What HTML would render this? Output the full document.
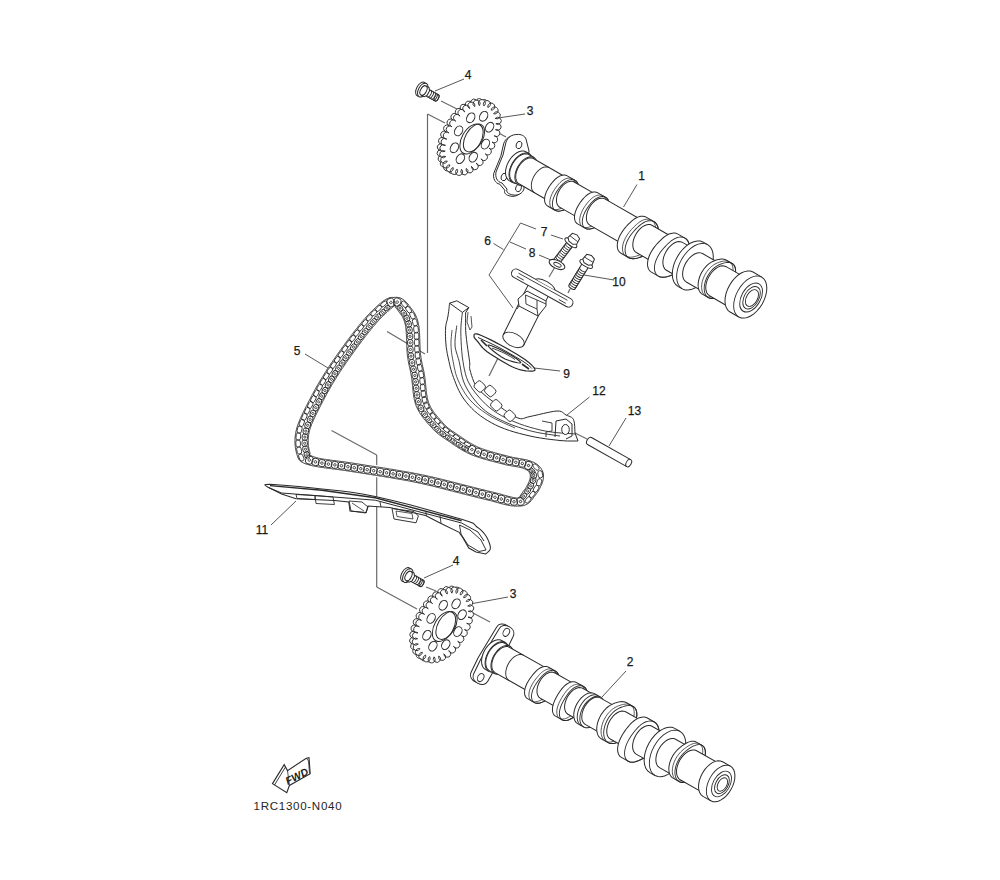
<!DOCTYPE html>
<html><head><meta charset="utf-8"><style>
html,body{margin:0;padding:0;background:#fff;}
svg{display:block;font-family:"Liberation Sans",sans-serif;}
</style></head><body>
<svg width="1000" height="880" viewBox="0 0 1000 880">
<rect width="1000" height="880" fill="#fff"/>
<text x="468" y="79" text-anchor="middle" font-size="12" fill="#1a1a1a" stroke="#1a1a1a" stroke-width="0.25">4</text>
<text x="530" y="115" text-anchor="middle" font-size="12" fill="#1a1a1a" stroke="#1a1a1a" stroke-width="0.25">3</text>
<text x="641.5" y="180" text-anchor="middle" font-size="12" fill="#1a1a1a" stroke="#1a1a1a" stroke-width="0.25">1</text>
<text x="544" y="235.5" text-anchor="middle" font-size="12" fill="#1a1a1a" stroke="#1a1a1a" stroke-width="0.25">7</text>
<text x="487.5" y="244.5" text-anchor="middle" font-size="12" fill="#1a1a1a" stroke="#1a1a1a" stroke-width="0.25">6</text>
<text x="532" y="256.5" text-anchor="middle" font-size="12" fill="#1a1a1a" stroke="#1a1a1a" stroke-width="0.25">8</text>
<text x="619" y="286" text-anchor="middle" font-size="12" fill="#1a1a1a" stroke="#1a1a1a" stroke-width="0.25">10</text>
<text x="566.5" y="377.5" text-anchor="middle" font-size="12" fill="#1a1a1a" stroke="#1a1a1a" stroke-width="0.25">9</text>
<text x="297" y="355" text-anchor="middle" font-size="12" fill="#1a1a1a" stroke="#1a1a1a" stroke-width="0.25">5</text>
<text x="599" y="395" text-anchor="middle" font-size="12" fill="#1a1a1a" stroke="#1a1a1a" stroke-width="0.25">12</text>
<text x="634.5" y="415" text-anchor="middle" font-size="12" fill="#1a1a1a" stroke="#1a1a1a" stroke-width="0.25">13</text>
<text x="262" y="534" text-anchor="middle" font-size="12" fill="#1a1a1a" stroke="#1a1a1a" stroke-width="0.25">11</text>
<text x="456" y="565" text-anchor="middle" font-size="12" fill="#1a1a1a" stroke="#1a1a1a" stroke-width="0.25">4</text>
<text x="513" y="598" text-anchor="middle" font-size="12" fill="#1a1a1a" stroke="#1a1a1a" stroke-width="0.25">3</text>
<text x="630" y="666" text-anchor="middle" font-size="12" fill="#1a1a1a" stroke="#1a1a1a" stroke-width="0.25">2</text>
<line x1="464" y1="79" x2="435" y2="91" stroke="#444" stroke-width="0.9" opacity="1"/>
<line x1="525" y1="114" x2="498" y2="118" stroke="#444" stroke-width="0.9" opacity="1"/>
<line x1="637" y1="184.5" x2="623.5" y2="207" stroke="#444" stroke-width="0.9" opacity="1"/>
<line x1="551" y1="235" x2="563" y2="239" stroke="#444" stroke-width="0.9" opacity="1"/>
<line x1="520.5" y1="223" x2="536" y2="229" stroke="#444" stroke-width="0.9" opacity="1"/>
<line x1="520.5" y1="223" x2="489" y2="275" stroke="#444" stroke-width="0.9" opacity="1"/>
<line x1="489" y1="275" x2="513" y2="308" stroke="#444" stroke-width="0.9" opacity="1"/>
<line x1="493.5" y1="243.5" x2="503.5" y2="249.5" stroke="#444" stroke-width="0.9" opacity="1"/>
<line x1="510" y1="242" x2="526" y2="249" stroke="#444" stroke-width="0.9" opacity="1"/>
<line x1="539" y1="255" x2="551" y2="260" stroke="#444" stroke-width="0.9" opacity="1"/>
<line x1="614" y1="280" x2="584" y2="275" stroke="#444" stroke-width="0.9" opacity="1"/>
<line x1="560" y1="371" x2="534" y2="368" stroke="#444" stroke-width="0.9" opacity="1"/>
<line x1="305" y1="354" x2="328" y2="368" stroke="#444" stroke-width="0.9" opacity="1"/>
<line x1="589.5" y1="397" x2="567" y2="415" stroke="#444" stroke-width="0.9" opacity="1"/>
<line x1="626" y1="418" x2="609" y2="446" stroke="#444" stroke-width="0.9" opacity="1"/>
<line x1="271" y1="525" x2="296" y2="501" stroke="#444" stroke-width="0.9" opacity="1"/>
<line x1="453" y1="565" x2="424" y2="578" stroke="#444" stroke-width="0.9" opacity="1"/>
<line x1="508" y1="597" x2="470" y2="604" stroke="#444" stroke-width="0.9" opacity="1"/>
<line x1="626" y1="671" x2="602" y2="697" stroke="#444" stroke-width="0.9" opacity="1"/>
<line x1="427.5" y1="114" x2="427.5" y2="353" stroke="#6a6a6a" stroke-width="1.2" opacity="1"/>
<line x1="427.5" y1="114" x2="445" y2="123" stroke="#6a6a6a" stroke-width="1.2" opacity="1"/>
<line x1="425" y1="354" x2="387" y2="331.5" stroke="#6a6a6a" stroke-width="1.2" opacity="1"/>
<line x1="441" y1="101" x2="457" y2="109" stroke="#6a6a6a" stroke-width="1.2" opacity="1"/>
<line x1="471" y1="118" x2="506" y2="137" stroke="#6a6a6a" stroke-width="1.2" opacity="1"/>
<line x1="331.5" y1="430.5" x2="376.7" y2="455" stroke="#6a6a6a" stroke-width="1.2" opacity="1"/>
<line x1="376.7" y1="455" x2="376.7" y2="587" stroke="#6a6a6a" stroke-width="1.2" opacity="1"/>
<line x1="376.7" y1="587" x2="417" y2="609" stroke="#6a6a6a" stroke-width="1.2" opacity="1"/>
<line x1="426" y1="587" x2="436" y2="591" stroke="#6a6a6a" stroke-width="1.2" opacity="1"/>
<line x1="456" y1="604" x2="490" y2="622" stroke="#6a6a6a" stroke-width="1.2" opacity="1"/>
<line x1="555" y1="267" x2="549" y2="277" stroke="#6a6a6a" stroke-width="1.2" opacity="1"/>
<line x1="570" y1="289" x2="568" y2="293" stroke="#6a6a6a" stroke-width="1.2" opacity="1"/>
<line x1="500" y1="354" x2="489" y2="376" stroke="#6a6a6a" stroke-width="1.2" opacity="1"/>
<line x1="569" y1="430" x2="587" y2="439" stroke="#6a6a6a" stroke-width="1.2" opacity="1"/>
<path d="M486.40,147.18 A3.5,3.5 0 1 1 482.66,152.84 A3.5,3.5 0 1 1 478.35,157.87 A3.5,3.5 0 1 1 473.64,162.08 A3.5,3.5 0 1 1 468.71,165.31 A3.5,3.5 0 1 1 463.75,167.43 A3.5,3.5 0 1 1 458.95,168.36 A3.5,3.5 0 1 1 454.49,168.07 A3.5,3.5 0 1 1 450.54,166.56 A3.5,3.5 0 1 1 447.27,163.90 A3.5,3.5 0 1 1 444.79,160.18 A3.5,3.5 0 1 1 443.19,155.56 A3.5,3.5 0 1 1 442.55,150.20 A3.5,3.5 0 1 1 442.88,144.32 A3.5,3.5 0 1 1 444.17,138.14 A3.5,3.5 0 1 1 446.37,131.89 A3.5,3.5 0 1 1 449.40,125.82 A3.5,3.5 0 1 1 453.14,120.16 A3.5,3.5 0 1 1 457.45,115.13 A3.5,3.5 0 1 1 462.16,110.92 A3.5,3.5 0 1 1 467.09,107.69 A3.5,3.5 0 1 1 472.05,105.57 A3.5,3.5 0 1 1 476.85,104.64 A3.5,3.5 0 1 1 481.31,104.93 A3.5,3.5 0 1 1 485.25,106.44 A3.5,3.5 0 1 1 488.53,109.10 A3.5,3.5 0 1 1 491.01,112.82 A3.5,3.5 0 1 1 492.61,117.44 A3.5,3.5 0 1 1 493.25,122.80 A3.5,3.5 0 1 1 492.92,128.68 A3.5,3.5 0 1 1 491.63,134.86 A3.5,3.5 0 1 1 489.43,141.11 A3.5,3.5 0 1 1 486.40,147.18 Z" fill="#fff" stroke="#2a2a2a" stroke-width="0.95"/>
<path d="M489.00,148.18 A3.5,3.5 0 1 1 485.26,153.84 A3.5,3.5 0 1 1 480.95,158.87 A3.5,3.5 0 1 1 476.24,163.08 A3.5,3.5 0 1 1 471.31,166.31 A3.5,3.5 0 1 1 466.35,168.43 A3.5,3.5 0 1 1 461.55,169.36 A3.5,3.5 0 1 1 457.09,169.07 A3.5,3.5 0 1 1 453.14,167.56 A3.5,3.5 0 1 1 449.87,164.90 A3.5,3.5 0 1 1 447.39,161.18 A3.5,3.5 0 1 1 445.79,156.56 A3.5,3.5 0 1 1 445.15,151.20 A3.5,3.5 0 1 1 445.48,145.32 A3.5,3.5 0 1 1 446.77,139.14 A3.5,3.5 0 1 1 448.97,132.89 A3.5,3.5 0 1 1 452.00,126.82 A3.5,3.5 0 1 1 455.74,121.16 A3.5,3.5 0 1 1 460.05,116.13 A3.5,3.5 0 1 1 464.76,111.92 A3.5,3.5 0 1 1 469.69,108.69 A3.5,3.5 0 1 1 474.65,106.57 A3.5,3.5 0 1 1 479.45,105.64 A3.5,3.5 0 1 1 483.91,105.93 A3.5,3.5 0 1 1 487.86,107.44 A3.5,3.5 0 1 1 491.13,110.10 A3.5,3.5 0 1 1 493.61,113.82 A3.5,3.5 0 1 1 495.21,118.44 A3.5,3.5 0 1 1 495.85,123.80 A3.5,3.5 0 1 1 495.52,129.68 A3.5,3.5 0 1 1 494.23,135.86 A3.5,3.5 0 1 1 492.03,142.11 A3.5,3.5 0 1 1 489.00,148.18 Z" fill="#fff" stroke="#2a2a2a" stroke-width="0.95"/>
<ellipse cx="485.4" cy="144.1" rx="3.8" ry="5.2" transform="rotate(30 485.4 144.1)" fill="none" stroke="#2a2a2a" stroke-width="1"/>
<ellipse cx="473.3" cy="157.2" rx="3.8" ry="5.2" transform="rotate(30 473.3 157.2)" fill="none" stroke="#2a2a2a" stroke-width="1"/>
<ellipse cx="460.4" cy="158.7" rx="3.8" ry="5.2" transform="rotate(30 460.4 158.7)" fill="none" stroke="#2a2a2a" stroke-width="1"/>
<ellipse cx="454.4" cy="147.8" rx="3.8" ry="5.2" transform="rotate(30 454.4 147.8)" fill="none" stroke="#2a2a2a" stroke-width="1"/>
<ellipse cx="458.6" cy="130.9" rx="3.8" ry="5.2" transform="rotate(30 458.6 130.9)" fill="none" stroke="#2a2a2a" stroke-width="1"/>
<ellipse cx="470.7" cy="117.8" rx="3.8" ry="5.2" transform="rotate(30 470.7 117.8)" fill="none" stroke="#2a2a2a" stroke-width="1"/>
<ellipse cx="483.6" cy="116.3" rx="3.8" ry="5.2" transform="rotate(30 483.6 116.3)" fill="none" stroke="#2a2a2a" stroke-width="1"/>
<ellipse cx="489.6" cy="127.2" rx="3.8" ry="5.2" transform="rotate(30 489.6 127.2)" fill="none" stroke="#2a2a2a" stroke-width="1"/>
<ellipse cx="471.5" cy="139.0" rx="9.6" ry="16.4" transform="rotate(30 471.5 139.0)" fill="none" stroke="#2a2a2a" stroke-width="1"/>
<ellipse cx="474.0" cy="138.0" rx="8.6" ry="15.2" transform="rotate(30 474.0 138.0)" fill="none" stroke="#2a2a2a" stroke-width="1"/>
<path d="M458.90,634.68 A3.5,3.5 0 1 1 455.16,640.34 A3.5,3.5 0 1 1 450.85,645.37 A3.5,3.5 0 1 1 446.14,649.58 A3.5,3.5 0 1 1 441.21,652.81 A3.5,3.5 0 1 1 436.25,654.93 A3.5,3.5 0 1 1 431.45,655.86 A3.5,3.5 0 1 1 426.99,655.57 A3.5,3.5 0 1 1 423.04,654.06 A3.5,3.5 0 1 1 419.77,651.40 A3.5,3.5 0 1 1 417.29,647.68 A3.5,3.5 0 1 1 415.69,643.06 A3.5,3.5 0 1 1 415.05,637.70 A3.5,3.5 0 1 1 415.38,631.82 A3.5,3.5 0 1 1 416.67,625.64 A3.5,3.5 0 1 1 418.87,619.39 A3.5,3.5 0 1 1 421.90,613.32 A3.5,3.5 0 1 1 425.64,607.66 A3.5,3.5 0 1 1 429.95,602.63 A3.5,3.5 0 1 1 434.66,598.42 A3.5,3.5 0 1 1 439.59,595.19 A3.5,3.5 0 1 1 444.55,593.07 A3.5,3.5 0 1 1 449.35,592.14 A3.5,3.5 0 1 1 453.81,592.43 A3.5,3.5 0 1 1 457.75,593.94 A3.5,3.5 0 1 1 461.03,596.60 A3.5,3.5 0 1 1 463.51,600.32 A3.5,3.5 0 1 1 465.11,604.94 A3.5,3.5 0 1 1 465.75,610.30 A3.5,3.5 0 1 1 465.42,616.18 A3.5,3.5 0 1 1 464.13,622.36 A3.5,3.5 0 1 1 461.93,628.61 A3.5,3.5 0 1 1 458.90,634.68 Z" fill="#fff" stroke="#2a2a2a" stroke-width="0.95"/>
<path d="M461.50,635.68 A3.5,3.5 0 1 1 457.76,641.34 A3.5,3.5 0 1 1 453.45,646.37 A3.5,3.5 0 1 1 448.74,650.58 A3.5,3.5 0 1 1 443.81,653.81 A3.5,3.5 0 1 1 438.85,655.93 A3.5,3.5 0 1 1 434.05,656.86 A3.5,3.5 0 1 1 429.59,656.57 A3.5,3.5 0 1 1 425.64,655.06 A3.5,3.5 0 1 1 422.37,652.40 A3.5,3.5 0 1 1 419.89,648.68 A3.5,3.5 0 1 1 418.29,644.06 A3.5,3.5 0 1 1 417.65,638.70 A3.5,3.5 0 1 1 417.98,632.82 A3.5,3.5 0 1 1 419.27,626.64 A3.5,3.5 0 1 1 421.47,620.39 A3.5,3.5 0 1 1 424.50,614.32 A3.5,3.5 0 1 1 428.24,608.66 A3.5,3.5 0 1 1 432.55,603.63 A3.5,3.5 0 1 1 437.26,599.42 A3.5,3.5 0 1 1 442.19,596.19 A3.5,3.5 0 1 1 447.15,594.07 A3.5,3.5 0 1 1 451.95,593.14 A3.5,3.5 0 1 1 456.41,593.43 A3.5,3.5 0 1 1 460.36,594.94 A3.5,3.5 0 1 1 463.63,597.60 A3.5,3.5 0 1 1 466.11,601.32 A3.5,3.5 0 1 1 467.71,605.94 A3.5,3.5 0 1 1 468.35,611.30 A3.5,3.5 0 1 1 468.02,617.18 A3.5,3.5 0 1 1 466.73,623.36 A3.5,3.5 0 1 1 464.53,629.61 A3.5,3.5 0 1 1 461.50,635.68 Z" fill="#fff" stroke="#2a2a2a" stroke-width="0.95"/>
<ellipse cx="457.9" cy="631.6" rx="3.8" ry="5.2" transform="rotate(30 457.9 631.6)" fill="none" stroke="#2a2a2a" stroke-width="1"/>
<ellipse cx="445.8" cy="644.7" rx="3.8" ry="5.2" transform="rotate(30 445.8 644.7)" fill="none" stroke="#2a2a2a" stroke-width="1"/>
<ellipse cx="432.9" cy="646.2" rx="3.8" ry="5.2" transform="rotate(30 432.9 646.2)" fill="none" stroke="#2a2a2a" stroke-width="1"/>
<ellipse cx="426.9" cy="635.3" rx="3.8" ry="5.2" transform="rotate(30 426.9 635.3)" fill="none" stroke="#2a2a2a" stroke-width="1"/>
<ellipse cx="431.1" cy="618.4" rx="3.8" ry="5.2" transform="rotate(30 431.1 618.4)" fill="none" stroke="#2a2a2a" stroke-width="1"/>
<ellipse cx="443.2" cy="605.3" rx="3.8" ry="5.2" transform="rotate(30 443.2 605.3)" fill="none" stroke="#2a2a2a" stroke-width="1"/>
<ellipse cx="456.1" cy="603.8" rx="3.8" ry="5.2" transform="rotate(30 456.1 603.8)" fill="none" stroke="#2a2a2a" stroke-width="1"/>
<ellipse cx="462.1" cy="614.7" rx="3.8" ry="5.2" transform="rotate(30 462.1 614.7)" fill="none" stroke="#2a2a2a" stroke-width="1"/>
<ellipse cx="444.0" cy="626.5" rx="9.6" ry="16.4" transform="rotate(30 444.0 626.5)" fill="none" stroke="#2a2a2a" stroke-width="1"/>
<ellipse cx="446.5" cy="625.5" rx="8.6" ry="15.2" transform="rotate(30 446.5 625.5)" fill="none" stroke="#2a2a2a" stroke-width="1"/>
<g transform="translate(423.5,90.5) rotate(29)">
<path d="M5,-3.6 L15,-3.6 A1.9,3.6 0 0 1 15,3.6 L5,3.6 Z" fill="#fff" stroke="#2a2a2a" stroke-width="1"/>
<ellipse cx="15" cy="0" rx="1.9" ry="3.6" fill="none" stroke="#2a2a2a" stroke-width="0.9"/>
<path d="M6.5,-3.6 A1.8,3.6 0 0 1 6.5,3.6" fill="none" stroke="#2a2a2a" stroke-width="0.9"/>
<path d="M8.7,-3.6 A1.8,3.6 0 0 1 8.7,3.6" fill="none" stroke="#2a2a2a" stroke-width="0.9"/>
<path d="M10.9,-3.6 A1.8,3.6 0 0 1 10.9,3.6" fill="none" stroke="#2a2a2a" stroke-width="0.9"/>
<path d="M13.1,-3.6 A1.8,3.6 0 0 1 13.1,3.6" fill="none" stroke="#2a2a2a" stroke-width="0.9"/>
<ellipse cx="-3" cy="0" rx="4.3" ry="7.6" fill="#fff" stroke="#2a2a2a" stroke-width="1"/>
<ellipse cx="-0.8" cy="0" rx="4.3" ry="7.6" fill="#fff" stroke="#2a2a2a" stroke-width="1"/>
<path d="M0,-5.2 L3.5,-5.2 L5.5,-2.5 L5.5,2.5 L3.5,5.2 L0,5.2" fill="#fff" stroke="#2a2a2a" stroke-width="1"/>
<ellipse cx="0" cy="0" rx="2.9" ry="5.2" fill="#fff" stroke="#2a2a2a" stroke-width="1"/>
</g>
<g transform="translate(408.5,576) rotate(29)">
<path d="M5,-3.6 L15,-3.6 A1.9,3.6 0 0 1 15,3.6 L5,3.6 Z" fill="#fff" stroke="#2a2a2a" stroke-width="1"/>
<ellipse cx="15" cy="0" rx="1.9" ry="3.6" fill="none" stroke="#2a2a2a" stroke-width="0.9"/>
<path d="M6.5,-3.6 A1.8,3.6 0 0 1 6.5,3.6" fill="none" stroke="#2a2a2a" stroke-width="0.9"/>
<path d="M8.7,-3.6 A1.8,3.6 0 0 1 8.7,3.6" fill="none" stroke="#2a2a2a" stroke-width="0.9"/>
<path d="M10.9,-3.6 A1.8,3.6 0 0 1 10.9,3.6" fill="none" stroke="#2a2a2a" stroke-width="0.9"/>
<path d="M13.1,-3.6 A1.8,3.6 0 0 1 13.1,3.6" fill="none" stroke="#2a2a2a" stroke-width="0.9"/>
<ellipse cx="-3" cy="0" rx="4.3" ry="7.6" fill="#fff" stroke="#2a2a2a" stroke-width="1"/>
<ellipse cx="-0.8" cy="0" rx="4.3" ry="7.6" fill="#fff" stroke="#2a2a2a" stroke-width="1"/>
<path d="M0,-5.2 L3.5,-5.2 L5.5,-2.5 L5.5,2.5 L3.5,5.2 L0,5.2" fill="#fff" stroke="#2a2a2a" stroke-width="1"/>
<ellipse cx="0" cy="0" rx="2.9" ry="5.2" fill="#fff" stroke="#2a2a2a" stroke-width="1"/>
</g>
<g transform="translate(573,240) rotate(127.3)">
<path d="M26.4,-3.6 L4,-3.6 L4,3.6 L26.4,3.6 A1.8,3.6 0 0 0 26.4,-3.6" fill="#fff" stroke="#2a2a2a" stroke-width="1"/>
<path d="M5.0,-3.6 A1.6,3.6 0 0 1 5.0,3.6" fill="none" stroke="#2a2a2a" stroke-width="0.9"/>
<path d="M7.3,-3.6 A1.6,3.6 0 0 1 7.3,3.6" fill="none" stroke="#2a2a2a" stroke-width="0.9"/>
<path d="M9.6,-3.6 A1.6,3.6 0 0 1 9.6,3.6" fill="none" stroke="#2a2a2a" stroke-width="0.9"/>
<path d="M11.9,-3.6 A1.6,3.6 0 0 1 11.9,3.6" fill="none" stroke="#2a2a2a" stroke-width="0.9"/>
<path d="M14.2,-3.6 A1.6,3.6 0 0 1 14.2,3.6" fill="none" stroke="#2a2a2a" stroke-width="0.9"/>
<path d="M16.5,-3.6 A1.6,3.6 0 0 1 16.5,3.6" fill="none" stroke="#2a2a2a" stroke-width="0.9"/>
<path d="M18.8,-3.6 A1.6,3.6 0 0 1 18.8,3.6" fill="none" stroke="#2a2a2a" stroke-width="0.9"/>
<path d="M21.1,-3.6 A1.6,3.6 0 0 1 21.1,3.6" fill="none" stroke="#2a2a2a" stroke-width="0.9"/>
<path d="M23.4,-3.6 A1.6,3.6 0 0 1 23.4,3.6" fill="none" stroke="#2a2a2a" stroke-width="0.9"/>
<ellipse cx="3.5" cy="0" rx="2.6" ry="7.2" fill="#fff" stroke="#2a2a2a" stroke-width="1"/>
<path d="M-5,-4.5 L1,-5.5 L3.5,-2.5 L3.5,2.5 L1,5.5 L-5,4.5 L-6.5,0 Z" fill="#fff" stroke="#2a2a2a" stroke-width="1"/>
<path d="M-1.5,-5 L-1.5,5" stroke="#2a2a2a" stroke-width="0.8"/>
</g>
<g transform="translate(588,261) rotate(121.6)">
<path d="M30.5,-3.6 L4,-3.6 L4,3.6 L30.5,3.6 A1.8,3.6 0 0 0 30.5,-3.6" fill="#fff" stroke="#2a2a2a" stroke-width="1"/>
<path d="M10.0,-3.6 A1.6,3.6 0 0 1 10.0,3.6" fill="none" stroke="#2a2a2a" stroke-width="0.9"/>
<path d="M12.3,-3.6 A1.6,3.6 0 0 1 12.3,3.6" fill="none" stroke="#2a2a2a" stroke-width="0.9"/>
<path d="M14.6,-3.6 A1.6,3.6 0 0 1 14.6,3.6" fill="none" stroke="#2a2a2a" stroke-width="0.9"/>
<path d="M16.9,-3.6 A1.6,3.6 0 0 1 16.9,3.6" fill="none" stroke="#2a2a2a" stroke-width="0.9"/>
<path d="M19.2,-3.6 A1.6,3.6 0 0 1 19.2,3.6" fill="none" stroke="#2a2a2a" stroke-width="0.9"/>
<path d="M21.5,-3.6 A1.6,3.6 0 0 1 21.5,3.6" fill="none" stroke="#2a2a2a" stroke-width="0.9"/>
<path d="M23.8,-3.6 A1.6,3.6 0 0 1 23.8,3.6" fill="none" stroke="#2a2a2a" stroke-width="0.9"/>
<path d="M26.1,-3.6 A1.6,3.6 0 0 1 26.1,3.6" fill="none" stroke="#2a2a2a" stroke-width="0.9"/>
<path d="M28.4,-3.6 A1.6,3.6 0 0 1 28.4,3.6" fill="none" stroke="#2a2a2a" stroke-width="0.9"/>
<ellipse cx="3.5" cy="0" rx="2.6" ry="7.2" fill="#fff" stroke="#2a2a2a" stroke-width="1"/>
<path d="M-5,-4.5 L1,-5.5 L3.5,-2.5 L3.5,2.5 L1,5.5 L-5,4.5 L-6.5,0 Z" fill="#fff" stroke="#2a2a2a" stroke-width="1"/>
<path d="M-1.5,-5 L-1.5,5" stroke="#2a2a2a" stroke-width="0.8"/>
</g>
<ellipse cx="557" cy="264.5" rx="8.5" ry="4" transform="rotate(25 557 264.5)" fill="#fff" stroke="#2a2a2a" stroke-width="1.1"/>
<ellipse cx="557.5" cy="264.5" rx="4" ry="1.8" transform="rotate(25 557 264.5)" fill="none" stroke="#2a2a2a" stroke-width="0.9"/>
<g transform="translate(-2.2,1.2)"><path d="M517,134.5 C521,134 525,136 526,139 L529,151 L524,186 C525,192 519,196 513,195 C508,194 506,192 507,189 L502,183 C497,182 495,177 496,172 L503,155 L506,142 C508,137 512,134.5 517,134.5 Z" fill="#fff" stroke="#2a2a2a" stroke-width="1"/></g>
<path d="M517,134.5 C521,134 525,136 526,139 L529,151 L524,186 C525,192 519,196 513,195 C508,194 506,192 507,189 L502,183 C497,182 495,177 496,172 L503,155 L506,142 C508,137 512,134.5 517,134.5 Z" fill="#fff" stroke="#2a2a2a" stroke-width="1"/>
<ellipse cx="519" cy="145" rx="2.8" ry="3.8" transform="rotate(20 519 145)" fill="none" stroke="#2a2a2a" stroke-width="0.9"/>
<ellipse cx="504" cy="177" rx="2.8" ry="3.8" transform="rotate(20 504 177)" fill="none" stroke="#2a2a2a" stroke-width="0.9"/>
<ellipse cx="518.5" cy="188" rx="2.8" ry="3.8" transform="rotate(20 518.5 188)" fill="none" stroke="#2a2a2a" stroke-width="0.9"/>
<g transform="translate(514,164.2) rotate(29.86)">

<path d="M4.00,16.63 L2.05,16.31 L0.18,15.37 L-1.54,13.83 L-3.06,11.76 L-4.30,9.24 L-5.22,6.37 L-5.79,3.24 L-5.98,0.00 L-5.79,-3.24 L-5.22,-6.37 L-4.30,-9.24 L-3.06,-11.76 L-1.54,-13.83 L0.18,-15.37 L2.05,-16.31 L4.00,-16.63 L8.00,-16.63 L9.95,-16.31 L11.82,-15.37 L13.54,-13.83 L15.06,-11.76 L16.30,-9.24 L17.22,-6.37 L17.79,-3.24 L17.98,0.00 L17.79,3.24 L17.22,6.37 L16.30,9.24 L15.06,11.76 L13.54,13.83 L11.82,15.37 L9.95,16.31 L8.00,16.63 Z" fill="#fff" stroke="#2a2a2a" stroke-width="1.0"/>
<path d="M8.00,16.63 L6.05,16.31 L4.18,15.37 L2.46,13.83 L0.94,11.76 L-0.30,9.24 L-1.22,6.37 L-1.79,3.24 L-1.98,0.00 L-1.79,-3.24 L-1.22,-6.37 L-0.30,-9.24 L0.94,-11.76 L2.46,-13.83 L4.18,-15.37 L6.05,-16.31 L8.00,-16.63" fill="none" stroke="#2a2a2a" stroke-width="0.9"/>
<path d="M8.00,15.73 L6.16,15.42 L4.39,14.53 L2.76,13.08 L1.33,11.12 L0.15,8.74 L-0.72,6.02 L-1.25,3.07 L-1.44,0.00 L-1.25,-3.07 L-0.72,-6.02 L0.15,-8.74 L1.33,-11.12 L2.76,-13.08 L4.39,-14.53 L6.16,-15.42 L8.00,-15.73 L14.00,-15.73 L15.84,-15.42 L17.61,-14.53 L19.24,-13.08 L20.67,-11.12 L21.85,-8.74 L22.72,-6.02 L23.25,-3.07 L23.44,0.00 L23.25,3.07 L22.72,6.02 L21.85,8.74 L20.67,11.12 L19.24,13.08 L17.61,14.53 L15.84,15.42 L14.00,15.73 Z" fill="#fff" stroke="#2a2a2a" stroke-width="1.0"/>
<path d="M14.00,15.73 L12.16,15.42 L10.39,14.53 L8.76,13.08 L7.33,11.12 L6.15,8.74 L5.28,6.02 L4.75,3.07 L4.56,0.00 L4.75,-3.07 L5.28,-6.02 L6.15,-8.74 L7.33,-11.12 L8.76,-13.08 L10.39,-14.53 L12.16,-15.42 L14.00,-15.73" fill="none" stroke="#2a2a2a" stroke-width="0.9"/>
<path d="M14.00,14.54 L12.30,14.26 L10.66,13.43 L9.15,12.09 L7.83,10.28 L6.75,8.08 L5.94,5.56 L5.44,2.84 L5.28,0.00 L5.44,-2.84 L5.94,-5.56 L6.75,-8.08 L7.83,-10.28 L9.15,-12.09 L10.66,-13.43 L12.30,-14.26 L14.00,-14.54 L52.00,-14.54 L53.70,-14.26 L55.34,-13.43 L56.85,-12.09 L58.17,-10.28 L59.25,-8.08 L60.06,-5.56 L60.56,-2.84 L60.72,0.00 L60.56,2.84 L60.06,5.56 L59.25,8.08 L58.17,10.28 L56.85,12.09 L55.34,13.43 L53.70,14.26 L52.00,14.54 Z" fill="#fff" stroke="#2a2a2a" stroke-width="1.0"/>
<path d="M52.00,14.54 L50.30,14.26 L48.66,13.43 L47.15,12.09 L45.83,10.28 L44.75,8.08 L43.94,5.56 L43.44,2.84 L43.28,0.00 L43.44,-2.84 L43.94,-5.56 L44.75,-8.08 L45.83,-10.28 L47.15,-12.09 L48.66,-13.43 L50.30,-14.26 L52.00,-14.54" fill="none" stroke="#2a2a2a" stroke-width="0.9"/>
<path d="M32.00,14.53 L30.30,14.25 L28.66,13.42 L27.16,12.08 L25.84,10.27 L24.75,8.07 L23.95,5.56 L23.45,2.83 L23.28,0.00 L23.45,-2.83 L23.95,-5.56 L24.75,-8.07 L25.84,-10.27 L27.16,-12.08 L28.66,-13.42 L30.30,-14.25 L32.00,-14.53" fill="none" stroke="#2a2a2a" stroke-width="0.9"/>
<path d="M41.67,4.62 L41.68,3.03 L41.75,1.50 L41.86,-0.00 L42.02,-1.46 L42.22,-2.87 L42.47,-4.26 L42.75,-5.61 L43.09,-6.92 L43.49,-8.19 L43.95,-9.40 L44.47,-10.53 L45.05,-11.58 L45.68,-12.55 L46.36,-13.42 L47.09,-14.19 L47.85,-14.85 L48.64,-15.39 L49.46,-15.82 L50.29,-16.13 L51.14,-16.32 L52.00,-16.38 L61.00,-16.38 L61.86,-16.32 L62.71,-16.13 L63.54,-15.82 L64.36,-15.39 L65.15,-14.85 L65.91,-14.19 L66.64,-13.42 L67.32,-12.55 L67.95,-11.58 L68.53,-10.53 L69.05,-9.40 L69.51,-8.19 L69.91,-6.92 L70.24,-5.60 L70.49,-4.24 L70.68,-2.85 L70.79,-1.43 L70.83,0.00 L70.79,1.43 L70.68,2.85 L70.49,4.24 L70.24,5.60 L69.91,6.92 L69.51,8.19 L69.05,9.40 L68.54,10.54 L67.98,11.63 L67.38,12.68 L66.74,13.67 L66.07,14.63 L65.35,15.55 L64.58,16.42 L63.77,17.22 L62.90,17.95 L61.97,18.56 L61.00,19.04 L59.98,19.36 L58.94,19.48 L49.94,19.48 L48.88,19.39 L47.84,19.07 L46.82,18.52 L45.86,17.73 L44.97,16.74 L44.17,15.54 L43.48,14.19 L42.91,12.71 L42.45,11.14 L42.11,9.52 L41.87,7.88 L41.73,6.23 Z" fill="#fff" stroke="#2a2a2a" stroke-width="1.0"/>
<path d="M61.00,19.04 L61.97,18.56 L62.90,17.95 L63.77,17.22 L64.58,16.42 L65.35,15.55 L66.07,14.63 L66.74,13.67 L67.38,12.67 L67.98,11.63 L68.54,10.54 L69.05,9.40 L69.51,8.19 L69.91,6.92 L70.24,5.60 L70.49,4.24 L70.68,2.84 L70.79,1.43 L70.83,0.00 L70.79,-1.43 L70.68,-2.84 L70.49,-4.24 L70.24,-5.60 L69.91,-6.92 L69.51,-8.19 L69.05,-9.40 L68.53,-10.53 L67.95,-11.58 L67.32,-12.55 L66.64,-13.42 L65.91,-14.19 L65.15,-14.85 L64.36,-15.39 L63.54,-15.82 L62.71,-16.13 L61.86,-16.32 L61.00,-16.38 L60.14,-16.32 L59.29,-16.13 L58.46,-15.82 L57.64,-15.39 L56.85,-14.85 L56.09,-14.19 L55.36,-13.42 L54.68,-12.55 L54.05,-11.58 L53.47,-10.53 L52.95,-9.40 L52.49,-8.19 L52.09,-6.92 L51.75,-5.61 L51.46,-4.26 L51.22,-2.87 L51.02,-1.45 L50.86,-0.00 L50.75,1.50 L50.68,3.03 L50.67,4.61 L50.73,6.23 L50.87,7.87 L51.11,9.52 L51.45,11.14 L51.91,12.71 L52.48,14.19 L53.17,15.55 L53.97,16.74 L54.86,17.73 L55.82,18.52 L56.84,19.07 L57.88,19.39 L58.94,19.48 L59.98,19.36 Z" fill="none" stroke="#2a2a2a" stroke-width="0.9"/>
<path d="M58.00,19.04 L58.97,18.56 L59.90,17.95 L60.77,17.22 L61.58,16.42 L62.35,15.55 L63.07,14.63 L63.74,13.67 L64.38,12.67 L64.98,11.63 L65.54,10.54 L66.05,9.40 L66.51,8.19 L66.91,6.92 L67.24,5.60 L67.49,4.24 L67.68,2.84 L67.79,1.43 L67.83,0.00 L67.79,-1.43 L67.68,-2.84 L67.49,-4.24 L67.24,-5.60 L66.91,-6.92 L66.51,-8.19 L66.05,-9.40 L65.53,-10.53 L64.95,-11.58 L64.32,-12.55 L63.64,-13.42 L62.91,-14.19 L62.15,-14.85 L61.36,-15.39 L60.54,-15.82 L59.71,-16.13 L58.86,-16.32 L58.00,-16.38 L57.14,-16.32 L56.29,-16.13 L55.46,-15.82 L54.64,-15.39 L53.85,-14.85 L53.09,-14.19 L52.36,-13.42 L51.68,-12.55 L51.05,-11.58 L50.47,-10.53 L49.95,-9.40 L49.49,-8.19 L49.09,-6.92 L48.75,-5.61 L48.46,-4.26 L48.22,-2.87 L48.02,-1.45 L47.86,-0.00 L47.75,1.50 L47.68,3.03 L47.67,4.61 L47.73,6.23 L47.87,7.87 L48.11,9.52 L48.45,11.14 L48.91,12.71 L49.48,14.19 L50.17,15.55 L50.97,16.74 L51.86,17.73 L52.82,18.52 L53.84,19.07 L54.88,19.39 L55.94,19.48 L56.98,19.36 Z" fill="none" stroke="#2a2a2a" stroke-width="0.8" opacity="0.9"/>
<path d="M63.00,14.93 L61.25,14.64 L59.57,13.79 L58.02,12.41 L56.67,10.56 L55.55,8.30 L54.72,5.71 L54.21,2.91 L54.04,0.00 L54.21,-2.91 L54.72,-5.71 L55.55,-8.30 L56.67,-10.56 L58.02,-12.41 L59.57,-13.79 L61.25,-14.64 L63.00,-14.93" fill="none" stroke="#2a2a2a" stroke-width="0.9"/>
<path d="M61.00,14.55 L59.30,14.27 L57.66,13.45 L56.15,12.10 L54.83,10.29 L53.74,8.09 L52.93,5.57 L52.44,2.84 L52.27,0.00 L52.44,-2.84 L52.93,-5.57 L53.74,-8.09 L54.83,-10.29 L56.15,-12.10 L57.66,-13.45 L59.30,-14.27 L61.00,-14.55 L87.00,-14.55 L88.70,-14.27 L90.34,-13.45 L91.85,-12.10 L93.17,-10.29 L94.26,-8.09 L95.07,-5.57 L95.56,-2.84 L95.73,0.00 L95.56,2.84 L95.07,5.57 L94.26,8.09 L93.17,10.29 L91.85,12.10 L90.34,13.45 L88.70,14.27 L87.00,14.55 Z" fill="#fff" stroke="#2a2a2a" stroke-width="1.0"/>
<path d="M87.00,14.55 L85.30,14.27 L83.66,13.45 L82.15,12.10 L80.83,10.29 L79.74,8.09 L78.93,5.57 L78.44,2.84 L78.27,0.00 L78.44,-2.84 L78.93,-5.57 L79.74,-8.09 L80.83,-10.29 L82.15,-12.10 L83.66,-13.45 L85.30,-14.27 L87.00,-14.55" fill="none" stroke="#2a2a2a" stroke-width="0.9"/>
<path d="M76.35,4.76 L76.36,3.13 L76.43,1.54 L76.55,-0.00 L76.72,-1.50 L76.92,-2.96 L77.17,-4.39 L77.47,-5.78 L77.82,-7.14 L78.23,-8.44 L78.70,-9.69 L79.24,-10.85 L79.84,-11.94 L80.49,-12.94 L81.19,-13.83 L81.93,-14.62 L82.72,-15.30 L83.53,-15.87 L84.38,-16.31 L85.24,-16.63 L86.12,-16.82 L87.00,-16.89 L96.00,-16.89 L96.88,-16.82 L97.76,-16.63 L98.62,-16.31 L99.47,-15.87 L100.28,-15.30 L101.07,-14.62 L101.81,-13.83 L102.51,-12.94 L103.16,-11.94 L103.76,-10.85 L104.30,-9.69 L104.77,-8.44 L105.18,-7.14 L105.52,-5.78 L105.79,-4.37 L105.98,-2.93 L106.09,-1.47 L106.13,0.00 L106.09,1.47 L105.98,2.93 L105.79,4.37 L105.52,5.78 L105.18,7.14 L104.77,8.44 L104.30,9.69 L103.77,10.87 L103.19,11.99 L102.58,13.06 L101.92,14.09 L101.22,15.08 L100.48,16.02 L99.69,16.92 L98.85,17.75 L97.96,18.50 L97.00,19.13 L96.00,19.63 L94.95,19.95 L93.88,20.08 L84.88,20.08 L83.79,19.98 L82.71,19.66 L81.66,19.09 L80.67,18.28 L79.75,17.25 L78.93,16.02 L78.22,14.63 L77.63,13.11 L77.16,11.49 L76.80,9.81 L76.56,8.12 L76.41,6.42 Z" fill="#fff" stroke="#2a2a2a" stroke-width="1.0"/>
<path d="M96.00,19.63 L97.00,19.13 L97.96,18.50 L98.85,17.75 L99.70,16.92 L100.48,16.03 L101.22,15.08 L101.92,14.09 L102.58,13.06 L103.20,11.99 L103.77,10.87 L104.30,9.69 L104.77,8.44 L105.18,7.14 L105.52,5.78 L105.79,4.37 L105.98,2.93 L106.09,1.47 L106.13,0.00 L106.09,-1.47 L105.98,-2.93 L105.79,-4.37 L105.52,-5.78 L105.18,-7.14 L104.77,-8.44 L104.30,-9.69 L103.76,-10.85 L103.16,-11.94 L102.51,-12.94 L101.81,-13.83 L101.07,-14.62 L100.28,-15.30 L99.47,-15.87 L98.62,-16.31 L97.76,-16.63 L96.88,-16.82 L96.00,-16.89 L95.12,-16.82 L94.24,-16.63 L93.38,-16.31 L92.53,-15.87 L91.72,-15.30 L90.93,-14.62 L90.19,-13.83 L89.49,-12.94 L88.84,-11.94 L88.24,-10.85 L87.70,-9.69 L87.23,-8.44 L86.82,-7.14 L86.47,-5.78 L86.17,-4.39 L85.92,-2.96 L85.72,-1.50 L85.55,-0.00 L85.43,1.54 L85.36,3.13 L85.35,4.76 L85.41,6.42 L85.56,8.12 L85.80,9.81 L86.16,11.49 L86.63,13.11 L87.22,14.63 L87.93,16.02 L88.75,17.25 L89.67,18.28 L90.66,19.09 L91.71,19.66 L92.79,19.99 L93.88,20.08 L94.95,19.95 Z" fill="none" stroke="#2a2a2a" stroke-width="0.9"/>
<path d="M93.00,19.63 L94.00,19.13 L94.96,18.50 L95.85,17.75 L96.70,16.92 L97.48,16.03 L98.22,15.08 L98.92,14.09 L99.58,13.06 L100.20,11.99 L100.77,10.87 L101.30,9.69 L101.77,8.44 L102.18,7.14 L102.52,5.78 L102.79,4.37 L102.98,2.93 L103.09,1.47 L103.13,0.00 L103.09,-1.47 L102.98,-2.93 L102.79,-4.37 L102.52,-5.78 L102.18,-7.14 L101.77,-8.44 L101.30,-9.69 L100.76,-10.85 L100.16,-11.94 L99.51,-12.94 L98.81,-13.83 L98.07,-14.62 L97.28,-15.30 L96.47,-15.87 L95.62,-16.31 L94.76,-16.63 L93.88,-16.82 L93.00,-16.89 L92.12,-16.82 L91.24,-16.63 L90.38,-16.31 L89.53,-15.87 L88.72,-15.30 L87.93,-14.62 L87.19,-13.83 L86.49,-12.94 L85.84,-11.94 L85.24,-10.85 L84.70,-9.69 L84.23,-8.44 L83.82,-7.14 L83.47,-5.78 L83.17,-4.39 L82.92,-2.96 L82.72,-1.50 L82.55,-0.00 L82.43,1.54 L82.36,3.13 L82.35,4.76 L82.41,6.42 L82.56,8.12 L82.80,9.81 L83.16,11.49 L83.63,13.11 L84.22,14.63 L84.93,16.02 L85.75,17.25 L86.67,18.28 L87.66,19.09 L88.71,19.66 L89.79,19.99 L90.88,20.08 L91.95,19.95 Z" fill="none" stroke="#2a2a2a" stroke-width="0.8" opacity="0.9"/>
<path d="M98.00,14.86 L96.26,14.57 L94.59,13.73 L93.05,12.35 L91.70,10.51 L90.59,8.25 L89.76,5.69 L89.26,2.90 L89.09,0.00 L89.26,-2.90 L89.76,-5.69 L90.59,-8.25 L91.70,-10.51 L93.05,-12.35 L94.59,-13.73 L96.26,-14.57 L98.00,-14.86" fill="none" stroke="#2a2a2a" stroke-width="0.9"/>
<path d="M96.00,15.13 L94.23,14.84 L92.53,13.98 L90.96,12.58 L89.58,10.70 L88.45,8.40 L87.61,5.79 L87.10,2.95 L86.92,0.00 L87.10,-2.95 L87.61,-5.79 L88.45,-8.40 L89.58,-10.70 L90.96,-12.58 L92.53,-13.98 L94.23,-14.84 L96.00,-15.13 L143.00,-15.13 L144.77,-14.84 L146.47,-13.98 L148.04,-12.58 L149.42,-10.70 L150.55,-8.40 L151.39,-5.79 L151.90,-2.95 L152.08,0.00 L151.90,2.95 L151.39,5.79 L150.55,8.40 L149.42,10.70 L148.04,12.58 L146.47,13.98 L144.77,14.84 L143.00,15.13 Z" fill="#fff" stroke="#2a2a2a" stroke-width="1.0"/>
<path d="M143.00,15.13 L141.23,14.84 L139.53,13.98 L137.96,12.58 L136.58,10.70 L135.45,8.40 L134.61,5.79 L134.10,2.95 L133.92,0.00 L134.10,-2.95 L134.61,-5.79 L135.45,-8.40 L136.58,-10.70 L137.96,-12.58 L139.53,-13.98 L141.23,-14.84 L143.00,-15.13" fill="none" stroke="#2a2a2a" stroke-width="0.9"/>
<path d="M127.37,8.27 L127.37,6.08 L127.50,3.97 L127.72,1.94 L128.02,-0.00 L128.38,-1.84 L128.77,-3.59 L129.19,-5.27 L129.65,-6.89 L130.13,-8.45 L130.66,-9.95 L131.23,-11.40 L131.87,-12.77 L132.57,-14.05 L133.34,-15.22 L134.16,-16.28 L135.04,-17.21 L135.96,-18.01 L136.92,-18.67 L137.91,-19.19 L138.93,-19.57 L139.96,-19.80 L141.00,-19.87 L150.00,-19.87 L151.04,-19.80 L152.07,-19.57 L153.09,-19.19 L154.08,-18.67 L155.04,-18.01 L155.96,-17.21 L156.84,-16.28 L157.66,-15.22 L158.43,-14.05 L159.13,-12.77 L159.77,-11.40 L160.32,-9.94 L160.81,-8.40 L161.20,-6.80 L161.52,-5.14 L161.74,-3.45 L161.88,-1.73 L161.92,0.00 L161.88,1.73 L161.74,3.45 L161.52,5.14 L161.20,6.80 L160.81,8.40 L160.32,9.94 L159.77,11.40 L159.13,12.77 L158.43,14.05 L157.68,15.25 L156.88,16.37 L156.04,17.44 L155.17,18.46 L154.25,19.45 L153.28,20.40 L152.25,21.30 L151.16,22.13 L150.00,22.85 L148.77,23.42 L147.48,23.81 L146.15,23.96 L137.15,23.96 L135.79,23.84 L134.45,23.42 L133.14,22.69 L131.91,21.64 L130.78,20.30 L129.79,18.68 L128.96,16.84 L128.30,14.82 L127.82,12.68 L127.51,10.48 Z" fill="#fff" stroke="#2a2a2a" stroke-width="1.0"/>
<path d="M150.00,22.85 L151.16,22.13 L152.25,21.30 L153.28,20.40 L154.25,19.45 L155.17,18.46 L156.04,17.44 L156.88,16.37 L157.68,15.25 L158.43,14.05 L159.13,12.77 L159.77,11.40 L160.33,9.94 L160.81,8.40 L161.20,6.80 L161.52,5.14 L161.74,3.45 L161.88,1.73 L161.92,0.00 L161.88,-1.73 L161.74,-3.45 L161.52,-5.14 L161.20,-6.80 L160.81,-8.40 L160.33,-9.94 L159.77,-11.40 L159.13,-12.77 L158.43,-14.05 L157.66,-15.22 L156.84,-16.28 L155.96,-17.21 L155.04,-18.01 L154.08,-18.67 L153.09,-19.19 L152.07,-19.57 L151.04,-19.80 L150.00,-19.87 L148.96,-19.80 L147.93,-19.57 L146.91,-19.19 L145.92,-18.67 L144.96,-18.01 L144.04,-17.21 L143.16,-16.28 L142.34,-15.22 L141.57,-14.05 L140.87,-12.77 L140.23,-11.40 L139.66,-9.95 L139.13,-8.45 L138.65,-6.89 L138.19,-5.27 L137.77,-3.59 L137.38,-1.84 L137.02,-0.00 L136.72,1.94 L136.50,3.97 L136.37,6.09 L136.37,8.27 L136.51,10.48 L136.82,12.68 L137.30,14.82 L137.96,16.84 L138.79,18.68 L139.78,20.30 L140.91,21.64 L142.14,22.69 L143.45,23.42 L144.79,23.84 L146.15,23.96 L147.48,23.81 L148.77,23.42 Z" fill="none" stroke="#2a2a2a" stroke-width="0.9"/>
<path d="M147.00,22.85 L148.16,22.13 L149.25,21.30 L150.28,20.40 L151.25,19.45 L152.17,18.46 L153.04,17.44 L153.88,16.37 L154.68,15.25 L155.43,14.05 L156.13,12.77 L156.77,11.40 L157.33,9.94 L157.81,8.40 L158.20,6.80 L158.52,5.14 L158.74,3.45 L158.88,1.73 L158.92,0.00 L158.88,-1.73 L158.74,-3.45 L158.52,-5.14 L158.20,-6.80 L157.81,-8.40 L157.33,-9.94 L156.77,-11.40 L156.13,-12.77 L155.43,-14.05 L154.66,-15.22 L153.84,-16.28 L152.96,-17.21 L152.04,-18.01 L151.08,-18.67 L150.09,-19.19 L149.07,-19.57 L148.04,-19.80 L147.00,-19.87 L145.96,-19.80 L144.93,-19.57 L143.91,-19.19 L142.92,-18.67 L141.96,-18.01 L141.04,-17.21 L140.16,-16.28 L139.34,-15.22 L138.57,-14.05 L137.87,-12.77 L137.23,-11.40 L136.66,-9.95 L136.13,-8.45 L135.65,-6.89 L135.19,-5.27 L134.77,-3.59 L134.38,-1.84 L134.02,-0.00 L133.72,1.94 L133.50,3.97 L133.37,6.09 L133.37,8.27 L133.51,10.48 L133.82,12.68 L134.30,14.82 L134.96,16.84 L135.79,18.68 L136.78,20.30 L137.91,21.64 L139.14,22.69 L140.45,23.42 L141.79,23.84 L143.15,23.96 L144.48,23.81 L145.77,23.42 Z" fill="none" stroke="#2a2a2a" stroke-width="0.8" opacity="0.9"/>
<path d="M150.00,15.69 L148.16,15.39 L146.40,14.49 L144.77,13.04 L143.34,11.09 L142.17,8.72 L141.30,6.00 L140.77,3.06 L140.59,0.00 L140.77,-3.06 L141.30,-6.00 L142.17,-8.72 L143.34,-11.09 L144.77,-13.04 L146.40,-14.49 L148.16,-15.39 L150.00,-15.69 L178.00,-15.69 L179.84,-15.39 L181.60,-14.49 L183.23,-13.04 L184.66,-11.09 L185.83,-8.72 L186.70,-6.00 L187.23,-3.06 L187.41,0.00 L187.23,3.06 L186.70,6.00 L185.83,8.72 L184.66,11.09 L183.23,13.04 L181.60,14.49 L179.84,15.39 L178.00,15.69 Z" fill="#fff" stroke="#2a2a2a" stroke-width="1.0"/>
<path d="M178.00,15.69 L176.16,15.39 L174.40,14.49 L172.77,13.04 L171.34,11.09 L170.17,8.72 L169.30,6.00 L168.77,3.06 L168.59,0.00 L168.77,-3.06 L169.30,-6.00 L170.17,-8.72 L171.34,-11.09 L172.77,-13.04 L174.40,-14.49 L176.16,-15.39 L178.00,-15.69" fill="none" stroke="#2a2a2a" stroke-width="0.9"/>
<path d="M162.65,6.41 L162.77,4.18 L163.00,2.04 L163.31,-0.00 L163.67,-1.94 L164.08,-3.80 L164.52,-5.57 L165.00,-7.28 L165.51,-8.93 L166.06,-10.53 L166.67,-12.06 L167.34,-13.51 L168.08,-14.86 L168.90,-16.10 L169.77,-17.21 L170.70,-18.20 L171.67,-19.05 L172.69,-19.75 L173.74,-20.30 L174.81,-20.70 L175.90,-20.93 L177.00,-21.01 L185.00,-21.01 L186.10,-20.93 L187.19,-20.70 L188.26,-20.30 L189.31,-19.75 L190.33,-19.05 L191.30,-18.20 L192.23,-17.21 L193.10,-16.10 L193.92,-14.86 L194.66,-13.51 L195.33,-12.05 L195.92,-10.51 L196.43,-8.88 L196.85,-7.19 L197.18,-5.44 L197.42,-3.65 L197.56,-1.83 L197.61,0.00 L197.56,1.83 L197.42,3.65 L197.18,5.44 L196.85,7.19 L196.43,8.88 L195.92,10.51 L195.33,12.05 L194.66,13.51 L193.92,14.86 L193.12,16.12 L192.27,17.31 L191.39,18.43 L190.46,19.51 L189.49,20.55 L188.46,21.54 L187.38,22.48 L186.22,23.34 L185.00,24.08 L183.71,24.67 L182.35,25.05 L180.95,25.20 L172.95,25.20 L171.53,25.06 L170.11,24.61 L168.74,23.84 L167.45,22.73 L166.27,21.32 L165.23,19.62 L164.35,17.69 L163.65,15.58 L163.14,13.34 L162.81,11.03 L162.66,8.70 Z" fill="#fff" stroke="#2a2a2a" stroke-width="1.0"/>
<path d="M185.00,24.08 L186.22,23.33 L187.38,22.48 L188.46,21.54 L189.49,20.55 L190.46,19.51 L191.39,18.43 L192.27,17.31 L193.12,16.13 L193.92,14.86 L194.66,13.51 L195.33,12.05 L195.92,10.51 L196.43,8.88 L196.85,7.19 L197.18,5.44 L197.42,3.65 L197.56,1.83 L197.61,0.00 L197.56,-1.83 L197.42,-3.65 L197.18,-5.44 L196.85,-7.19 L196.43,-8.88 L195.92,-10.51 L195.33,-12.05 L194.66,-13.51 L193.92,-14.86 L193.10,-16.10 L192.23,-17.21 L191.30,-18.20 L190.33,-19.05 L189.31,-19.75 L188.26,-20.30 L187.19,-20.69 L186.10,-20.93 L185.00,-21.01 L183.90,-20.93 L182.81,-20.69 L181.74,-20.30 L180.69,-19.75 L179.67,-19.05 L178.70,-18.20 L177.77,-17.21 L176.90,-16.10 L176.08,-14.86 L175.34,-13.51 L174.67,-12.06 L174.06,-10.52 L173.51,-8.93 L173.00,-7.28 L172.52,-5.57 L172.08,-3.80 L171.67,-1.94 L171.31,-0.00 L171.00,2.04 L170.77,4.18 L170.65,6.41 L170.66,8.70 L170.81,11.03 L171.14,13.33 L171.65,15.58 L172.35,17.69 L173.23,19.62 L174.27,21.32 L175.45,22.73 L176.74,23.84 L178.11,24.61 L179.53,25.06 L180.95,25.20 L182.35,25.05 L183.71,24.67 Z" fill="none" stroke="#2a2a2a" stroke-width="0.9"/>
<path d="M185.00,16.07 L183.12,15.76 L181.31,14.85 L179.64,13.36 L178.18,11.37 L176.98,8.93 L176.09,6.15 L175.54,3.14 L175.36,0.00 L175.54,-3.14 L176.09,-6.15 L176.98,-8.93 L178.18,-11.37 L179.64,-13.36 L181.31,-14.85 L183.12,-15.76 L185.00,-16.07 L204.00,-16.07 L205.88,-15.76 L207.69,-14.85 L209.36,-13.36 L210.82,-11.37 L212.02,-8.93 L212.91,-6.15 L213.46,-3.14 L213.64,0.00 L213.46,3.14 L212.91,6.15 L212.02,8.93 L210.82,11.37 L209.36,13.36 L207.69,14.85 L205.88,15.76 L204.00,16.07 Z" fill="#fff" stroke="#2a2a2a" stroke-width="1.0"/>
<path d="M204.00,16.07 L202.12,15.76 L200.31,14.85 L198.64,13.36 L197.18,11.37 L195.98,8.93 L195.09,6.15 L194.54,3.14 L194.36,0.00 L194.54,-3.14 L195.09,-6.15 L195.98,-8.93 L197.18,-11.37 L198.64,-13.36 L200.31,-14.85 L202.12,-15.76 L204.00,-16.07" fill="none" stroke="#2a2a2a" stroke-width="0.9"/>
<path d="M203.00,24.32 L200.02,23.83 L197.15,22.38 L194.51,20.02 L192.19,16.86 L190.29,13.00 L188.88,8.59 L188.01,3.81 L187.72,-1.16 L188.01,-6.13 L188.88,-10.91 L190.29,-15.31 L192.19,-19.17 L194.51,-22.34 L197.15,-24.69 L200.02,-26.14 L203.00,-26.63 L208.00,-26.63 L210.98,-26.14 L213.85,-24.69 L216.49,-22.34 L218.81,-19.17 L220.71,-15.31 L222.12,-10.91 L222.99,-6.13 L223.28,-1.16 L222.99,3.81 L222.12,8.59 L220.71,13.00 L218.81,16.86 L216.49,20.02 L213.85,22.38 L210.98,23.83 L208.00,24.32 Z" fill="#fff" stroke="#2a2a2a" stroke-width="1.0"/>
<path d="M208.00,24.32 L205.02,23.83 L202.15,22.38 L199.51,20.02 L197.19,16.86 L195.29,13.00 L193.88,8.59 L193.01,3.81 L192.72,-1.16 L193.01,-6.13 L193.88,-10.91 L195.29,-15.31 L197.19,-19.17 L199.51,-22.34 L202.15,-24.69 L205.02,-26.14 L208.00,-26.63" fill="none" stroke="#2a2a2a" stroke-width="0.9"/>
<path d="M208.00,16.38 L206.08,16.06 L204.24,15.13 L202.54,13.62 L201.05,11.58 L199.83,9.10 L198.92,6.27 L198.36,3.19 L198.17,0.00 L198.36,-3.19 L198.92,-6.27 L199.83,-9.10 L201.05,-11.58 L202.54,-13.62 L204.24,-15.13 L206.08,-16.06 L208.00,-16.38 L229.00,-16.38 L230.92,-16.06 L232.76,-15.13 L234.46,-13.62 L235.95,-11.58 L237.17,-9.10 L238.08,-6.27 L238.64,-3.19 L238.83,0.00 L238.64,3.19 L238.08,6.27 L237.17,9.10 L235.95,11.58 L234.46,13.62 L232.76,15.13 L230.92,16.06 L229.00,16.38 Z" fill="#fff" stroke="#2a2a2a" stroke-width="1.0"/>
<path d="M229.00,16.38 L227.08,16.06 L225.24,15.13 L223.54,13.62 L222.05,11.58 L220.83,9.10 L219.92,6.27 L219.36,3.19 L219.17,0.00 L219.36,-3.19 L219.92,-6.27 L220.83,-9.10 L222.05,-11.58 L223.54,-13.62 L225.24,-15.13 L227.08,-16.06 L229.00,-16.38" fill="none" stroke="#2a2a2a" stroke-width="0.9"/>
<path d="M216.66,-0.00 L216.70,-1.65 L216.83,-3.28 L217.04,-4.89 L217.34,-6.46 L217.72,-7.99 L218.18,-9.45 L218.71,-10.84 L219.31,-12.15 L219.98,-13.37 L220.70,-14.50 L221.46,-15.57 L222.26,-16.57 L223.09,-17.54 L223.97,-18.46 L224.89,-19.33 L225.87,-20.16 L226.90,-20.91 L228.00,-21.56 L229.16,-22.06 L230.37,-22.39 L231.62,-22.50 L238.62,-22.50 L239.88,-22.37 L241.14,-21.95 L242.36,-21.25 L243.51,-20.27 L244.57,-19.00 L245.50,-17.50 L246.28,-15.78 L246.91,-13.89 L247.37,-11.90 L247.67,-9.85 L247.82,-7.78 L247.84,-5.73 L247.74,-3.74 L247.55,-1.83 L247.28,0.00 L246.96,1.75 L246.60,3.41 L246.21,5.01 L245.79,6.55 L245.33,8.03 L244.84,9.47 L244.29,10.84 L243.69,12.15 L243.02,13.37 L242.29,14.48 L241.50,15.48 L240.67,16.37 L239.79,17.13 L238.88,17.76 L237.94,18.26 L236.97,18.61 L235.99,18.83 L235.00,18.90 L228.00,18.90 L227.01,18.83 L226.03,18.61 L225.06,18.26 L224.12,17.76 L223.21,17.13 L222.33,16.37 L221.50,15.48 L220.71,14.48 L219.98,13.37 L219.31,12.15 L218.71,10.84 L218.18,9.45 L217.72,7.99 L217.34,6.46 L217.04,4.89 L216.83,3.28 L216.70,1.65 Z" fill="#fff" stroke="#2a2a2a" stroke-width="1.0"/>
<path d="M235.00,18.90 L235.99,18.83 L236.97,18.61 L237.94,18.26 L238.88,17.76 L239.79,17.13 L240.67,16.37 L241.50,15.48 L242.29,14.48 L243.02,13.37 L243.69,12.15 L244.29,10.84 L244.84,9.47 L245.33,8.03 L245.79,6.55 L246.21,5.01 L246.60,3.41 L246.96,1.74 L247.28,0.00 L247.55,-1.83 L247.74,-3.74 L247.84,-5.73 L247.82,-7.78 L247.67,-9.85 L247.37,-11.90 L246.91,-13.89 L246.28,-15.78 L245.50,-17.49 L244.57,-19.00 L243.51,-20.27 L242.36,-21.26 L241.14,-21.96 L239.88,-22.37 L238.62,-22.50 L237.37,-22.39 L236.16,-22.06 L235.00,-21.56 L233.90,-20.91 L232.87,-20.16 L231.89,-19.33 L230.97,-18.46 L230.09,-17.53 L229.26,-16.57 L228.46,-15.57 L227.70,-14.50 L226.98,-13.37 L226.31,-12.15 L225.71,-10.84 L225.18,-9.45 L224.72,-7.99 L224.34,-6.46 L224.05,-4.89 L223.83,-3.28 L223.70,-1.65 L223.66,-0.00 L223.70,1.65 L223.83,3.28 L224.05,4.89 L224.34,6.46 L224.72,7.99 L225.18,9.45 L225.71,10.84 L226.31,12.15 L226.98,13.37 L227.71,14.48 L228.50,15.48 L229.33,16.37 L230.21,17.13 L231.12,17.76 L232.06,18.26 L233.03,18.61 L234.01,18.83 Z" fill="none" stroke="#2a2a2a" stroke-width="0.9"/>
<path d="M232.00,18.90 L232.99,18.83 L233.97,18.61 L234.94,18.26 L235.88,17.76 L236.79,17.13 L237.67,16.37 L238.50,15.48 L239.29,14.48 L240.02,13.37 L240.69,12.15 L241.29,10.84 L241.84,9.47 L242.33,8.03 L242.79,6.55 L243.21,5.01 L243.60,3.41 L243.96,1.74 L244.28,0.00 L244.55,-1.83 L244.74,-3.74 L244.84,-5.73 L244.82,-7.78 L244.67,-9.85 L244.37,-11.90 L243.91,-13.89 L243.28,-15.78 L242.50,-17.49 L241.57,-19.00 L240.51,-20.27 L239.36,-21.26 L238.14,-21.96 L236.88,-22.37 L235.62,-22.50 L234.37,-22.39 L233.16,-22.06 L232.00,-21.56 L230.90,-20.91 L229.87,-20.16 L228.89,-19.33 L227.97,-18.46 L227.09,-17.53 L226.26,-16.57 L225.46,-15.57 L224.70,-14.50 L223.98,-13.37 L223.31,-12.15 L222.71,-10.84 L222.18,-9.45 L221.72,-7.99 L221.34,-6.46 L221.05,-4.89 L220.83,-3.28 L220.70,-1.65 L220.66,-0.00 L220.70,1.65 L220.83,3.28 L221.05,4.89 L221.34,6.46 L221.72,7.99 L222.18,9.45 L222.71,10.84 L223.31,12.15 L223.98,13.37 L224.71,14.48 L225.50,15.48 L226.33,16.37 L227.21,17.13 L228.12,17.76 L229.06,18.26 L230.03,18.61 L231.01,18.83 Z" fill="none" stroke="#2a2a2a" stroke-width="0.8" opacity="0.9"/>
<path d="M235.00,16.75 L233.04,16.43 L231.15,15.48 L229.42,13.93 L227.89,11.85 L226.64,9.31 L225.71,6.41 L225.14,3.27 L224.95,0.00 L225.14,-3.27 L225.71,-6.41 L226.64,-9.31 L227.89,-11.85 L229.42,-13.93 L231.15,-15.48 L233.04,-16.43 L235.00,-16.75 L262.00,-16.75 L263.96,-16.43 L265.85,-15.48 L267.58,-13.93 L269.11,-11.85 L270.36,-9.31 L271.29,-6.41 L271.86,-3.27 L272.05,0.00 L271.86,3.27 L271.29,6.41 L270.36,9.31 L269.11,11.85 L267.58,13.93 L265.85,15.48 L263.96,16.43 L262.00,16.75 Z" fill="#fff" stroke="#2a2a2a" stroke-width="1.0"/>
<path d="M262.00,16.75 L260.04,16.43 L258.15,15.48 L256.42,13.93 L254.89,11.85 L253.64,9.31 L252.71,6.41 L252.14,3.27 L251.95,0.00 L252.14,-3.27 L252.71,-6.41 L253.64,-9.31 L254.89,-11.85 L256.42,-13.93 L258.15,-15.48 L260.04,-16.43 L262.00,-16.75" fill="none" stroke="#2a2a2a" stroke-width="0.9"/>
<path d="M261.00,20.61 L258.30,20.17 L255.71,18.86 L253.32,16.73 L251.23,13.86 L249.51,10.37 L248.23,6.39 L247.44,2.07 L247.18,-2.42 L247.44,-6.92 L248.23,-11.24 L249.51,-15.22 L251.23,-18.71 L253.32,-21.58 L255.71,-23.71 L258.30,-25.02 L261.00,-25.46 L271.00,-25.46 L273.70,-25.02 L276.29,-23.71 L278.68,-21.58 L280.77,-18.71 L282.49,-15.22 L283.77,-11.24 L284.56,-6.92 L284.82,-2.42 L284.56,2.07 L283.77,6.39 L282.49,10.37 L280.77,13.86 L278.68,16.73 L276.29,18.86 L273.70,20.17 L271.00,20.61 Z" fill="#fff" stroke="#2a2a2a" stroke-width="1.0"/>
<path d="M271.00,20.61 L268.30,20.17 L265.71,18.86 L263.32,16.73 L261.23,13.86 L259.51,10.37 L258.23,6.39 L257.44,2.07 L257.18,-2.42 L257.44,-6.92 L258.23,-11.24 L259.51,-15.22 L261.23,-18.71 L263.32,-21.58 L265.71,-23.71 L268.30,-25.02 L271.00,-25.46" fill="none" stroke="#2a2a2a" stroke-width="0.9"/>
<ellipse cx="272" cy="-2.44" rx="9.50" ry="15.83" fill="none" stroke="#2a2a2a" stroke-width="0.9"/>
<ellipse cx="272.5" cy="-2.44" rx="7.31" ry="12.18" fill="none" stroke="#2a2a2a" stroke-width="0.9"/>
<ellipse cx="273" cy="-2.44" rx="5.48" ry="9.14" fill="none" stroke="#2a2a2a" stroke-width="0.9"/>
</g>
<g transform="translate(490,653) rotate(29.5)">
<path d="M-7,-26 C-7,-34 8,-35 9,-26 L10,-10 L9,14 L9,26 C9,34 -6,35 -7,26 L-8,10 Z" fill="#fff" stroke="#2a2a2a" stroke-width="1"/><path d="M-4,-26 C-4,-34 11,-35 12,-26 L13,-10 L12,14 L12,26 C12,34 -3,35 -4,26 L-5,10 Z" fill="#fff" stroke="#2a2a2a" stroke-width="1"/><ellipse cx="4" cy="-26" rx="3" ry="4.2" fill="none" stroke="#2a2a2a" stroke-width="0.9"/><ellipse cx="4" cy="26" rx="3" ry="4.2" fill="none" stroke="#2a2a2a" stroke-width="0.9"/>
<path d="M4.00,16.63 L2.05,16.31 L0.18,15.37 L-1.54,13.83 L-3.06,11.76 L-4.30,9.24 L-5.22,6.37 L-5.79,3.24 L-5.98,0.00 L-5.79,-3.24 L-5.22,-6.37 L-4.30,-9.24 L-3.06,-11.76 L-1.54,-13.83 L0.18,-15.37 L2.05,-16.31 L4.00,-16.63 L8.00,-16.63 L9.95,-16.31 L11.82,-15.37 L13.54,-13.83 L15.06,-11.76 L16.30,-9.24 L17.22,-6.37 L17.79,-3.24 L17.98,0.00 L17.79,3.24 L17.22,6.37 L16.30,9.24 L15.06,11.76 L13.54,13.83 L11.82,15.37 L9.95,16.31 L8.00,16.63 Z" fill="#fff" stroke="#2a2a2a" stroke-width="1.0"/>
<path d="M8.00,16.63 L6.05,16.31 L4.18,15.37 L2.46,13.83 L0.94,11.76 L-0.30,9.24 L-1.22,6.37 L-1.79,3.24 L-1.98,0.00 L-1.79,-3.24 L-1.22,-6.37 L-0.30,-9.24 L0.94,-11.76 L2.46,-13.83 L4.18,-15.37 L6.05,-16.31 L8.00,-16.63" fill="none" stroke="#2a2a2a" stroke-width="0.9"/>
<path d="M8.00,15.73 L6.16,15.42 L4.39,14.53 L2.76,13.08 L1.33,11.12 L0.15,8.74 L-0.72,6.02 L-1.25,3.07 L-1.44,0.00 L-1.25,-3.07 L-0.72,-6.02 L0.15,-8.74 L1.33,-11.12 L2.76,-13.08 L4.39,-14.53 L6.16,-15.42 L8.00,-15.73 L14.00,-15.73 L15.84,-15.42 L17.61,-14.53 L19.24,-13.08 L20.67,-11.12 L21.85,-8.74 L22.72,-6.02 L23.25,-3.07 L23.44,0.00 L23.25,3.07 L22.72,6.02 L21.85,8.74 L20.67,11.12 L19.24,13.08 L17.61,14.53 L15.84,15.42 L14.00,15.73 Z" fill="#fff" stroke="#2a2a2a" stroke-width="1.0"/>
<path d="M14.00,15.73 L12.16,15.42 L10.39,14.53 L8.76,13.08 L7.33,11.12 L6.15,8.74 L5.28,6.02 L4.75,3.07 L4.56,0.00 L4.75,-3.07 L5.28,-6.02 L6.15,-8.74 L7.33,-11.12 L8.76,-13.08 L10.39,-14.53 L12.16,-15.42 L14.00,-15.73" fill="none" stroke="#2a2a2a" stroke-width="0.9"/>
<path d="M14.00,14.58 L12.29,14.30 L10.65,13.47 L9.14,12.12 L7.81,10.31 L6.73,8.10 L5.92,5.58 L5.42,2.84 L5.25,0.00 L5.42,-2.84 L5.92,-5.58 L6.73,-8.10 L7.81,-10.31 L9.14,-12.12 L10.65,-13.47 L12.29,-14.30 L14.00,-14.58 L58.00,-14.58 L59.71,-14.30 L61.35,-13.47 L62.86,-12.12 L64.19,-10.31 L65.27,-8.10 L66.08,-5.58 L66.58,-2.84 L66.75,0.00 L66.58,2.84 L66.08,5.58 L65.27,8.10 L64.19,10.31 L62.86,12.12 L61.35,13.47 L59.71,14.30 L58.00,14.58 Z" fill="#fff" stroke="#2a2a2a" stroke-width="1.0"/>
<path d="M58.00,14.58 L56.29,14.30 L54.65,13.47 L53.14,12.12 L51.81,10.31 L50.73,8.10 L49.92,5.58 L49.42,2.84 L49.25,0.00 L49.42,-2.84 L49.92,-5.58 L50.73,-8.10 L51.81,-10.31 L53.14,-12.12 L54.65,-13.47 L56.29,-14.30 L58.00,-14.58" fill="none" stroke="#2a2a2a" stroke-width="0.9"/>
<path d="M30.00,14.50 L28.30,14.22 L26.67,13.40 L25.17,12.06 L23.85,10.25 L22.77,8.06 L21.96,5.55 L21.47,2.83 L21.30,0.00 L21.47,-2.83 L21.96,-5.55 L22.77,-8.06 L23.85,-10.25 L25.17,-12.06 L26.67,-13.40 L28.30,-14.22 L30.00,-14.50" fill="none" stroke="#2a2a2a" stroke-width="0.9"/>
<path d="M47.16,6.58 L47.20,4.83 L47.30,3.14 L47.47,1.54 L47.66,-0.00 L47.88,-1.48 L48.13,-2.90 L48.40,-4.29 L48.70,-5.64 L49.05,-6.96 L49.45,-8.23 L49.91,-9.44 L50.43,-10.58 L51.02,-11.64 L51.65,-12.61 L52.34,-13.48 L53.06,-14.26 L53.83,-14.92 L54.62,-15.47 L55.44,-15.90 L56.28,-16.21 L57.14,-16.40 L58.00,-16.46 L66.00,-16.46 L66.86,-16.40 L67.72,-16.21 L68.56,-15.90 L69.38,-15.47 L70.17,-14.92 L70.94,-14.26 L71.67,-13.48 L72.35,-12.61 L72.98,-11.64 L73.57,-10.58 L74.09,-9.44 L74.55,-8.23 L74.95,-6.96 L75.28,-5.63 L75.54,-4.26 L75.73,-2.86 L75.84,-1.44 L75.88,0.00 L75.84,1.44 L75.73,2.86 L75.54,4.26 L75.28,5.63 L74.95,6.96 L74.55,8.23 L74.09,9.44 L73.58,10.60 L73.03,11.71 L72.44,12.80 L71.83,13.87 L71.17,14.92 L70.47,15.97 L69.71,17.01 L68.89,18.01 L68.00,18.94 L67.04,19.78 L66.00,20.47 L64.90,20.98 L63.75,21.25 L62.58,21.27 L54.58,21.27 L53.41,21.01 L52.28,20.45 L51.21,19.60 L50.23,18.48 L49.38,17.13 L48.66,15.57 L48.08,13.87 L47.65,12.08 L47.36,10.23 L47.20,8.39 Z" fill="#fff" stroke="#2a2a2a" stroke-width="1.0"/>
<path d="M66.00,20.47 L67.04,19.78 L68.00,18.94 L68.90,18.01 L69.71,17.01 L70.47,15.97 L71.17,14.92 L71.83,13.87 L72.44,12.80 L73.03,11.72 L73.58,10.60 L74.09,9.44 L74.55,8.23 L74.95,6.96 L75.28,5.63 L75.54,4.26 L75.73,2.86 L75.84,1.43 L75.88,0.00 L75.84,-1.43 L75.73,-2.86 L75.54,-4.26 L75.28,-5.63 L74.95,-6.96 L74.55,-8.23 L74.09,-9.44 L73.57,-10.58 L72.98,-11.64 L72.35,-12.61 L71.66,-13.48 L70.94,-14.26 L70.17,-14.92 L69.38,-15.47 L68.56,-15.90 L67.72,-16.21 L66.86,-16.40 L66.00,-16.46 L65.14,-16.40 L64.28,-16.21 L63.44,-15.90 L62.62,-15.47 L61.83,-14.92 L61.06,-14.26 L60.34,-13.48 L59.65,-12.61 L59.02,-11.64 L58.43,-10.58 L57.91,-9.44 L57.45,-8.23 L57.05,-6.96 L56.70,-5.64 L56.40,-4.29 L56.13,-2.90 L55.88,-1.48 L55.66,-0.00 L55.46,1.54 L55.30,3.14 L55.20,4.83 L55.15,6.58 L55.20,8.39 L55.36,10.24 L55.65,12.08 L56.08,13.87 L56.66,15.57 L57.38,17.13 L58.23,18.48 L59.21,19.60 L60.28,20.45 L61.41,21.01 L62.58,21.27 L63.75,21.25 L64.90,20.98 Z" fill="none" stroke="#2a2a2a" stroke-width="0.9"/>
<path d="M63.00,20.47 L64.04,19.78 L65.00,18.94 L65.90,18.01 L66.71,17.01 L67.47,15.97 L68.17,14.92 L68.83,13.87 L69.44,12.80 L70.03,11.72 L70.58,10.60 L71.09,9.44 L71.55,8.23 L71.95,6.96 L72.28,5.63 L72.54,4.26 L72.73,2.86 L72.84,1.43 L72.88,0.00 L72.84,-1.43 L72.73,-2.86 L72.54,-4.26 L72.28,-5.63 L71.95,-6.96 L71.55,-8.23 L71.09,-9.44 L70.57,-10.58 L69.98,-11.64 L69.35,-12.61 L68.66,-13.48 L67.94,-14.26 L67.17,-14.92 L66.38,-15.47 L65.56,-15.90 L64.72,-16.21 L63.86,-16.40 L63.00,-16.46 L62.14,-16.40 L61.28,-16.21 L60.44,-15.90 L59.62,-15.47 L58.83,-14.92 L58.06,-14.26 L57.34,-13.48 L56.65,-12.61 L56.02,-11.64 L55.43,-10.58 L54.91,-9.44 L54.45,-8.23 L54.05,-6.96 L53.70,-5.64 L53.40,-4.29 L53.13,-2.90 L52.88,-1.48 L52.66,-0.00 L52.46,1.54 L52.30,3.14 L52.20,4.83 L52.15,6.58 L52.20,8.39 L52.36,10.24 L52.65,12.08 L53.08,13.87 L53.66,15.57 L54.38,17.13 L55.23,18.48 L56.21,19.60 L57.28,20.45 L58.41,21.01 L59.58,21.27 L60.75,21.25 L61.90,20.98 Z" fill="none" stroke="#2a2a2a" stroke-width="0.8" opacity="0.9"/>
<path d="M69.00,15.01 L67.24,14.72 L65.55,13.87 L64.00,12.48 L62.63,10.61 L61.51,8.34 L60.68,5.74 L60.17,2.93 L59.99,0.00 L60.17,-2.93 L60.68,-5.74 L61.51,-8.34 L62.63,-10.61 L64.00,-12.48 L65.55,-13.87 L67.24,-14.72 L69.00,-15.01" fill="none" stroke="#2a2a2a" stroke-width="0.9"/>
<path d="M66.00,14.60 L64.29,14.32 L62.65,13.49 L61.13,12.14 L59.80,10.33 L58.71,8.11 L57.90,5.59 L57.41,2.85 L57.24,0.00 L57.41,-2.85 L57.90,-5.59 L58.71,-8.11 L59.80,-10.33 L61.13,-12.14 L62.65,-13.49 L64.29,-14.32 L66.00,-14.60 L90.00,-14.60 L91.71,-14.32 L93.35,-13.49 L94.87,-12.14 L96.20,-10.33 L97.29,-8.11 L98.10,-5.59 L98.59,-2.85 L98.76,0.00 L98.59,2.85 L98.10,5.59 L97.29,8.11 L96.20,10.33 L94.87,12.14 L93.35,13.49 L91.71,14.32 L90.00,14.60 Z" fill="#fff" stroke="#2a2a2a" stroke-width="1.0"/>
<path d="M90.00,14.60 L88.29,14.32 L86.65,13.49 L85.13,12.14 L83.80,10.33 L82.71,8.11 L81.90,5.59 L81.41,2.85 L81.24,0.00 L81.41,-2.85 L81.90,-5.59 L82.71,-8.11 L83.80,-10.33 L85.13,-12.14 L86.65,-13.49 L88.29,-14.32 L90.00,-14.60" fill="none" stroke="#2a2a2a" stroke-width="0.9"/>
<path d="M79.50,4.69 L79.53,3.08 L79.60,1.52 L79.69,-0.00 L79.82,-1.48 L79.98,-2.94 L80.19,-4.38 L80.46,-5.79 L80.80,-7.15 L81.21,-8.46 L81.68,-9.71 L82.22,-10.88 L82.82,-11.96 L83.47,-12.96 L84.18,-13.86 L84.92,-14.65 L85.71,-15.34 L86.53,-15.90 L87.37,-16.34 L88.24,-16.66 L89.11,-16.86 L90.00,-16.92 L98.00,-16.92 L98.89,-16.86 L99.76,-16.66 L100.63,-16.34 L101.47,-15.90 L102.29,-15.34 L103.08,-14.65 L103.82,-13.86 L104.53,-12.96 L105.18,-11.96 L105.78,-10.88 L106.32,-9.71 L106.79,-8.46 L107.20,-7.15 L107.54,-5.79 L107.81,-4.38 L108.00,-2.94 L108.11,-1.48 L108.15,0.00 L108.11,1.48 L108.00,2.94 L107.81,4.38 L107.54,5.79 L107.20,7.15 L106.81,8.48 L106.37,9.77 L105.89,11.04 L105.38,12.30 L104.83,13.57 L104.24,14.84 L103.58,16.11 L102.86,17.37 L102.06,18.58 L101.17,19.71 L100.19,20.72 L99.13,21.56 L98.00,22.19 L96.82,22.55 L95.61,22.63 L87.61,22.63 L86.40,22.41 L85.22,21.86 L84.12,21.02 L83.11,19.90 L82.21,18.55 L81.44,17.00 L80.82,15.31 L80.33,13.53 L79.97,11.71 L79.72,9.89 L79.58,8.10 L79.51,6.36 Z" fill="#fff" stroke="#2a2a2a" stroke-width="1.0"/>
<path d="M98.00,22.19 L99.13,21.56 L100.19,20.72 L101.17,19.71 L102.06,18.58 L102.86,17.37 L103.58,16.11 L104.24,14.84 L104.83,13.57 L105.38,12.30 L105.89,11.04 L106.37,9.77 L106.81,8.48 L107.20,7.15 L107.54,5.79 L107.81,4.38 L108.00,2.94 L108.11,1.47 L108.15,0.00 L108.11,-1.47 L108.00,-2.94 L107.81,-4.38 L107.54,-5.79 L107.20,-7.15 L106.79,-8.46 L106.32,-9.71 L105.78,-10.88 L105.18,-11.97 L104.53,-12.96 L103.82,-13.86 L103.08,-14.65 L102.29,-15.34 L101.47,-15.90 L100.63,-16.35 L99.76,-16.66 L98.88,-16.86 L98.00,-16.92 L97.12,-16.86 L96.24,-16.66 L95.37,-16.35 L94.53,-15.90 L93.71,-15.34 L92.92,-14.65 L92.18,-13.86 L91.47,-12.96 L90.82,-11.97 L90.22,-10.88 L89.68,-9.71 L89.21,-8.46 L88.80,-7.15 L88.46,-5.79 L88.19,-4.38 L87.98,-2.94 L87.82,-1.48 L87.69,-0.00 L87.60,1.52 L87.53,3.08 L87.50,4.69 L87.51,6.36 L87.58,8.10 L87.73,9.89 L87.97,11.71 L88.33,13.53 L88.82,15.31 L89.44,17.00 L90.21,18.55 L91.11,19.90 L92.12,21.02 L93.23,21.86 L94.40,22.40 L95.61,22.63 L96.82,22.55 Z" fill="none" stroke="#2a2a2a" stroke-width="0.9"/>
<path d="M95.00,22.19 L96.13,21.56 L97.19,20.72 L98.17,19.71 L99.06,18.58 L99.86,17.37 L100.58,16.11 L101.24,14.84 L101.83,13.57 L102.38,12.30 L102.89,11.04 L103.37,9.77 L103.81,8.48 L104.20,7.15 L104.54,5.79 L104.81,4.38 L105.00,2.94 L105.11,1.47 L105.15,0.00 L105.11,-1.47 L105.00,-2.94 L104.81,-4.38 L104.54,-5.79 L104.20,-7.15 L103.79,-8.46 L103.32,-9.71 L102.78,-10.88 L102.18,-11.97 L101.53,-12.96 L100.82,-13.86 L100.08,-14.65 L99.29,-15.34 L98.47,-15.90 L97.63,-16.35 L96.76,-16.66 L95.88,-16.86 L95.00,-16.92 L94.12,-16.86 L93.24,-16.66 L92.37,-16.35 L91.53,-15.90 L90.71,-15.34 L89.92,-14.65 L89.18,-13.86 L88.47,-12.96 L87.82,-11.97 L87.22,-10.88 L86.68,-9.71 L86.21,-8.46 L85.80,-7.15 L85.46,-5.79 L85.19,-4.38 L84.98,-2.94 L84.82,-1.48 L84.69,-0.00 L84.60,1.52 L84.53,3.08 L84.50,4.69 L84.51,6.36 L84.58,8.10 L84.73,9.89 L84.97,11.71 L85.33,13.53 L85.82,15.31 L86.44,17.00 L87.21,18.55 L88.11,19.90 L89.12,21.02 L90.23,21.86 L91.40,22.40 L92.61,22.63 L93.82,22.55 Z" fill="none" stroke="#2a2a2a" stroke-width="0.8" opacity="0.9"/>
<path d="M98.00,14.94 L96.25,14.66 L94.57,13.81 L93.02,12.43 L91.66,10.57 L90.54,8.30 L89.72,5.72 L89.21,2.92 L89.03,0.00 L89.21,-2.92 L89.72,-5.72 L90.54,-8.30 L91.66,-10.57 L93.02,-12.43 L94.57,-13.81 L96.25,-14.66 L98.00,-14.94 L112.00,-14.94 L113.75,-14.66 L115.43,-13.81 L116.98,-12.43 L118.34,-10.57 L119.46,-8.30 L120.28,-5.72 L120.79,-2.92 L120.97,0.00 L120.79,2.92 L120.28,5.72 L119.46,8.30 L118.34,10.57 L116.98,12.43 L115.43,13.81 L113.75,14.66 L112.00,14.94 Z" fill="#fff" stroke="#2a2a2a" stroke-width="1.0"/>
<path d="M112.00,14.94 L110.25,14.66 L108.57,13.81 L107.02,12.43 L105.66,10.57 L104.54,8.30 L103.72,5.72 L103.21,2.92 L103.03,0.00 L103.21,-2.92 L103.72,-5.72 L104.54,-8.30 L105.66,-10.57 L107.02,-12.43 L108.57,-13.81 L110.25,-14.66 L112.00,-14.94" fill="none" stroke="#2a2a2a" stroke-width="0.9"/>
<path d="M111.00,18.29 L108.98,17.96 L107.05,16.98 L105.26,15.39 L103.70,13.25 L102.41,10.64 L101.46,7.66 L100.87,4.43 L100.67,1.08 L100.87,-2.28 L101.46,-5.51 L102.41,-8.49 L103.70,-11.10 L105.26,-13.24 L107.05,-14.83 L108.98,-15.81 L111.00,-16.14 L118.00,-16.14 L120.02,-15.81 L121.95,-14.83 L123.74,-13.24 L125.30,-11.10 L126.59,-8.49 L127.54,-5.51 L128.13,-2.28 L128.33,1.08 L128.13,4.43 L127.54,7.66 L126.59,10.64 L125.30,13.25 L123.74,15.39 L121.95,16.98 L120.02,17.96 L118.00,18.29 Z" fill="#fff" stroke="#2a2a2a" stroke-width="1.0"/>
<path d="M118.00,18.29 L115.98,17.96 L114.05,16.98 L112.26,15.39 L110.70,13.25 L109.41,10.64 L108.46,7.66 L107.87,4.43 L107.67,1.08 L107.87,-2.28 L108.46,-5.51 L109.41,-8.49 L110.70,-11.10 L112.26,-13.24 L114.05,-14.83 L115.98,-15.81 L118.00,-16.14" fill="none" stroke="#2a2a2a" stroke-width="0.9"/>
<path d="M115.00,18.30 L112.98,17.97 L111.05,16.99 L109.26,15.40 L107.69,13.26 L106.41,10.65 L105.45,7.67 L104.86,4.44 L104.67,1.08 L104.86,-2.28 L105.45,-5.51 L106.41,-8.49 L107.69,-11.10 L109.26,-13.24 L111.05,-14.84 L112.98,-15.82 L115.00,-16.15" fill="none" stroke="#2a2a2a" stroke-width="0.9"/>
<path d="M118.00,15.25 L116.22,14.95 L114.50,14.09 L112.92,12.68 L111.53,10.78 L110.39,8.47 L109.55,5.83 L109.03,2.97 L108.85,0.00 L109.03,-2.97 L109.55,-5.83 L110.39,-8.47 L111.53,-10.78 L112.92,-12.68 L114.50,-14.09 L116.22,-14.95 L118.00,-15.25 L140.00,-15.25 L141.78,-14.95 L143.50,-14.09 L145.08,-12.68 L146.47,-10.78 L147.61,-8.47 L148.45,-5.83 L148.97,-2.97 L149.15,0.00 L148.97,2.97 L148.45,5.83 L147.61,8.47 L146.47,10.78 L145.08,12.68 L143.50,14.09 L141.78,14.95 L140.00,15.25 Z" fill="#fff" stroke="#2a2a2a" stroke-width="1.0"/>
<path d="M140.00,15.25 L138.22,14.95 L136.50,14.09 L134.92,12.68 L133.53,10.78 L132.39,8.47 L131.55,5.83 L131.03,2.97 L130.85,0.00 L131.03,-2.97 L131.55,-5.83 L132.39,-8.47 L133.53,-10.78 L134.92,-12.68 L136.50,-14.09 L138.22,-14.95 L140.00,-15.25" fill="none" stroke="#2a2a2a" stroke-width="0.9"/>
<path d="M127.10,-0.00 L127.15,-1.73 L127.28,-3.44 L127.51,-5.13 L127.82,-6.78 L128.22,-8.38 L128.70,-9.91 L129.25,-11.37 L129.88,-12.75 L130.59,-14.03 L131.34,-15.22 L132.14,-16.34 L132.97,-17.40 L133.84,-18.43 L134.76,-19.41 L135.73,-20.36 L136.75,-21.26 L137.84,-22.08 L139.00,-22.80 L140.23,-23.38 L141.51,-23.76 L142.84,-23.91 L150.84,-23.91 L152.19,-23.79 L153.54,-23.37 L154.84,-22.64 L156.07,-21.60 L157.20,-20.25 L158.19,-18.64 L159.02,-16.80 L159.68,-14.79 L160.15,-12.66 L160.46,-10.46 L160.60,-8.25 L160.60,-6.07 L160.47,-3.96 L160.25,-1.93 L159.95,0.00 L159.60,1.84 L159.21,3.59 L158.78,5.26 L158.33,6.87 L157.85,8.43 L157.32,9.93 L156.75,11.38 L156.12,12.75 L155.41,14.02 L154.65,15.19 L153.82,16.24 L152.95,17.17 L152.03,17.97 L151.07,18.64 L150.08,19.16 L149.07,19.53 L148.04,19.75 L147.00,19.83 L139.00,19.83 L137.96,19.75 L136.93,19.53 L135.92,19.16 L134.93,18.64 L133.97,17.97 L133.05,17.17 L132.18,16.24 L131.35,15.19 L130.59,14.02 L129.88,12.75 L129.25,11.37 L128.70,9.91 L128.22,8.38 L127.82,6.78 L127.51,5.13 L127.28,3.44 L127.15,1.73 Z" fill="#fff" stroke="#2a2a2a" stroke-width="1.0"/>
<path d="M147.00,19.83 L148.04,19.76 L149.07,19.53 L150.08,19.15 L151.07,18.63 L152.03,17.97 L152.95,17.17 L153.82,16.24 L154.65,15.19 L155.41,14.02 L156.11,12.75 L156.75,11.38 L157.32,9.93 L157.85,8.43 L158.33,6.87 L158.78,5.26 L159.21,3.59 L159.60,1.84 L159.95,0.00 L160.25,-1.93 L160.47,-3.96 L160.60,-6.07 L160.60,-8.25 L160.46,-10.46 L160.15,-12.66 L159.67,-14.79 L159.02,-16.81 L158.19,-18.64 L157.20,-20.25 L156.07,-21.60 L154.84,-22.64 L153.54,-23.37 L152.20,-23.79 L150.84,-23.91 L149.51,-23.76 L148.23,-23.37 L147.00,-22.80 L145.84,-22.08 L144.75,-21.26 L143.73,-20.36 L142.76,-19.41 L141.85,-18.42 L140.97,-17.40 L140.14,-16.34 L139.34,-15.22 L138.58,-14.03 L137.89,-12.75 L137.25,-11.37 L136.70,-9.92 L136.22,-8.38 L135.82,-6.78 L135.51,-5.13 L135.28,-3.44 L135.15,-1.73 L135.10,-0.00 L135.15,1.73 L135.28,3.44 L135.51,5.13 L135.82,6.78 L136.22,8.38 L136.70,9.92 L137.25,11.37 L137.89,12.75 L138.59,14.02 L139.35,15.19 L140.18,16.24 L141.05,17.17 L141.97,17.97 L142.93,18.63 L143.92,19.15 L144.93,19.53 L145.96,19.76 Z" fill="none" stroke="#2a2a2a" stroke-width="0.9"/>
<path d="M144.00,19.83 L145.04,19.76 L146.07,19.53 L147.08,19.15 L148.07,18.63 L149.03,17.97 L149.95,17.17 L150.82,16.24 L151.65,15.19 L152.41,14.02 L153.11,12.75 L153.75,11.38 L154.32,9.93 L154.85,8.43 L155.33,6.87 L155.78,5.26 L156.21,3.59 L156.60,1.84 L156.95,0.00 L157.25,-1.93 L157.47,-3.96 L157.60,-6.07 L157.60,-8.25 L157.46,-10.46 L157.15,-12.66 L156.67,-14.79 L156.02,-16.81 L155.19,-18.64 L154.20,-20.25 L153.07,-21.60 L151.84,-22.64 L150.54,-23.37 L149.20,-23.79 L147.84,-23.91 L146.51,-23.76 L145.23,-23.37 L144.00,-22.80 L142.84,-22.08 L141.75,-21.26 L140.73,-20.36 L139.76,-19.41 L138.85,-18.42 L137.97,-17.40 L137.14,-16.34 L136.34,-15.22 L135.58,-14.03 L134.89,-12.75 L134.25,-11.37 L133.70,-9.92 L133.22,-8.38 L132.82,-6.78 L132.51,-5.13 L132.28,-3.44 L132.15,-1.73 L132.10,-0.00 L132.15,1.73 L132.28,3.44 L132.51,5.13 L132.82,6.78 L133.22,8.38 L133.70,9.92 L134.25,11.37 L134.89,12.75 L135.59,14.02 L136.35,15.19 L137.18,16.24 L138.05,17.17 L138.97,17.97 L139.93,18.63 L140.92,19.15 L141.93,19.53 L142.96,19.76 Z" fill="none" stroke="#2a2a2a" stroke-width="0.8" opacity="0.9"/>
<path d="M147.00,15.62 L145.17,15.32 L143.41,14.43 L141.79,12.99 L140.37,11.04 L139.21,8.68 L138.34,5.98 L137.81,3.05 L137.63,0.00 L137.81,-3.05 L138.34,-5.98 L139.21,-8.68 L140.37,-11.04 L141.79,-12.99 L143.41,-14.43 L145.17,-15.32 L147.00,-15.62 L170.00,-15.62 L171.83,-15.32 L173.59,-14.43 L175.21,-12.99 L176.63,-11.04 L177.79,-8.68 L178.66,-5.98 L179.19,-3.05 L179.37,0.00 L179.19,3.05 L178.66,5.98 L177.79,8.68 L176.63,11.04 L175.21,12.99 L173.59,14.43 L171.83,15.32 L170.00,15.62 Z" fill="#fff" stroke="#2a2a2a" stroke-width="1.0"/>
<path d="M170.00,15.62 L168.17,15.32 L166.41,14.43 L164.79,12.99 L163.37,11.04 L162.21,8.68 L161.34,5.98 L160.81,3.05 L160.63,0.00 L160.81,-3.05 L161.34,-5.98 L162.21,-8.68 L163.37,-11.04 L164.79,-12.99 L166.41,-14.43 L168.17,-15.32 L170.00,-15.62" fill="none" stroke="#2a2a2a" stroke-width="0.9"/>
<path d="M155.51,6.02 L155.60,3.94 L155.75,1.93 L155.96,-0.00 L156.21,-1.86 L156.50,-3.67 L156.83,-5.43 L157.21,-7.15 L157.64,-8.83 L158.15,-10.44 L158.74,-11.98 L159.40,-13.42 L160.14,-14.77 L160.95,-16.00 L161.81,-17.11 L162.74,-18.08 L163.71,-18.93 L164.72,-19.62 L165.76,-20.17 L166.82,-20.56 L167.91,-20.80 L169.00,-20.88 L177.00,-20.88 L178.09,-20.80 L179.18,-20.56 L180.24,-20.17 L181.28,-19.62 L182.29,-18.93 L183.26,-18.08 L184.19,-17.11 L185.05,-16.00 L185.86,-14.77 L186.60,-13.42 L187.26,-11.98 L187.85,-10.44 L188.35,-8.82 L188.77,-7.14 L189.10,-5.40 L189.34,-3.63 L189.48,-1.82 L189.53,0.00 L189.48,1.82 L189.34,3.63 L189.10,5.40 L188.77,7.14 L188.35,8.82 L187.85,10.44 L187.26,11.98 L186.61,13.45 L185.91,14.85 L185.16,16.20 L184.36,17.52 L183.52,18.82 L182.62,20.08 L181.65,21.31 L180.61,22.48 L179.49,23.56 L178.29,24.51 L177.00,25.28 L175.64,25.82 L174.24,26.10 L166.24,26.10 L164.81,26.07 L163.39,25.70 L162.01,24.99 L160.70,23.95 L159.51,22.59 L158.45,20.95 L157.55,19.08 L156.82,17.03 L156.26,14.87 L155.86,12.64 L155.62,10.40 L155.51,8.18 Z" fill="#fff" stroke="#2a2a2a" stroke-width="1.0"/>
<path d="M177.00,25.28 L178.29,24.51 L179.49,23.56 L180.61,22.48 L181.65,21.31 L182.62,20.08 L183.52,18.82 L184.36,17.52 L185.16,16.20 L185.91,14.85 L186.61,13.44 L187.27,11.98 L187.85,10.44 L188.35,8.82 L188.77,7.14 L189.10,5.40 L189.34,3.63 L189.48,1.82 L189.53,0.00 L189.48,-1.82 L189.34,-3.63 L189.10,-5.40 L188.77,-7.14 L188.35,-8.82 L187.85,-10.44 L187.26,-11.98 L186.60,-13.42 L185.86,-14.77 L185.05,-16.00 L184.19,-17.10 L183.26,-18.08 L182.29,-18.92 L181.29,-19.62 L180.24,-20.17 L179.18,-20.56 L178.09,-20.80 L177.00,-20.88 L175.91,-20.80 L174.82,-20.56 L173.76,-20.17 L172.71,-19.62 L171.71,-18.92 L170.74,-18.08 L169.81,-17.10 L168.95,-16.00 L168.14,-14.77 L167.40,-13.42 L166.74,-11.98 L166.15,-10.44 L165.64,-8.83 L165.21,-7.15 L164.83,-5.43 L164.50,-3.67 L164.21,-1.86 L163.96,-0.00 L163.76,1.93 L163.60,3.94 L163.51,6.02 L163.51,8.18 L163.62,10.40 L163.86,12.64 L164.26,14.87 L164.82,17.03 L165.55,19.08 L166.45,20.95 L167.51,22.59 L168.70,23.95 L170.01,24.99 L171.39,25.70 L172.81,26.06 L174.24,26.10 L175.64,25.82 Z" fill="none" stroke="#2a2a2a" stroke-width="0.9"/>
<path d="M177.00,15.99 L175.13,15.68 L173.33,14.77 L171.67,13.30 L170.22,11.31 L169.02,8.88 L168.14,6.12 L167.59,3.12 L167.41,0.00 L167.59,-3.12 L168.14,-6.12 L169.02,-8.88 L170.22,-11.31 L171.67,-13.30 L173.33,-14.77 L175.13,-15.68 L177.00,-15.99 L199.00,-15.99 L200.87,-15.68 L202.67,-14.77 L204.33,-13.30 L205.78,-11.31 L206.98,-8.88 L207.86,-6.12 L208.41,-3.12 L208.59,0.00 L208.41,3.12 L207.86,6.12 L206.98,8.88 L205.78,11.31 L204.33,13.30 L202.67,14.77 L200.87,15.68 L199.00,15.99 Z" fill="#fff" stroke="#2a2a2a" stroke-width="1.0"/>
<path d="M199.00,15.99 L197.13,15.68 L195.33,14.77 L193.67,13.30 L192.22,11.31 L191.02,8.88 L190.14,6.12 L189.59,3.12 L189.41,0.00 L189.59,-3.12 L190.14,-6.12 L191.02,-8.88 L192.22,-11.31 L193.67,-13.30 L195.33,-14.77 L197.13,-15.68 L199.00,-15.99" fill="none" stroke="#2a2a2a" stroke-width="0.9"/>
<path d="M198.00,25.39 L195.03,24.90 L192.17,23.45 L189.54,21.11 L187.23,17.95 L185.34,14.10 L183.93,9.71 L183.06,4.95 L182.77,0.00 L183.06,-4.95 L183.93,-9.71 L185.34,-14.10 L187.23,-17.95 L189.54,-21.11 L192.17,-23.45 L195.03,-24.90 L198.00,-25.39 L204.00,-25.39 L206.97,-24.90 L209.83,-23.45 L212.46,-21.11 L214.77,-17.95 L216.66,-14.10 L218.07,-9.71 L218.94,-4.95 L219.23,0.00 L218.94,4.95 L218.07,9.71 L216.66,14.10 L214.77,17.95 L212.46,21.11 L209.83,23.45 L206.97,24.90 L204.00,25.39 Z" fill="#fff" stroke="#2a2a2a" stroke-width="1.0"/>
<path d="M204.00,25.39 L201.03,24.90 L198.17,23.45 L195.54,21.11 L193.23,17.95 L191.34,14.10 L189.93,9.71 L189.06,4.95 L188.77,0.00 L189.06,-4.95 L189.93,-9.71 L191.34,-14.10 L193.23,-17.95 L195.54,-21.11 L198.17,-23.45 L201.03,-24.90 L204.00,-25.39" fill="none" stroke="#2a2a2a" stroke-width="0.9"/>
<path d="M204.00,16.31 L202.09,15.99 L200.26,15.06 L198.56,13.56 L197.08,11.53 L195.87,9.06 L194.96,6.24 L194.40,3.18 L194.22,0.00 L194.40,-3.18 L194.96,-6.24 L195.87,-9.06 L197.08,-11.53 L198.56,-13.56 L200.26,-15.06 L202.09,-15.99 L204.00,-16.31 L222.00,-16.31 L223.91,-15.99 L225.74,-15.06 L227.44,-13.56 L228.92,-11.53 L230.13,-9.06 L231.04,-6.24 L231.60,-3.18 L231.78,0.00 L231.60,3.18 L231.04,6.24 L230.13,9.06 L228.92,11.53 L227.44,13.56 L225.74,15.06 L223.91,15.99 L222.00,16.31 Z" fill="#fff" stroke="#2a2a2a" stroke-width="1.0"/>
<path d="M222.00,16.31 L220.09,15.99 L218.26,15.06 L216.56,13.56 L215.08,11.53 L213.87,9.06 L212.96,6.24 L212.40,3.18 L212.22,0.00 L212.40,-3.18 L212.96,-6.24 L213.87,-9.06 L215.08,-11.53 L216.56,-13.56 L218.26,-15.06 L220.09,-15.99 L222.00,-16.31" fill="none" stroke="#2a2a2a" stroke-width="0.9"/>
<path d="M209.72,-0.00 L209.76,-1.64 L209.89,-3.27 L210.10,-4.87 L210.40,-6.43 L210.77,-7.95 L211.22,-9.42 L211.71,-10.84 L212.25,-12.24 L212.84,-13.61 L213.47,-14.96 L214.15,-16.31 L214.89,-17.63 L215.71,-18.92 L216.60,-20.15 L217.58,-21.28 L218.64,-22.27 L219.79,-23.09 L221.00,-23.68 L222.26,-24.00 L223.54,-24.04 L230.54,-24.04 L231.82,-23.77 L233.06,-23.19 L234.24,-22.30 L235.32,-21.14 L236.29,-19.74 L237.13,-18.14 L237.83,-16.39 L238.40,-14.54 L238.83,-12.64 L239.14,-10.72 L239.35,-8.82 L239.48,-6.96 L239.54,-5.15 L239.54,-3.39 L239.50,-1.68 L239.42,0.00 L239.30,1.65 L239.13,3.27 L238.90,4.87 L238.60,6.43 L238.22,7.95 L237.77,9.40 L237.24,10.78 L236.64,12.09 L235.98,13.29 L235.25,14.40 L234.47,15.40 L233.64,16.28 L232.77,17.04 L231.86,17.67 L230.92,18.16 L229.96,18.52 L228.98,18.73 L228.00,18.80 L221.00,18.80 L220.02,18.73 L219.04,18.52 L218.08,18.16 L217.14,17.67 L216.23,17.04 L215.36,16.28 L214.53,15.40 L213.75,14.40 L213.02,13.29 L212.36,12.09 L211.76,10.78 L211.23,9.40 L210.78,7.95 L210.40,6.43 L210.10,4.87 L209.89,3.27 L209.76,1.64 Z" fill="#fff" stroke="#2a2a2a" stroke-width="1.0"/>
<path d="M228.00,18.80 L228.98,18.73 L229.96,18.52 L230.92,18.16 L231.86,17.67 L232.77,17.04 L233.64,16.28 L234.47,15.40 L235.25,14.40 L235.98,13.29 L236.64,12.08 L237.24,10.78 L237.77,9.40 L238.22,7.95 L238.60,6.43 L238.90,4.87 L239.13,3.27 L239.30,1.65 L239.42,0.00 L239.50,-1.68 L239.54,-3.39 L239.54,-5.15 L239.48,-6.96 L239.35,-8.82 L239.14,-10.72 L238.83,-12.64 L238.40,-14.54 L237.83,-16.39 L237.13,-18.14 L236.29,-19.74 L235.32,-21.14 L234.24,-22.30 L233.06,-23.19 L231.82,-23.77 L230.54,-24.04 L229.26,-24.00 L228.00,-23.68 L226.79,-23.09 L225.64,-22.27 L224.58,-21.28 L223.60,-20.15 L222.71,-18.92 L221.89,-17.63 L221.15,-16.31 L220.47,-14.96 L219.84,-13.61 L219.25,-12.24 L218.71,-10.84 L218.21,-9.42 L217.77,-7.95 L217.40,-6.43 L217.10,-4.87 L216.89,-3.26 L216.76,-1.64 L216.72,-0.00 L216.76,1.64 L216.89,3.26 L217.10,4.87 L217.40,6.43 L217.78,7.95 L218.23,9.40 L218.76,10.78 L219.36,12.08 L220.02,13.29 L220.75,14.40 L221.53,15.40 L222.36,16.28 L223.23,17.04 L224.14,17.67 L225.08,18.16 L226.04,18.52 L227.02,18.73 Z" fill="none" stroke="#2a2a2a" stroke-width="0.9"/>
<path d="M225.00,18.80 L225.98,18.73 L226.96,18.52 L227.92,18.16 L228.86,17.67 L229.77,17.04 L230.64,16.28 L231.47,15.40 L232.25,14.40 L232.98,13.29 L233.64,12.08 L234.24,10.78 L234.77,9.40 L235.22,7.95 L235.60,6.43 L235.90,4.87 L236.13,3.27 L236.30,1.65 L236.42,0.00 L236.50,-1.68 L236.54,-3.39 L236.54,-5.15 L236.48,-6.96 L236.35,-8.82 L236.14,-10.72 L235.83,-12.64 L235.40,-14.54 L234.83,-16.39 L234.13,-18.14 L233.29,-19.74 L232.32,-21.14 L231.24,-22.30 L230.06,-23.19 L228.82,-23.77 L227.54,-24.04 L226.26,-24.00 L225.00,-23.68 L223.79,-23.09 L222.64,-22.27 L221.58,-21.28 L220.60,-20.15 L219.71,-18.92 L218.89,-17.63 L218.15,-16.31 L217.47,-14.96 L216.84,-13.61 L216.25,-12.24 L215.71,-10.84 L215.21,-9.42 L214.77,-7.95 L214.40,-6.43 L214.10,-4.87 L213.89,-3.26 L213.76,-1.64 L213.72,-0.00 L213.76,1.64 L213.89,3.26 L214.10,4.87 L214.40,6.43 L214.78,7.95 L215.23,9.40 L215.76,10.78 L216.36,12.08 L217.02,13.29 L217.75,14.40 L218.53,15.40 L219.36,16.28 L220.23,17.04 L221.14,17.67 L222.08,18.16 L223.04,18.52 L224.02,18.73 Z" fill="none" stroke="#2a2a2a" stroke-width="0.8" opacity="0.9"/>
<path d="M228.00,16.67 L226.05,16.35 L224.17,15.40 L222.44,13.86 L220.93,11.79 L219.68,9.26 L218.76,6.38 L218.19,3.25 L218.00,0.00 L218.19,-3.25 L218.76,-6.38 L219.68,-9.26 L220.93,-11.79 L222.44,-13.86 L224.17,-15.40 L226.05,-16.35 L228.00,-16.67 L256.00,-16.67 L257.95,-16.35 L259.83,-15.40 L261.56,-13.86 L263.07,-11.79 L264.32,-9.26 L265.24,-6.38 L265.81,-3.25 L266.00,0.00 L265.81,3.25 L265.24,6.38 L264.32,9.26 L263.07,11.79 L261.56,13.86 L259.83,15.40 L257.95,16.35 L256.00,16.67 Z" fill="#fff" stroke="#2a2a2a" stroke-width="1.0"/>
<path d="M256.00,16.67 L254.05,16.35 L252.17,15.40 L250.44,13.86 L248.93,11.79 L247.68,9.26 L246.76,6.38 L246.19,3.25 L246.00,0.00 L246.19,-3.25 L246.76,-6.38 L247.68,-9.26 L248.93,-11.79 L250.44,-13.86 L252.17,-15.40 L254.05,-16.35 L256.00,-16.67" fill="none" stroke="#2a2a2a" stroke-width="0.9"/>
<path d="M256.00,19.92 L253.67,19.54 L251.43,18.41 L249.36,16.57 L247.55,14.09 L246.06,11.07 L244.96,7.62 L244.28,3.89 L244.05,0.00 L244.28,-3.89 L244.96,-7.62 L246.06,-11.07 L247.55,-14.09 L249.36,-16.57 L251.43,-18.41 L253.67,-19.54 L256.00,-19.92 L265.00,-19.92 L267.33,-19.54 L269.57,-18.41 L271.64,-16.57 L273.45,-14.09 L274.94,-11.07 L276.04,-7.62 L276.72,-3.89 L276.95,0.00 L276.72,3.89 L276.04,7.62 L274.94,11.07 L273.45,14.09 L271.64,16.57 L269.57,18.41 L267.33,19.54 L265.00,19.92 Z" fill="#fff" stroke="#2a2a2a" stroke-width="1.0"/>
<path d="M265.00,19.92 L262.67,19.54 L260.43,18.41 L258.36,16.57 L256.55,14.09 L255.06,11.07 L253.96,7.62 L253.28,3.89 L253.05,0.00 L253.28,-3.89 L253.96,-7.62 L255.06,-11.07 L256.55,-14.09 L258.36,-16.57 L260.43,-18.41 L262.67,-19.54 L265.00,-19.92" fill="none" stroke="#2a2a2a" stroke-width="0.9"/>
<ellipse cx="266" cy="0.00" rx="8.37" ry="13.94" fill="none" stroke="#2a2a2a" stroke-width="0.9"/>
<ellipse cx="266.5" cy="0.00" rx="6.19" ry="10.31" fill="none" stroke="#2a2a2a" stroke-width="0.9"/>
<ellipse cx="267" cy="0.00" rx="4.37" ry="7.28" fill="none" stroke="#2a2a2a" stroke-width="0.9"/>
</g>
<path d="M394.0,301.5 L394.8,301.5 L395.6,301.6 L396.4,301.8 L397.2,302.1 L397.9,302.5 L398.7,302.9 L399.4,303.5 L400.1,304.1 L400.7,304.8 L401.4,305.5 L402.0,306.2 L402.6,306.9 L403.3,307.7 L403.9,308.5 L404.4,309.3 L405.0,310.0 L405.6,310.7 L406.1,311.5 L406.6,312.2 L407.1,312.9 L407.7,313.7 L408.1,314.5 L408.6,315.3 L409.1,316.2 L409.5,317.0 L409.9,318.0 L410.3,319.0 L410.7,320.0 L411.1,321.2 L411.4,322.4 L411.7,323.6 L412.0,325.0 L412.3,326.5 L412.5,328.1 L412.7,329.8 L412.8,331.7 L412.9,333.6 L413.0,335.5 L413.1,337.6 L413.2,339.6 L413.3,341.7 L413.3,343.8 L413.4,345.8 L413.5,347.8 L413.6,349.7 L413.7,351.6 L413.8,353.3 L414.0,355.0 L414.2,356.5 L414.4,358.0 L414.6,359.4 L414.8,360.7 L415.1,362.0 L415.3,363.2 L415.6,364.4 L415.8,365.6 L416.1,366.8 L416.4,368.0 L416.6,369.2 L416.9,370.4 L417.2,371.7 L417.5,373.1 L417.7,374.5 L418.0,376.0 L418.2,377.6 L418.5,379.3 L418.7,381.0 L418.8,382.8 L419.0,384.6 L419.2,386.5 L419.4,388.4 L419.6,390.2 L419.8,392.1 L420.0,394.0 L420.3,395.9 L420.6,397.7 L421.0,399.5 L421.4,401.2 L421.9,402.9 L422.5,404.5 L423.1,406.0 L423.9,407.5 L424.7,409.0 L425.5,410.5 L426.4,411.9 L427.4,413.3 L428.3,414.7 L429.3,416.0 L430.4,417.3 L431.4,418.6 L432.5,419.9 L433.5,421.1 L434.5,422.2 L435.6,423.4 L436.5,424.4 L437.5,425.5 L438.4,426.5 L439.3,427.4 L440.2,428.3 L441.1,429.1 L441.9,429.9 L442.8,430.6 L443.7,431.3 L444.5,432.0 L445.4,432.6 L446.3,433.3 L447.3,433.9 L448.2,434.6 L449.2,435.3 L450.3,436.0 L451.4,436.7 L452.5,437.5 L453.7,438.3 L454.9,439.1 L456.1,440.0 L457.4,440.9 L458.7,441.8 L460.1,442.7 L461.4,443.5 L462.8,444.4 L464.2,445.3 L465.7,446.2 L467.2,447.1 L468.7,447.9 L470.2,448.7 L471.8,449.5 L473.4,450.3 L475.0,451.0 L476.7,451.7 L478.5,452.4 L480.3,453.0 L482.2,453.7 L484.1,454.3 L486.1,454.9 L488.1,455.5 L490.1,456.1 L492.1,456.6 L494.1,457.2 L496.0,457.7 L498.0,458.2 L499.8,458.7 L501.6,459.1 L503.4,459.6 L505.0,460.0 L506.6,460.4 L508.1,460.8 L509.7,461.1 L511.2,461.4 L512.6,461.7 L514.1,462.0 L515.5,462.2 L516.8,462.4 L518.1,462.7 L519.4,462.9 L520.6,463.1 L521.8,463.4 L522.9,463.6 L524.0,463.9 L525.0,464.2 L526.0,464.5 L526.9,464.8 L527.8,465.2 L528.5,465.5 L529.3,465.8 L530.0,466.2 L530.6,466.5 L531.2,466.9 L531.7,467.2 L532.2,467.6 L532.7,468.0 L533.1,468.4 L533.6,468.8 L533.9,469.2 L534.3,469.6 L534.7,470.0 L535.0,470.5 L535.3,471.0 L535.6,471.5 L535.9,471.9 L536.1,472.4 L536.3,472.9 L536.5,473.5 L536.6,474.0 L536.8,474.5 L536.8,475.1 L536.9,475.7 L536.9,476.3 L536.9,476.9 L536.9,477.5 L536.8,478.1 L536.7,478.8 L536.5,479.5 L536.3,480.2 L536.1,481.0 L535.8,481.8 L535.5,482.7 L535.1,483.5 L534.7,484.4 L534.3,485.3 L533.8,486.2 L533.3,487.2 L532.8,488.1 L532.3,489.0 L531.8,489.8 L531.2,490.7 L530.6,491.5 L530.1,492.3 L529.5,493.0 L528.9,493.7 L528.4,494.4 L527.9,495.2 L527.3,495.9 L526.8,496.6 L526.2,497.4 L525.7,498.1 L525.1,498.7 L524.4,499.3 L523.7,499.9 L523.0,500.4 L522.1,500.9 L521.2,501.3 L520.3,501.6 L519.2,501.9 L518.0,502.0 L516.7,502.0 L515.3,502.0 L513.8,501.8 L512.2,501.6 L510.5,501.3 L508.8,500.9 L507.0,500.5 L505.2,500.0 L503.3,499.5 L501.4,499.0 L499.5,498.5 L497.5,498.0 L495.6,497.4 L493.7,496.9 L491.8,496.4 L490.0,496.0 L488.2,495.6 L486.3,495.1 L484.5,494.7 L482.6,494.2 L480.8,493.8 L478.9,493.3 L477.0,492.8 L475.1,492.3 L473.2,491.9 L471.3,491.4 L469.4,490.9 L467.5,490.4 L465.7,489.9 L463.8,489.4 L461.9,489.0 L460.0,488.5 L458.1,488.0 L456.2,487.6 L454.4,487.1 L452.5,486.6 L450.6,486.1 L448.8,485.6 L446.9,485.1 L445.0,484.7 L443.1,484.2 L441.2,483.7 L439.4,483.2 L437.5,482.8 L435.6,482.3 L433.8,481.9 L431.9,481.4 L430.0,481.0 L428.2,480.6 L426.4,480.2 L424.7,479.8 L423.0,479.4 L421.3,479.1 L419.6,478.7 L418.0,478.4 L416.2,478.0 L414.5,477.7 L412.7,477.3 L410.9,477.0 L408.9,476.6 L406.9,476.2 L404.7,475.8 L402.4,475.4 L400.0,475.0 L397.4,474.6 L394.6,474.1 L391.7,473.6 L388.6,473.1 L385.4,472.6 L382.2,472.1 L378.9,471.5 L375.5,471.0 L372.1,470.5 L368.8,469.9 L365.4,469.4 L362.1,468.9 L358.9,468.4 L355.8,467.9 L352.8,467.4 L350.0,467.0 L347.2,466.6 L344.5,466.2 L341.7,465.8 L339.0,465.4 L336.3,465.1 L333.6,464.7 L331.0,464.4 L328.4,464.1 L326.0,463.7 L323.6,463.4 L321.3,463.0 L319.2,462.7 L317.2,462.3 L315.3,461.9 L313.6,461.5 L312.0,461.0 L310.6,460.5 L309.4,460.1 L308.4,459.7 L307.5,459.3 L306.7,458.8 L306.1,458.4 L305.6,458.0 L305.1,457.5 L304.8,457.0 L304.4,456.5 L304.2,455.9 L303.9,455.2 L303.7,454.5 L303.5,453.8 L303.3,452.9 L303.0,452.0 L302.7,451.0 L302.5,449.9 L302.3,448.8 L302.1,447.6 L301.9,446.4 L301.7,445.1 L301.7,443.7 L301.6,442.3 L301.6,440.9 L301.6,439.4 L301.7,437.9 L301.8,436.4 L302.0,434.8 L302.3,433.2 L302.6,431.6 L303.0,430.0 L303.5,428.3 L304.0,426.6 L304.6,424.9 L305.3,423.1 L306.1,421.2 L306.9,419.3 L307.8,417.4 L308.7,415.5 L309.6,413.6 L310.6,411.6 L311.5,409.6 L312.5,407.7 L313.5,405.7 L314.5,403.8 L315.5,401.9 L316.5,400.0 L317.5,398.1 L318.4,396.3 L319.4,394.4 L320.4,392.6 L321.4,390.8 L322.4,389.0 L323.5,387.1 L324.5,385.3 L325.6,383.5 L326.7,381.6 L327.8,379.7 L329.0,377.9 L330.2,375.9 L331.4,374.0 L332.7,372.0 L334.0,370.0 L335.4,367.9 L336.8,365.8 L338.3,363.6 L339.9,361.3 L341.5,359.0 L343.1,356.7 L344.7,354.3 L346.4,352.0 L348.1,349.7 L349.7,347.4 L351.4,345.1 L353.0,343.0 L354.6,340.8 L356.1,338.8 L357.6,336.8 L359.0,335.0 L360.4,333.2 L361.7,331.6 L363.0,329.9 L364.2,328.3 L365.5,326.8 L366.7,325.3 L367.9,323.9 L369.1,322.5 L370.2,321.2 L371.4,319.9 L372.5,318.7 L373.6,317.5 L374.7,316.3 L375.8,315.2 L376.9,314.1 L378.0,313.0 L379.1,312.0 L380.2,310.9 L381.3,309.9 L382.3,308.9 L383.4,308.0 L384.4,307.0 L385.5,306.2 L386.5,305.3 L387.5,304.6 L388.5,303.9 L389.5,303.3 L390.4,302.7 L391.4,302.3 L392.3,301.9 L393.1,301.7 Z" fill="none" stroke="#fff" stroke-width="12"/>
<path d="M393.9,297.5 L394.4,297.4 L395.6,297.4 L396.8,297.3 L397.4,297.4 L398.6,297.5 L399.7,297.8 L400.2,298.0 L401.2,298.4 L402.1,298.8 L402.6,299.2 L403.4,299.7 L404.1,300.2 L404.5,300.6 L405.2,301.1 L405.6,301.5 L406.1,302.1 L406.6,302.6 L407.0,303.0 L407.5,303.5 L407.8,304.0 L408.2,304.5 L408.6,305.0 L409.0,305.4 L409.3,305.9 L409.7,306.3 L410.0,306.8 L410.4,307.3 L410.8,307.8 L411.2,308.3 L411.6,308.8 L411.9,309.3 L412.4,309.9 L412.7,310.4 L413.1,311.0 L413.6,311.6 L413.9,312.1 L414.3,312.8 L414.7,313.4 L415.0,314.0 L415.4,314.7 L415.6,315.2 L415.9,315.9 L416.2,316.5 L416.5,317.2 L416.7,317.8 L417.0,318.5 L417.1,319.1 L417.4,319.8 L417.6,320.4 L417.8,321.1 L417.9,321.7 L418.1,322.4 L418.2,323.0 L418.4,323.6 L418.5,324.4 L418.6,324.9 L418.8,325.8 L418.9,326.3 L418.9,326.9 L419.1,327.7 L419.1,328.3 L419.2,328.8 L419.2,329.6 L419.3,330.1 L419.3,330.7 L419.4,331.4 L419.4,332.0 L419.5,332.5 L419.5,333.1 L419.5,333.8 L419.6,334.4 L419.6,334.9 L419.6,335.6 L419.7,336.2 L419.7,336.7 L419.7,337.3 L419.7,337.9 L419.7,338.5 L419.8,339.1 L419.8,339.7 L419.8,340.3 L419.8,340.8 L419.8,341.4 L419.9,342.0 L419.9,342.6 L419.9,343.1 L419.9,343.7 L419.9,344.3 L420.0,344.9 L420.0,345.4 L420.0,346.0 L420.0,346.5 L420.1,347.1 L420.1,347.6 L420.1,348.2 L420.1,348.8 L420.2,349.4 L420.2,349.9 L420.2,350.4 L420.3,351.0 L420.3,351.5 L420.3,352.1 L420.4,352.6 L420.4,353.1 L420.5,353.6 L420.5,354.2 L420.6,354.6 L420.7,355.2 L420.7,355.7 L420.8,356.3 L420.9,356.8 L420.9,357.3 L421.0,357.9 L421.1,358.3 L421.2,358.9 L421.3,359.5 L421.4,360.0 L421.5,360.5 L421.6,361.0 L421.7,361.6 L421.8,362.1 L421.9,362.7 L422.0,363.2 L422.1,363.7 L422.2,364.3 L422.4,364.8 L422.5,365.4 L422.6,366.0 L422.7,366.5 L422.9,367.1 L423.0,367.7 L423.1,368.2 L423.2,368.8 L423.4,369.4 L423.5,370.0 L423.6,370.6 L423.7,371.2 L423.9,371.7 L424.0,372.4 L424.1,372.9 L424.2,373.6 L424.3,374.2 L424.4,374.7 L424.5,375.4 L424.6,376.0 L424.7,376.6 L424.8,377.3 L424.9,377.9 L425.0,378.6 L425.1,379.1 L425.1,379.7 L425.2,380.4 L425.3,380.9 L425.3,381.5 L425.4,382.1 L425.5,382.7 L425.5,383.3 L425.6,383.8 L425.6,384.4 L425.7,385.0 L425.7,385.6 L425.8,386.1 L425.8,386.7 L425.9,387.3 L425.9,387.8 L426.0,388.4 L426.0,389.0 L426.1,389.5 L426.2,390.0 L426.2,390.6 L426.3,391.2 L426.3,391.7 L426.4,392.2 L426.5,392.8 L426.5,393.3 L426.6,393.8 L426.7,394.4 L426.8,394.8 L426.9,395.4 L427.0,395.9 L427.1,396.5 L427.1,396.9 L427.2,397.4 L427.4,398.0 L427.4,398.3 L427.5,398.9 L427.7,399.5 L427.7,399.7 L427.9,400.3 L428.1,400.8 L428.1,401.1 L428.3,401.6 L428.5,402.2 L428.5,402.4 L428.7,402.9 L428.9,403.5 L429.0,403.7 L429.3,404.3 L429.5,404.8 L429.6,405.1 L429.9,405.6 L430.1,406.1 L430.3,406.4 L430.6,406.9 L430.7,407.3 L431.0,407.8 L431.3,408.2 L431.5,408.6 L431.8,409.1 L432.1,409.6 L432.3,409.9 L432.6,410.4 L433.0,410.9 L433.2,411.3 L433.5,411.7 L433.9,412.2 L434.1,412.6 L434.5,413.0 L434.8,413.5 L435.1,413.9 L435.5,414.3 L435.8,414.7 L436.1,415.1 L436.5,415.6 L436.9,416.0 L437.2,416.4 L437.5,416.9 L437.9,417.3 L438.3,417.7 L438.6,418.1 L439.0,418.5 L439.4,419.0 L439.8,419.4 L440.1,419.8 L440.5,420.2 L440.9,420.7 L441.3,421.1 L441.7,421.5 L442.0,421.9 L442.4,422.3 L442.7,422.7 L443.1,423.1 L443.3,423.5 L443.7,423.9 L444.0,424.2 L444.4,424.6 L444.9,425.0 L445.2,425.3 L445.6,425.7 L445.9,426.0 L446.2,426.4 L446.7,426.7 L447.0,427.1 L447.4,427.4 L447.8,427.8 L448.3,428.1 L448.6,428.4 L449.1,428.8 L449.5,429.1 L450.0,429.4 L450.4,429.7 L450.9,430.1 L451.3,430.4 L451.8,430.7 L452.3,431.0 L452.7,431.4 L453.2,431.7 L453.7,432.0 L454.2,432.3 L454.7,432.6 L455.1,433.0 L455.6,433.3 L456.1,433.6 L456.6,434.0 L457.1,434.3 L457.6,434.6 L458.0,434.9 L458.5,435.3 L459.0,435.6 L459.4,435.9 L459.9,436.2 L460.4,436.6 L460.9,436.9 L461.3,437.2 L461.8,437.5 L462.3,437.9 L462.7,438.2 L463.2,438.5 L463.7,438.8 L464.1,439.1 L464.6,439.4 L465.0,439.7 L465.5,440.0 L466.0,440.3 L466.4,440.6 L466.9,441.0 L467.3,441.2 L467.8,441.5 L468.2,441.8 L468.7,442.1 L469.2,442.4 L469.6,442.7 L470.1,443.0 L470.7,443.3 L471.0,443.5 L471.6,443.8 L472.1,444.1 L472.5,444.3 L473.0,444.6 L473.5,444.9 L473.9,445.1 L474.4,445.4 L474.9,445.6 L475.4,445.9 L475.8,446.1 L476.4,446.3 L476.9,446.6 L477.3,446.8 L477.8,447.0 L478.3,447.2 L478.7,447.5 L479.3,447.7 L479.8,447.9 L480.3,448.1 L480.8,448.3 L481.3,448.5 L481.8,448.7 L482.3,448.9 L482.9,449.1 L483.4,449.2 L483.9,449.4 L484.5,449.6 L485.0,449.8 L485.5,450.0 L486.0,450.1 L486.6,450.3 L487.1,450.5 L487.6,450.7 L488.2,450.8 L488.8,451.0 L489.3,451.2 L489.8,451.3 L490.4,451.5 L490.9,451.6 L491.4,451.8 L492.0,452.0 L492.6,452.1 L493.1,452.3 L493.6,452.4 L494.2,452.6 L494.8,452.7 L495.3,452.9 L495.8,453.0 L496.4,453.2 L497.0,453.3 L497.5,453.5 L498.1,453.6 L498.6,453.8 L499.2,453.9 L499.7,454.1 L500.3,454.2 L500.8,454.3 L501.4,454.5 L502.0,454.6 L502.5,454.8 L503.1,454.9 L503.6,455.1 L504.2,455.2 L504.8,455.4 L505.3,455.5 L505.9,455.6 L506.4,455.8 L507.0,455.9 L507.5,456.1 L508.0,456.2 L508.6,456.4 L509.1,456.5 L509.6,456.6 L510.2,456.8 L510.7,456.9 L511.3,457.0 L511.8,457.1 L512.3,457.3 L512.9,457.4 L513.4,457.5 L514.0,457.6 L514.6,457.7 L515.1,457.8 L515.7,457.9 L516.2,458.0 L516.8,458.1 L517.4,458.2 L518.0,458.3 L518.5,458.4 L519.1,458.5 L519.7,458.6 L520.3,458.7 L520.9,458.8 L521.4,458.9 L522.1,459.0 L522.6,459.1 L523.3,459.2 L523.8,459.4 L524.5,459.5 L525.1,459.6 L525.8,459.7 L526.5,459.9 L527.1,460.0 L527.8,460.2 L528.3,460.4 L529.0,460.6 L529.7,460.8 L530.2,461.0 L530.9,461.3 L531.6,461.5 L532.1,461.8 L532.8,462.0 L533.5,462.3 L534.3,462.7 L535.0,463.1 L535.7,463.5 L536.4,463.9 L537.1,464.4 L537.8,464.9 L538.5,465.5 L539.0,466.1 L539.6,466.7 L540.1,467.3 L540.7,468.0 L541.2,468.7 L541.6,469.5 L542.1,470.3 L542.5,471.1 L542.8,472.0 L543.1,473.0 L543.3,473.9 L543.4,474.9 L543.5,475.8 L543.5,476.8 L543.4,477.7 L543.3,478.6 L543.2,479.5 L543.0,480.3 L542.9,480.9 L542.6,481.7 L542.3,482.5 L542.1,483.3 L541.9,483.8 L541.6,484.5 L541.3,485.2 L541.1,485.7 L540.7,486.4 L540.5,486.9 L540.2,487.6 L539.8,488.2 L539.6,488.7 L539.2,489.3 L538.9,489.8 L538.6,490.5 L538.3,491.0 L537.9,491.6 L537.6,492.1 L537.2,492.7 L536.8,493.3 L536.5,493.7 L536.0,494.3 L535.7,494.8 L535.2,495.4 L534.7,496.0 L534.3,496.4 L534.0,496.9 L533.6,497.3 L533.4,497.7 L533.1,498.1 L532.8,498.6 L532.5,499.0 L532.1,499.5 L531.7,500.0 L531.3,500.5 L530.7,501.1 L530.4,501.6 L529.7,502.1 L529.3,502.6 L528.6,503.1 L527.7,503.7 L527.3,504.0 L526.3,504.5 L525.3,504.9 L524.8,505.2 L523.8,505.4 L523.2,505.7 L522.2,505.8 L521.1,505.9 L520.6,506.0 L519.6,506.0 L519.0,506.1 L518.1,506.0 L517.5,506.0 L516.9,506.1 L516.0,506.1 L515.4,506.0 L514.6,506.1 L514.1,506.0 L513.5,505.9 L512.7,505.9 L512.1,505.8 L511.4,505.8 L510.8,505.7 L510.3,505.6 L509.6,505.5 L509.0,505.4 L508.5,505.3 L507.8,505.2 L507.2,505.0 L506.7,504.9 L506.1,504.8 L505.5,504.7 L504.9,504.5 L504.3,504.4 L503.7,504.2 L503.2,504.1 L502.6,504.0 L502.0,503.8 L501.5,503.7 L500.9,503.5 L500.3,503.4 L499.8,503.2 L499.2,503.1 L498.7,502.9 L498.1,502.7 L497.5,502.6 L497.0,502.4 L496.4,502.3 L495.9,502.1 L495.3,502.0 L494.8,501.8 L494.2,501.7 L493.7,501.5 L493.1,501.4 L492.6,501.2 L492.1,501.1 L491.5,500.9 L490.9,500.8 L490.4,500.6 L489.9,500.5 L489.3,500.4 L488.8,500.2 L488.2,500.1 L487.7,500.0 L487.1,499.8 L486.5,499.7 L486.0,499.6 L485.4,499.4 L484.8,499.3 L484.3,499.2 L483.7,499.0 L483.1,498.9 L482.6,498.7 L482.0,498.6 L481.4,498.5 L480.9,498.3 L480.3,498.2 L479.7,498.1 L479.2,497.9 L478.6,497.8 L478.1,497.6 L477.5,497.5 L476.9,497.4 L476.4,497.2 L475.8,497.1 L475.2,496.9 L474.7,496.8 L474.1,496.6 L473.6,496.5 L473.0,496.4 L472.4,496.2 L471.9,496.1 L471.3,495.9 L470.8,495.8 L470.2,495.7 L469.6,495.5 L469.1,495.4 L468.5,495.2 L468.0,495.1 L467.4,494.9 L466.8,494.8 L466.3,494.7 L465.7,494.5 L465.2,494.4 L464.6,494.2 L464.0,494.1 L463.5,493.9 L462.9,493.8 L462.4,493.7 L461.8,493.5 L461.3,493.4 L460.7,493.2 L460.1,493.1 L459.6,492.9 L459.0,492.8 L458.5,492.7 L457.9,492.5 L457.3,492.4 L456.8,492.2 L456.2,492.1 L455.6,492.0 L455.1,491.8 L454.5,491.7 L454.0,491.5 L453.4,491.4 L452.8,491.2 L452.3,491.1 L451.7,491.0 L451.2,490.8 L450.6,490.7 L450.0,490.5 L449.5,490.4 L448.9,490.2 L448.4,490.1 L447.8,489.9 L447.2,489.8 L446.7,489.7 L446.1,489.5 L445.6,489.4 L445.0,489.2 L444.4,489.1 L443.9,488.9 L443.3,488.8 L442.8,488.7 L442.2,488.5 L441.7,488.4 L441.1,488.2 L440.5,488.1 L440.0,487.9 L439.4,487.8 L438.9,487.7 L438.3,487.5 L437.8,487.4 L437.2,487.2 L436.6,487.1 L436.1,487.0 L435.5,486.8 L435.0,486.7 L434.4,486.5 L433.9,486.4 L433.3,486.3 L432.8,486.1 L432.2,486.0 L431.7,485.9 L431.1,485.7 L430.6,485.6 L430.0,485.5 L429.4,485.4 L428.9,485.2 L428.3,485.1 L427.8,485.0 L427.2,484.8 L426.6,484.7 L426.1,484.6 L425.5,484.5 L425.0,484.3 L424.4,484.2 L423.8,484.1 L423.3,484.0 L422.7,483.8 L422.1,483.7 L421.6,483.6 L421.0,483.5 L420.5,483.3 L419.9,483.2 L419.3,483.1 L418.8,483.0 L418.2,482.9 L417.7,482.7 L417.1,482.6 L416.6,482.5 L416.0,482.4 L415.4,482.3 L414.9,482.2 L414.3,482.0 L413.7,481.9 L413.2,481.8 L412.6,481.7 L412.1,481.6 L411.5,481.5 L410.9,481.4 L410.4,481.3 L409.8,481.1 L409.3,481.0 L408.7,480.9 L408.1,480.8 L407.6,480.7 L407.0,480.6 L406.4,480.5 L405.9,480.4 L405.3,480.3 L404.7,480.2 L404.2,480.1 L403.6,480.0 L403.1,479.9 L402.5,479.8 L401.9,479.7 L401.4,479.6 L400.8,479.5 L400.2,479.4 L399.7,479.3 L399.1,479.2 L398.5,479.1 L398.0,479.0 L397.4,478.9 L396.8,478.8 L396.3,478.7 L395.7,478.6 L395.1,478.5 L394.6,478.4 L394.0,478.3 L393.4,478.2 L392.9,478.1 L392.3,478.0 L391.7,477.9 L391.2,477.8 L390.6,477.7 L390.0,477.6 L389.5,477.5 L388.9,477.4 L388.3,477.3 L387.8,477.2 L387.2,477.2 L386.6,477.1 L386.0,477.0 L385.5,476.9 L384.9,476.8 L384.3,476.7 L383.8,476.6 L383.2,476.5 L382.6,476.4 L382.1,476.3 L381.5,476.2 L380.9,476.1 L380.4,476.1 L379.8,476.0 L379.2,475.9 L378.6,475.8 L378.1,475.7 L377.5,475.6 L376.9,475.5 L376.4,475.4 L375.8,475.3 L375.2,475.2 L374.7,475.1 L374.1,475.1 L373.5,475.0 L372.9,474.9 L372.4,474.8 L371.8,474.7 L371.2,474.6 L370.7,474.5 L370.1,474.4 L369.5,474.3 L369.0,474.3 L368.4,474.2 L367.8,474.1 L367.2,474.0 L366.7,473.9 L366.1,473.8 L365.5,473.7 L365.0,473.6 L364.4,473.5 L363.8,473.5 L363.2,473.4 L362.7,473.3 L362.1,473.2 L361.5,473.1 L361.0,473.0 L360.4,472.9 L359.8,472.8 L359.3,472.7 L358.7,472.6 L358.1,472.6 L357.5,472.5 L357.0,472.4 L356.4,472.3 L355.8,472.2 L355.3,472.1 L354.7,472.0 L354.1,471.9 L353.5,471.8 L353.0,471.8 L352.4,471.7 L351.8,471.6 L351.3,471.5 L350.7,471.4 L350.1,471.3 L349.5,471.2 L349.0,471.1 L348.4,471.0 L347.9,470.9 L347.3,470.9 L346.7,470.8 L346.2,470.7 L345.6,470.6 L345.0,470.5 L344.5,470.4 L343.9,470.3 L343.3,470.3 L342.8,470.2 L342.2,470.1 L341.6,470.0 L341.1,469.9 L340.5,469.9 L339.9,469.8 L339.4,469.7 L338.8,469.6 L338.2,469.5 L337.7,469.5 L337.1,469.4 L336.5,469.3 L335.9,469.3 L335.4,469.2 L334.8,469.1 L334.2,469.0 L333.7,469.0 L333.1,468.9 L332.5,468.8 L331.9,468.7 L331.4,468.7 L330.8,468.6 L330.2,468.5 L329.6,468.4 L329.1,468.4 L328.5,468.3 L327.9,468.2 L327.3,468.1 L326.7,468.1 L326.2,468.0 L325.6,467.9 L325.0,467.8 L324.4,467.8 L323.9,467.7 L323.3,467.6 L322.7,467.5 L322.1,467.4 L321.5,467.3 L321.0,467.2 L320.3,467.2 L319.7,467.1 L319.2,467.0 L318.6,466.9 L318.0,466.8 L317.4,466.7 L316.8,466.6 L316.1,466.5 L315.6,466.4 L315.0,466.3 L314.5,466.1 L313.7,466.0 L313.2,465.9 L312.6,465.8 L311.9,465.6 L311.3,465.5 L310.8,465.3 L310.0,465.2 L309.5,465.0 L308.8,464.8 L308.2,464.6 L307.5,464.4 L307.0,464.2 L306.2,464.0 L305.6,463.8 L304.8,463.5 L303.8,463.1 L303.3,462.8 L302.3,462.3 L301.2,461.7 L300.2,460.8 L299.3,459.9 L298.6,458.9 L298.1,458.0 L297.8,457.2 L297.6,456.6 L297.4,455.9 L297.2,455.3 L297.0,454.7 L296.9,454.2 L296.7,453.6 L296.6,453.0 L296.3,452.3 L296.2,451.7 L296.0,450.9 L295.9,450.4 L295.7,449.6 L295.6,449.0 L295.5,448.3 L295.4,447.7 L295.3,446.9 L295.3,446.3 L295.2,445.8 L295.1,445.0 L295.1,444.4 L295.0,443.6 L295.0,443.1 L295.0,442.3 L295.0,441.7 L295.0,441.1 L295.0,440.3 L295.0,439.7 L295.0,438.9 L295.1,438.4 L295.1,437.8 L295.2,437.0 L295.2,436.4 L295.3,435.8 L295.4,435.0 L295.5,434.5 L295.6,433.7 L295.7,433.1 L295.8,432.5 L295.9,431.7 L296.0,431.2 L296.2,430.6 L296.4,429.8 L296.5,429.2 L296.6,428.7 L296.9,427.9 L297.0,427.3 L297.2,426.8 L297.5,426.0 L297.6,425.5 L297.8,424.9 L298.1,424.2 L298.3,423.6 L298.5,423.1 L298.8,422.4 L299.0,421.9 L299.2,421.3 L299.4,420.8 L299.7,420.1 L299.9,419.6 L300.1,419.1 L300.4,418.4 L300.6,417.9 L300.9,417.4 L301.1,416.8 L301.4,416.2 L301.6,415.7 L301.9,415.2 L302.1,414.6 L302.4,414.1 L302.6,413.5 L302.9,413.0 L303.2,412.4 L303.4,411.9 L303.7,411.4 L303.9,410.9 L304.2,410.3 L304.5,409.8 L304.7,409.3 L305.0,408.7 L305.3,408.2 L305.5,407.7 L305.8,407.2 L306.1,406.6 L306.3,406.1 L306.6,405.6 L306.9,405.1 L307.1,404.5 L307.4,404.0 L307.7,403.5 L307.9,403.0 L308.2,402.5 L308.5,402.0 L308.7,401.4 L309.0,400.9 L309.3,400.4 L309.5,399.9 L309.8,399.4 L310.1,398.9 L310.3,398.4 L310.6,397.9 L310.9,397.3 L311.1,396.8 L311.4,396.3 L311.7,395.8 L311.9,395.3 L312.2,394.7 L312.5,394.2 L312.8,393.7 L313.1,393.2 L313.3,392.7 L313.6,392.2 L313.9,391.7 L314.2,391.1 L314.5,390.6 L314.7,390.1 L315.0,389.6 L315.3,389.1 L315.6,388.6 L315.9,388.1 L316.2,387.5 L316.5,387.0 L316.7,386.5 L317.0,386.0 L317.3,385.5 L317.6,385.0 L317.9,384.5 L318.2,383.9 L318.5,383.4 L318.8,382.9 L319.1,382.4 L319.4,381.9 L319.7,381.4 L320.0,380.9 L320.3,380.4 L320.6,379.9 L320.9,379.4 L321.2,378.9 L321.5,378.4 L321.8,377.9 L322.1,377.4 L322.4,376.9 L322.8,376.4 L323.1,375.9 L323.4,375.4 L323.7,374.9 L324.0,374.4 L324.3,373.9 L324.6,373.4 L324.9,372.9 L325.2,372.4 L325.6,371.9 L325.9,371.4 L326.2,370.9 L326.5,370.4 L326.8,369.9 L327.1,369.4 L327.4,368.9 L327.8,368.4 L328.1,367.9 L328.4,367.5 L328.7,367.0 L329.1,366.5 L329.4,366.0 L329.7,365.5 L330.0,365.0 L330.4,364.5 L330.7,364.0 L331.0,363.5 L331.4,363.1 L331.7,362.6 L332.0,362.1 L332.4,361.6 L332.7,361.1 L333.0,360.6 L333.4,360.1 L333.7,359.7 L334.0,359.2 L334.3,358.7 L334.7,358.2 L335.0,357.7 L335.3,357.3 L335.7,356.8 L336.0,356.3 L336.3,355.8 L336.7,355.4 L337.0,354.9 L337.3,354.4 L337.7,353.9 L338.0,353.5 L338.4,353.0 L338.7,352.5 L339.0,352.0 L339.4,351.6 L339.7,351.1 L340.0,350.6 L340.4,350.1 L340.7,349.7 L341.1,349.2 L341.4,348.7 L341.7,348.2 L342.1,347.8 L342.4,347.3 L342.8,346.8 L343.1,346.4 L343.5,345.9 L343.8,345.4 L344.1,344.9 L344.5,344.5 L344.8,344.0 L345.2,343.5 L345.5,343.1 L345.9,342.6 L346.2,342.1 L346.5,341.7 L346.9,341.2 L347.2,340.7 L347.6,340.2 L347.9,339.8 L348.3,339.3 L348.6,338.8 L349.0,338.4 L349.3,337.9 L349.7,337.5 L350.0,337.0 L350.4,336.5 L350.7,336.0 L351.1,335.6 L351.5,335.1 L351.8,334.6 L352.2,334.2 L352.5,333.7 L352.8,333.3 L353.2,332.8 L353.6,332.3 L353.9,331.9 L354.3,331.4 L354.7,330.9 L355.0,330.5 L355.4,330.0 L355.7,329.6 L356.1,329.1 L356.5,328.6 L356.8,328.2 L357.2,327.7 L357.6,327.3 L357.9,326.8 L358.3,326.4 L358.7,325.9 L359.0,325.4 L359.4,325.0 L359.8,324.5 L360.1,324.1 L360.5,323.6 L360.9,323.2 L361.3,322.7 L361.6,322.3 L362.0,321.8 L362.4,321.3 L362.8,320.9 L363.2,320.5 L363.6,320.0 L364.0,319.5 L364.3,319.1 L364.8,318.6 L365.1,318.2 L365.5,317.8 L365.9,317.3 L366.3,316.9 L366.7,316.4 L367.2,316.0 L367.5,315.5 L367.9,315.1 L368.4,314.7 L368.8,314.2 L369.2,313.8 L369.6,313.4 L370.0,312.9 L370.4,312.5 L370.9,312.1 L371.3,311.6 L371.7,311.2 L372.2,310.8 L372.6,310.4 L373.1,309.9 L373.5,309.5 L373.9,309.1 L374.4,308.7 L374.8,308.3 L375.2,307.9 L375.6,307.5 L376.1,307.1 L376.5,306.7 L376.9,306.3 L377.3,305.9 L377.8,305.5 L378.2,305.1 L378.7,304.7 L379.2,304.3 L379.6,303.9 L380.1,303.5 L380.5,303.1 L381.1,302.7 L381.5,302.3 L382.1,301.9 L382.6,301.6 L383.0,301.2 L383.6,300.8 L384.1,300.5 L384.8,300.1 L385.2,299.8 L385.9,299.4 L386.4,299.1 L387.2,298.7 L387.7,298.5 L388.6,298.2 L389.1,297.9 L390.0,297.7 L391.1,297.6 L391.6,297.4 L392.7,297.4 L393.9,297.5 Z" fill="none" stroke="#2a2a2a" stroke-width="1.0" />
<path d="M394.1,305.5 L394.7,305.5 L394.7,305.6 L394.6,305.9 L395.2,306.0 L395.1,306.3 L395.0,306.5 L395.5,306.8 L395.5,307.1 L395.5,307.3 L396.0,307.7 L396.1,307.9 L396.2,308.2 L396.6,308.6 L396.8,308.9 L397.2,309.3 L397.4,309.7 L397.6,310.0 L398.0,310.5 L398.2,310.8 L398.6,311.3 L398.9,311.7 L399.2,312.2 L399.5,312.6 L399.9,313.1 L400.2,313.5 L400.6,314.0 L400.9,314.4 L401.2,314.9 L401.5,315.3 L401.7,315.7 L402.1,316.2 L402.3,316.5 L402.6,317.0 L402.8,317.4 L402.9,317.8 L403.2,318.3 L403.3,318.6 L403.5,318.9 L403.7,319.5 L403.8,319.8 L404.0,320.3 L404.1,320.7 L404.4,321.2 L404.4,321.5 L404.6,322.1 L404.7,322.4 L404.9,323.0 L404.9,323.3 L405.1,323.9 L405.2,324.2 L405.3,324.8 L405.4,325.2 L405.5,325.7 L405.6,326.3 L405.6,326.6 L405.7,327.2 L405.8,327.5 L405.8,328.1 L405.9,328.7 L406.0,329.0 L406.0,329.6 L406.1,330.2 L406.1,330.6 L406.2,331.2 L406.2,331.8 L406.2,332.2 L406.3,332.8 L406.3,333.4 L406.3,334.0 L406.4,334.5 L406.4,335.0 L406.4,335.6 L406.4,336.1 L406.5,336.7 L406.5,337.3 L406.5,337.8 L406.5,338.4 L406.6,339.0 L406.6,339.6 L406.6,340.1 L406.6,340.7 L406.6,341.3 L406.7,341.8 L406.7,342.4 L406.7,343.0 L406.7,343.6 L406.7,344.2 L406.8,344.7 L406.8,345.3 L406.8,345.9 L406.8,346.5 L406.8,347.1 L406.9,347.7 L406.9,348.3 L406.9,348.9 L407.0,349.5 L407.0,350.0 L407.0,350.7 L407.1,351.3 L407.1,351.8 L407.2,352.5 L407.2,353.1 L407.2,353.7 L407.3,354.4 L407.4,355.0 L407.4,355.6 L407.5,356.3 L407.6,356.8 L407.7,357.5 L407.8,358.1 L407.9,358.7 L408.0,359.3 L408.1,359.9 L408.2,360.6 L408.3,361.1 L408.4,361.7 L408.5,362.4 L408.6,362.9 L408.7,363.6 L408.9,364.1 L409.0,364.8 L409.1,365.3 L409.2,366.0 L409.4,366.5 L409.5,367.1 L409.6,367.7 L409.8,368.2 L409.9,368.8 L410.0,369.4 L410.1,369.9 L410.3,370.5 L410.4,371.0 L410.5,371.6 L410.6,372.1 L410.7,372.7 L410.8,373.2 L410.9,373.8 L411.0,374.3 L411.1,374.8 L411.2,375.4 L411.3,375.9 L411.4,376.4 L411.5,377.0 L411.6,377.5 L411.7,378.0 L411.8,378.6 L411.8,379.0 L411.9,379.6 L411.9,380.0 L412.0,380.6 L412.1,381.2 L412.1,381.7 L412.2,382.3 L412.2,382.8 L412.3,383.4 L412.3,383.9 L412.4,384.5 L412.4,385.1 L412.5,385.7 L412.6,386.2 L412.6,386.8 L412.7,387.4 L412.7,388.0 L412.8,388.5 L412.8,389.2 L412.9,389.7 L413.0,390.3 L413.0,390.9 L413.1,391.5 L413.2,392.1 L413.2,392.7 L413.3,393.4 L413.4,393.9 L413.5,394.5 L413.6,395.2 L413.6,395.8 L413.7,396.3 L413.9,397.1 L414.0,397.7 L414.1,398.2 L414.2,398.8 L414.3,399.6 L414.5,400.1 L414.6,400.7 L414.8,401.5 L414.9,402.0 L415.1,402.6 L415.3,403.4 L415.5,404.0 L415.7,404.5 L416.0,405.4 L416.2,405.9 L416.4,406.5 L416.8,407.3 L417.0,407.9 L417.3,408.4 L417.7,409.2 L417.9,409.7 L418.2,410.2 L418.6,410.9 L418.9,411.4 L419.2,411.9 L419.6,412.6 L419.9,413.1 L420.4,413.8 L420.7,414.3 L421.0,414.7 L421.4,415.4 L421.8,415.8 L422.1,416.3 L422.6,416.9 L422.9,417.4 L423.2,417.8 L423.7,418.4 L424.0,418.9 L424.4,419.3 L424.8,419.9 L425.2,420.3 L425.6,420.8 L426.0,421.3 L426.4,421.7 L426.7,422.2 L427.2,422.7 L427.6,423.1 L427.9,423.5 L428.4,424.0 L428.8,424.5 L429.2,424.9 L429.6,425.4 L430.0,425.8 L430.4,426.2 L430.8,426.7 L431.2,427.1 L431.6,427.6 L432.0,428.0 L432.4,428.4 L432.8,428.8 L433.1,429.3 L433.6,429.7 L434.0,430.1 L434.5,430.6 L434.9,431.0 L435.4,431.5 L435.9,431.9 L436.4,432.4 L436.8,432.8 L437.2,433.2 L437.8,433.6 L438.2,434.0 L438.8,434.4 L439.4,434.8 L439.8,435.2 L440.4,435.6 L440.9,435.9 L441.4,436.3 L441.9,436.6 L442.4,437.0 L442.9,437.4 L443.4,437.7 L443.9,438.0 L444.4,438.4 L444.9,438.7 L445.4,439.0 L445.9,439.4 L446.4,439.7 L446.9,440.0 L447.4,440.3 L447.8,440.7 L448.3,441.0 L448.8,441.3 L449.3,441.6 L449.7,441.9 L450.2,442.3 L450.7,442.6 L451.1,442.9 L451.6,443.2 L452.1,443.6 L452.6,443.9 L453.0,444.2 L453.5,444.6 L454.0,444.9 L454.5,445.2 L455.0,445.5 L455.5,445.9 L456.0,446.2 L456.5,446.5 L456.9,446.8 L457.5,447.2 L458.0,447.5 L458.4,447.8 L459.0,448.1 L459.5,448.4 L460.0,448.7 L460.5,449.1 L461.0,449.4 L461.5,449.7 L462.1,450.0 L462.6,450.3 L463.1,450.6 L463.6,450.9 L464.1,451.2 L464.7,451.5 L465.2,451.7 L465.8,452.0 L466.4,452.3 L466.9,452.6 L467.4,452.9 L468.0,453.1 L468.5,453.4 L469.0,453.7 L469.7,453.9 L470.2,454.2 L470.7,454.4 L471.3,454.7 L471.9,454.9 L472.4,455.1 L473.0,455.4 L473.7,455.6 L474.2,455.8 L474.7,456.0 L475.4,456.2 L475.9,456.4 L476.5,456.6 L477.1,456.8 L477.7,457.0 L478.2,457.2 L478.8,457.4 L479.4,457.6 L479.9,457.8 L480.5,457.9 L481.1,458.1 L481.7,458.3 L482.2,458.5 L482.8,458.6 L483.4,458.8 L483.9,459.0 L484.5,459.1 L485.1,459.3 L485.6,459.5 L486.2,459.6 L486.8,459.8 L487.4,459.9 L487.9,460.1 L488.5,460.3 L489.1,460.4 L489.6,460.6 L490.2,460.7 L490.7,460.9 L491.3,461.0 L491.9,461.2 L492.4,461.3 L493.0,461.5 L493.6,461.6 L494.1,461.8 L494.7,461.9 L495.3,462.1 L495.8,462.2 L496.4,462.3 L497.0,462.5 L497.5,462.6 L498.1,462.8 L498.6,462.9 L499.2,463.1 L499.8,463.2 L500.3,463.4 L500.9,463.5 L501.4,463.6 L502.0,463.8 L502.5,463.9 L503.1,464.1 L503.6,464.2 L504.2,464.4 L504.8,464.5 L505.4,464.7 L506.0,464.8 L506.6,464.9 L507.1,465.0 L507.8,465.1 L508.3,465.3 L509.0,465.4 L509.5,465.5 L510.1,465.6 L510.7,465.7 L511.3,465.8 L511.9,465.9 L512.5,466.0 L513.0,466.1 L513.6,466.2 L514.2,466.3 L514.8,466.4 L515.3,466.5 L515.9,466.6 L516.5,466.7 L517.0,466.8 L517.6,466.9 L518.2,467.0 L518.7,467.1 L519.2,467.2 L519.8,467.4 L520.3,467.5 L520.9,467.6 L521.4,467.7 L521.9,467.9 L522.4,468.0 L522.9,468.2 L523.3,468.4 L523.7,468.6 L524.2,468.7 L524.6,468.9 L525.2,469.1 L525.6,469.4 L526.0,469.6 L526.5,469.8 L526.9,470.0 L527.2,470.3 L527.7,470.5 L528.0,470.8 L528.3,471.1 L528.6,471.4 L528.8,471.6 L529.0,471.9 L529.2,472.2 L529.3,472.5 L529.5,472.8 L529.6,473.1 L529.8,473.4 L529.9,473.7 L530.1,474.0 L530.2,474.3 L530.2,474.6 L530.3,474.8 L530.3,475.1 L530.3,475.3 L530.3,475.5 L530.3,475.7 L530.3,475.9 L530.3,476.1 L530.3,476.3 L530.3,476.5 L530.3,476.7 L530.3,477.0 L530.3,477.2 L530.3,477.5 L530.1,478.1 L530.1,478.4 L530.0,478.7 L530.0,479.0 L529.8,479.6 L529.7,479.9 L529.5,480.3 L529.3,480.9 L529.2,481.3 L529.0,481.8 L528.8,482.2 L528.6,482.6 L528.4,483.1 L528.2,483.5 L527.9,484.0 L527.8,484.4 L527.5,485.0 L527.3,485.3 L527.0,485.8 L526.8,486.2 L526.6,486.6 L526.3,487.1 L526.1,487.5 L525.8,487.9 L525.6,488.3 L525.4,488.6 L525.1,489.1 L524.7,489.6 L524.4,490.0 L523.9,490.6 L523.4,491.1 L523.1,491.6 L522.7,492.0 L522.5,492.5 L522.1,492.9 L521.9,493.3 L521.7,493.6 L521.4,494.1 L521.2,494.4 L520.9,494.8 L520.8,495.0 L520.8,495.3 L520.3,495.7 L520.3,495.9 L520.4,496.1 L519.9,496.4 L519.9,496.7 L519.4,496.9 L519.4,497.1 L519.3,497.4 L518.7,497.5 L518.6,497.7 L518.0,497.8 L517.8,498.0 L517.2,498.0 L516.7,498.0 L516.4,498.0 L515.8,498.0 L515.5,497.8 L514.9,497.8 L514.3,497.7 L513.9,497.6 L513.4,497.5 L513.0,497.4 L512.4,497.3 L511.8,497.2 L511.4,497.0 L510.8,496.9 L510.3,496.8 L509.8,496.6 L509.2,496.5 L508.7,496.4 L508.1,496.3 L507.6,496.1 L507.1,496.0 L506.5,495.8 L506.0,495.7 L505.4,495.5 L504.9,495.4 L504.4,495.2 L503.8,495.1 L503.2,494.9 L502.7,494.8 L502.1,494.6 L501.6,494.4 L501.0,494.3 L500.5,494.1 L499.9,494.0 L499.4,493.8 L498.8,493.7 L498.2,493.5 L497.7,493.4 L497.1,493.2 L496.5,493.1 L496.0,492.9 L495.4,492.8 L494.9,492.6 L494.3,492.5 L493.7,492.4 L493.1,492.2 L492.5,492.1 L491.9,491.9 L491.4,491.8 L490.8,491.7 L490.2,491.6 L489.7,491.4 L489.1,491.3 L488.6,491.2 L488.0,491.0 L487.4,490.9 L486.9,490.7 L486.3,490.6 L485.8,490.5 L485.2,490.3 L484.7,490.2 L484.1,490.1 L483.6,489.9 L483.0,489.8 L482.4,489.6 L481.9,489.5 L481.3,489.4 L480.8,489.2 L480.2,489.1 L479.6,488.9 L479.1,488.8 L478.5,488.6 L478.0,488.5 L477.4,488.4 L476.9,488.2 L476.3,488.1 L475.7,487.9 L475.2,487.8 L474.6,487.7 L474.1,487.5 L473.5,487.4 L472.9,487.2 L472.4,487.1 L471.8,486.9 L471.3,486.8 L470.7,486.7 L470.1,486.5 L469.6,486.4 L469.0,486.2 L468.5,486.1 L467.9,485.9 L467.3,485.8 L466.8,485.7 L466.2,485.5 L465.7,485.4 L465.1,485.2 L464.5,485.1 L464.0,484.9 L463.4,484.8 L462.8,484.7 L462.3,484.5 L461.7,484.4 L461.2,484.2 L460.6,484.1 L460.1,484.0 L459.5,483.8 L458.9,483.7 L458.4,483.5 L457.8,483.4 L457.3,483.2 L456.7,483.1 L456.2,483.0 L455.6,482.8 L455.0,482.7 L454.5,482.5 L453.9,482.4 L453.4,482.2 L452.8,482.1 L452.2,482.0 L451.7,481.8 L451.1,481.7 L450.6,481.5 L450.0,481.4 L449.5,481.2 L448.9,481.1 L448.3,480.9 L447.8,480.8 L447.2,480.7 L446.6,480.5 L446.1,480.4 L445.5,480.2 L445.0,480.1 L444.4,479.9 L443.8,479.8 L443.3,479.7 L442.7,479.5 L442.1,479.4 L441.6,479.2 L441.0,479.1 L440.5,479.0 L439.9,478.8 L439.3,478.7 L438.8,478.5 L438.2,478.4 L437.6,478.3 L437.1,478.1 L436.5,478.0 L435.9,477.9 L435.4,477.7 L434.8,477.6 L434.2,477.5 L433.6,477.3 L433.1,477.2 L432.5,477.1 L431.9,477.0 L431.4,476.8 L430.8,476.7 L430.2,476.6 L429.7,476.5 L429.1,476.3 L428.5,476.2 L428.0,476.1 L427.4,476.0 L426.8,475.8 L426.3,475.7 L425.7,475.6 L425.1,475.5 L424.6,475.3 L424.0,475.2 L423.4,475.1 L422.9,475.0 L422.3,474.9 L421.7,474.7 L421.1,474.6 L420.6,474.5 L420.0,474.4 L419.4,474.3 L418.9,474.1 L418.3,474.0 L417.7,473.9 L417.2,473.8 L416.6,473.7 L416.0,473.6 L415.4,473.5 L414.9,473.4 L414.3,473.3 L413.7,473.1 L413.1,473.0 L412.6,472.9 L412.0,472.8 L411.4,472.7 L410.8,472.6 L410.3,472.5 L409.7,472.4 L409.1,472.3 L408.6,472.2 L408.0,472.1 L407.4,472.0 L406.8,471.9 L406.3,471.8 L405.7,471.7 L405.1,471.6 L404.6,471.5 L404.0,471.4 L403.4,471.3 L402.8,471.2 L402.3,471.1 L401.7,471.0 L401.1,470.9 L400.5,470.8 L400.0,470.7 L399.4,470.6 L398.8,470.5 L398.3,470.4 L397.7,470.3 L397.1,470.2 L396.5,470.1 L396.0,470.0 L395.4,469.9 L394.8,469.8 L394.3,469.7 L393.7,469.6 L393.1,469.5 L392.5,469.4 L392.0,469.3 L391.4,469.2 L390.8,469.2 L390.3,469.1 L389.7,469.0 L389.1,468.9 L388.5,468.8 L388.0,468.7 L387.4,468.6 L386.8,468.5 L386.3,468.4 L385.7,468.3 L385.1,468.2 L384.5,468.1 L384.0,468.1 L383.4,468.0 L382.8,467.9 L382.3,467.8 L381.7,467.7 L381.1,467.6 L380.5,467.5 L380.0,467.4 L379.4,467.3 L378.8,467.2 L378.3,467.2 L377.7,467.1 L377.1,467.0 L376.5,466.9 L376.0,466.8 L375.4,466.7 L374.8,466.6 L374.3,466.5 L373.7,466.4 L373.1,466.3 L372.5,466.3 L372.0,466.2 L371.4,466.1 L370.8,466.0 L370.3,465.9 L369.7,465.8 L369.1,465.7 L368.5,465.6 L368.0,465.5 L367.4,465.5 L366.8,465.4 L366.3,465.3 L365.7,465.2 L365.1,465.1 L364.6,465.0 L364.0,464.9 L363.4,464.8 L362.8,464.7 L362.3,464.6 L361.7,464.6 L361.1,464.5 L360.6,464.4 L360.0,464.3 L359.4,464.2 L358.8,464.1 L358.3,464.0 L357.7,463.9 L357.1,463.8 L356.6,463.8 L356.0,463.7 L355.4,463.6 L354.9,463.5 L354.3,463.4 L353.7,463.3 L353.2,463.2 L352.6,463.1 L352.0,463.0 L351.4,462.9 L350.9,462.9 L350.3,462.8 L349.7,462.7 L349.1,462.6 L348.6,462.5 L348.0,462.4 L347.4,462.3 L346.8,462.3 L346.2,462.2 L345.7,462.1 L345.1,462.0 L344.5,461.9 L343.9,461.9 L343.4,461.8 L342.8,461.7 L342.2,461.6 L341.6,461.6 L341.0,461.5 L340.5,461.4 L339.9,461.3 L339.3,461.3 L338.7,461.2 L338.2,461.1 L337.6,461.0 L337.0,461.0 L336.4,460.9 L335.9,460.8 L335.3,460.7 L334.7,460.7 L334.1,460.6 L333.6,460.5 L333.0,460.4 L332.4,460.4 L331.9,460.3 L331.3,460.2 L330.7,460.1 L330.2,460.1 L329.6,460.0 L329.0,459.9 L328.5,459.8 L327.9,459.8 L327.3,459.7 L326.7,459.6 L326.2,459.5 L325.6,459.4 L325.1,459.3 L324.5,459.3 L324.0,459.2 L323.4,459.1 L322.8,459.0 L322.3,458.9 L321.7,458.8 L321.2,458.7 L320.6,458.6 L320.0,458.5 L319.6,458.4 L319.0,458.3 L318.4,458.2 L318.0,458.0 L317.4,457.9 L316.8,457.8 L316.3,457.7 L315.9,457.5 L315.3,457.3 L314.7,457.2 L314.4,457.0 L313.8,456.8 L313.3,456.7 L312.9,456.5 L312.4,456.3 L312.0,456.1 L311.4,455.9 L311.1,455.7 L310.5,455.4 L310.3,455.2 L309.8,455.0 L309.6,454.7 L309.6,454.5 L309.1,454.2 L309.3,453.9 L309.5,453.8 L309.7,453.7 L310.0,453.7 L310.1,453.7 L310.1,453.5 L310.1,453.3 L309.9,452.7 L309.8,452.3 L309.7,451.8 L309.5,451.3 L309.4,450.7 L309.2,450.2 L309.1,449.6 L309.0,449.3 L308.9,448.7 L308.8,448.4 L308.7,447.8 L308.7,447.4 L308.6,446.9 L308.5,446.5 L308.5,445.9 L308.4,445.6 L308.4,445.0 L308.3,444.4 L308.3,444.0 L308.2,443.5 L308.2,443.1 L308.2,442.5 L308.2,442.1 L308.2,441.6 L308.2,441.0 L308.2,440.6 L308.2,440.1 L308.2,439.7 L308.2,439.1 L308.3,438.5 L308.3,438.2 L308.3,437.6 L308.4,437.0 L308.4,436.7 L308.5,436.1 L308.5,435.8 L308.6,435.2 L308.7,434.6 L308.7,434.3 L308.9,433.7 L309.0,433.2 L309.0,432.8 L309.1,432.3 L309.3,431.7 L309.3,431.4 L309.5,430.8 L309.6,430.3 L309.7,429.9 L309.9,429.4 L310.1,428.8 L310.2,428.5 L310.4,427.9 L310.5,427.4 L310.7,427.0 L310.9,426.4 L311.1,425.9 L311.3,425.4 L311.4,424.9 L311.6,424.4 L311.9,423.9 L312.0,423.4 L312.2,422.9 L312.5,422.4 L312.7,421.9 L312.9,421.4 L313.1,420.9 L313.4,420.4 L313.5,419.9 L313.8,419.4 L314.0,418.9 L314.3,418.3 L314.5,417.9 L314.7,417.3 L315.0,416.8 L315.2,416.3 L315.4,415.8 L315.7,415.3 L316.0,414.8 L316.2,414.3 L316.4,413.8 L316.7,413.3 L317.0,412.8 L317.2,412.3 L317.5,411.8 L317.7,411.2 L318.0,410.7 L318.2,410.2 L318.5,409.7 L318.8,409.2 L319.0,408.7 L319.3,408.2 L319.5,407.7 L319.8,407.2 L320.1,406.7 L320.3,406.1 L320.6,405.6 L320.9,405.1 L321.1,404.6 L321.4,404.1 L321.7,403.6 L321.9,403.1 L322.2,402.6 L322.4,402.1 L322.7,401.5 L323.0,401.0 L323.2,400.5 L323.5,400.0 L323.8,399.5 L324.0,399.0 L324.3,398.5 L324.6,398.0 L324.8,397.5 L325.1,397.0 L325.4,396.5 L325.6,396.0 L325.9,395.5 L326.2,395.0 L326.4,394.5 L326.7,394.0 L327.0,393.5 L327.2,393.0 L327.5,392.5 L327.8,392.0 L328.1,391.6 L328.3,391.1 L328.6,390.6 L328.9,390.1 L329.2,389.6 L329.5,389.1 L329.8,388.6 L330.0,388.1 L330.3,387.6 L330.6,387.1 L330.9,386.6 L331.2,386.2 L331.4,385.7 L331.7,385.2 L332.0,384.7 L332.3,384.2 L332.6,383.7 L332.9,383.2 L333.2,382.7 L333.5,382.3 L333.8,381.8 L334.1,381.3 L334.4,380.8 L334.7,380.3 L335.0,379.8 L335.3,379.3 L335.5,378.9 L335.9,378.4 L336.2,377.9 L336.5,377.4 L336.7,376.9 L337.1,376.5 L337.4,376.0 L337.7,375.5 L338.0,375.0 L338.3,374.5 L338.6,374.1 L338.9,373.6 L339.2,373.1 L339.5,372.6 L339.8,372.2 L340.1,371.7 L340.4,371.2 L340.8,370.7 L341.1,370.3 L341.4,369.8 L341.7,369.3 L342.0,368.8 L342.3,368.4 L342.7,367.9 L343.0,367.4 L343.3,367.0 L343.6,366.5 L343.9,366.0 L344.3,365.5 L344.6,365.1 L344.9,364.6 L345.2,364.1 L345.6,363.6 L345.9,363.2 L346.2,362.7 L346.5,362.2 L346.8,361.8 L347.2,361.3 L347.5,360.8 L347.8,360.4 L348.2,359.9 L348.5,359.4 L348.8,359.0 L349.2,358.5 L349.5,358.0 L349.8,357.6 L350.1,357.1 L350.5,356.6 L350.8,356.1 L351.1,355.7 L351.5,355.2 L351.8,354.8 L352.1,354.3 L352.5,353.8 L352.8,353.3 L353.1,352.9 L353.5,352.4 L353.8,352.0 L354.1,351.5 L354.5,351.0 L354.8,350.6 L355.1,350.1 L355.5,349.6 L355.8,349.2 L356.2,348.7 L356.5,348.3 L356.8,347.8 L357.2,347.3 L357.5,346.9 L357.8,346.4 L358.2,345.9 L358.5,345.5 L358.9,345.0 L359.2,344.6 L359.5,344.1 L359.9,343.7 L360.2,343.2 L360.6,342.7 L360.9,342.3 L361.3,341.8 L361.6,341.4 L362.0,340.9 L362.3,340.4 L362.6,340.0 L363.0,339.5 L363.3,339.1 L363.7,338.6 L364.0,338.2 L364.4,337.7 L364.7,337.3 L365.0,336.8 L365.4,336.4 L365.8,335.9 L366.1,335.5 L366.4,335.0 L366.8,334.6 L367.2,334.1 L367.5,333.7 L367.9,333.2 L368.2,332.8 L368.6,332.3 L368.9,331.9 L369.3,331.5 L369.6,331.0 L370.0,330.6 L370.3,330.1 L370.7,329.7 L371.1,329.3 L371.4,328.8 L371.8,328.4 L372.1,328.0 L372.5,327.5 L372.8,327.1 L373.2,326.7 L373.5,326.2 L373.9,325.8 L374.3,325.4 L374.6,325.0 L375.0,324.5 L375.4,324.1 L375.7,323.7 L376.1,323.3 L376.5,322.8 L376.8,322.4 L377.2,322.0 L377.6,321.6 L377.9,321.2 L378.3,320.8 L378.7,320.4 L379.0,320.0 L379.4,319.6 L379.8,319.2 L380.2,318.8 L380.6,318.4 L380.9,318.0 L381.3,317.6 L381.7,317.2 L382.1,316.8 L382.5,316.4 L383.0,316.0 L383.4,315.6 L383.8,315.2 L384.2,314.9 L384.6,314.5 L385.0,314.1 L385.4,313.7 L385.8,313.3 L386.2,312.9 L386.6,312.5 L387.0,312.2 L387.4,311.8 L387.8,311.4 L388.1,311.1 L388.6,310.7 L388.9,310.4 L389.3,310.0 L389.8,309.7 L390.1,309.3 L390.5,309.0 L390.8,308.7 L391.3,308.4 L391.5,308.1 L392.0,307.8 L392.2,307.5 L392.7,307.2 L392.9,307.0 L393.4,306.7 L393.5,306.5 L393.6,306.2 L394.1,306.0 L394.2,305.8 L394.1,305.5 Z" fill="none" stroke="#2a2a2a" stroke-width="1.0" />
<g transform="translate(397.2,302.1) rotate(21.6)"><rect x="-3.5" y="-3.91" width="7.0" height="7.82" rx="2.6" fill="none" stroke="#2a2a2a" stroke-width="0.9"/><circle cx="0" cy="0" r="1.25" fill="none" stroke="#2a2a2a" stroke-width="0.8"/></g>
<g transform="translate(402.1,306.3) rotate(50.6)"><rect x="-3.7" y="-4.96" width="7.4" height="3.87" rx="2.2" fill="none" stroke="#2a2a2a" stroke-width="0.85"/><rect x="-3.3" y="0.40" width="6.6" height="4.66" rx="2.4" fill="none" stroke="#2a2a2a" stroke-width="0.9"/><circle cx="0" cy="2.73" r="1.1" fill="none" stroke="#2a2a2a" stroke-width="0.8"/></g>
<g transform="translate(406.1,311.5) rotate(53.3)"><rect x="-3.7" y="-5.05" width="7.4" height="3.95" rx="2.2" fill="none" stroke="#2a2a2a" stroke-width="0.85"/><rect x="-3.3" y="0.40" width="6.6" height="4.75" rx="2.4" fill="none" stroke="#2a2a2a" stroke-width="0.9"/><circle cx="0" cy="2.78" r="1.1" fill="none" stroke="#2a2a2a" stroke-width="0.8"/></g>
<g transform="translate(409.5,317.0) rotate(64.0)"><rect x="-3.7" y="-5.36" width="7.4" height="4.22" rx="2.2" fill="none" stroke="#2a2a2a" stroke-width="0.85"/><rect x="-3.3" y="0.40" width="6.6" height="5.06" rx="2.4" fill="none" stroke="#2a2a2a" stroke-width="0.9"/><circle cx="0" cy="2.93" r="1.1" fill="none" stroke="#2a2a2a" stroke-width="0.8"/></g>
<g transform="translate(411.6,323.2) rotate(76.1)"><rect x="-3.7" y="-5.60" width="7.4" height="4.42" rx="2.2" fill="none" stroke="#2a2a2a" stroke-width="0.85"/><rect x="-3.3" y="0.40" width="6.6" height="5.30" rx="2.4" fill="none" stroke="#2a2a2a" stroke-width="0.9"/><circle cx="0" cy="3.05" r="1.1" fill="none" stroke="#2a2a2a" stroke-width="0.8"/></g>
<g transform="translate(412.6,329.7) rotate(84.1)"><rect x="-3.7" y="-5.68" width="7.4" height="4.49" rx="2.2" fill="none" stroke="#2a2a2a" stroke-width="0.85"/><rect x="-3.3" y="0.40" width="6.6" height="5.38" rx="2.4" fill="none" stroke="#2a2a2a" stroke-width="0.9"/><circle cx="0" cy="3.09" r="1.1" fill="none" stroke="#2a2a2a" stroke-width="0.8"/></g>
<g transform="translate(413.1,336.2) rotate(87.6)"><rect x="-3.7" y="-5.70" width="7.4" height="4.50" rx="2.2" fill="none" stroke="#2a2a2a" stroke-width="0.85"/><rect x="-3.3" y="0.40" width="6.6" height="5.40" rx="2.4" fill="none" stroke="#2a2a2a" stroke-width="0.9"/><circle cx="0" cy="3.10" r="1.1" fill="none" stroke="#2a2a2a" stroke-width="0.8"/></g>
<g transform="translate(413.3,342.7) rotate(88.1)"><rect x="-3.7" y="-5.70" width="7.4" height="4.50" rx="2.2" fill="none" stroke="#2a2a2a" stroke-width="0.85"/><rect x="-3.3" y="0.40" width="6.6" height="5.40" rx="2.4" fill="none" stroke="#2a2a2a" stroke-width="0.9"/><circle cx="0" cy="3.10" r="1.1" fill="none" stroke="#2a2a2a" stroke-width="0.8"/></g>
<g transform="translate(413.5,349.3) rotate(87.2)"><rect x="-3.7" y="-5.70" width="7.4" height="4.50" rx="2.2" fill="none" stroke="#2a2a2a" stroke-width="0.85"/><rect x="-3.3" y="0.40" width="6.6" height="5.40" rx="2.4" fill="none" stroke="#2a2a2a" stroke-width="0.9"/><circle cx="0" cy="3.10" r="1.1" fill="none" stroke="#2a2a2a" stroke-width="0.8"/></g>
<g transform="translate(414.1,355.8) rotate(82.8)"><rect x="-3.7" y="-5.67" width="7.4" height="4.48" rx="2.2" fill="none" stroke="#2a2a2a" stroke-width="0.85"/><rect x="-3.3" y="0.40" width="6.6" height="5.37" rx="2.4" fill="none" stroke="#2a2a2a" stroke-width="0.9"/><circle cx="0" cy="3.09" r="1.1" fill="none" stroke="#2a2a2a" stroke-width="0.8"/></g>
<g transform="translate(415.1,362.2) rotate(78.7)"><rect x="-3.7" y="-5.63" width="7.4" height="4.45" rx="2.2" fill="none" stroke="#2a2a2a" stroke-width="0.85"/><rect x="-3.3" y="0.40" width="6.6" height="5.33" rx="2.4" fill="none" stroke="#2a2a2a" stroke-width="0.9"/><circle cx="0" cy="3.07" r="1.1" fill="none" stroke="#2a2a2a" stroke-width="0.8"/></g>
<g transform="translate(416.5,368.6) rotate(77.4)"><rect x="-3.7" y="-5.62" width="7.4" height="4.44" rx="2.2" fill="none" stroke="#2a2a2a" stroke-width="0.85"/><rect x="-3.3" y="0.40" width="6.6" height="5.32" rx="2.4" fill="none" stroke="#2a2a2a" stroke-width="0.9"/><circle cx="0" cy="3.06" r="1.1" fill="none" stroke="#2a2a2a" stroke-width="0.8"/></g>
<g transform="translate(417.8,375.0) rotate(79.9)"><rect x="-3.7" y="-5.65" width="7.4" height="4.46" rx="2.2" fill="none" stroke="#2a2a2a" stroke-width="0.85"/><rect x="-3.3" y="0.40" width="6.6" height="5.35" rx="2.4" fill="none" stroke="#2a2a2a" stroke-width="0.9"/><circle cx="0" cy="3.07" r="1.1" fill="none" stroke="#2a2a2a" stroke-width="0.8"/></g>
<g transform="translate(418.7,381.5) rotate(84.2)"><rect x="-3.7" y="-5.68" width="7.4" height="4.49" rx="2.2" fill="none" stroke="#2a2a2a" stroke-width="0.85"/><rect x="-3.3" y="0.40" width="6.6" height="5.38" rx="2.4" fill="none" stroke="#2a2a2a" stroke-width="0.9"/><circle cx="0" cy="3.09" r="1.1" fill="none" stroke="#2a2a2a" stroke-width="0.8"/></g>
<g transform="translate(419.3,388.0) rotate(84.6)"><rect x="-3.7" y="-5.68" width="7.4" height="4.49" rx="2.2" fill="none" stroke="#2a2a2a" stroke-width="0.85"/><rect x="-3.3" y="0.40" width="6.6" height="5.38" rx="2.4" fill="none" stroke="#2a2a2a" stroke-width="0.9"/><circle cx="0" cy="3.09" r="1.1" fill="none" stroke="#2a2a2a" stroke-width="0.8"/></g>
<g transform="translate(420.1,394.5) rotate(81.5)"><rect x="-3.7" y="-5.66" width="7.4" height="4.47" rx="2.2" fill="none" stroke="#2a2a2a" stroke-width="0.85"/><rect x="-3.3" y="0.40" width="6.6" height="5.36" rx="2.4" fill="none" stroke="#2a2a2a" stroke-width="0.9"/><circle cx="0" cy="3.08" r="1.1" fill="none" stroke="#2a2a2a" stroke-width="0.8"/></g>
<g transform="translate(421.3,400.9) rotate(76.0)"><rect x="-3.7" y="-5.60" width="7.4" height="4.42" rx="2.2" fill="none" stroke="#2a2a2a" stroke-width="0.85"/><rect x="-3.3" y="0.40" width="6.6" height="5.30" rx="2.4" fill="none" stroke="#2a2a2a" stroke-width="0.9"/><circle cx="0" cy="3.05" r="1.1" fill="none" stroke="#2a2a2a" stroke-width="0.8"/></g>
<g transform="translate(423.6,407.0) rotate(64.4)"><rect x="-3.7" y="-5.37" width="7.4" height="4.23" rx="2.2" fill="none" stroke="#2a2a2a" stroke-width="0.85"/><rect x="-3.3" y="0.40" width="6.6" height="5.07" rx="2.4" fill="none" stroke="#2a2a2a" stroke-width="0.9"/><circle cx="0" cy="2.94" r="1.1" fill="none" stroke="#2a2a2a" stroke-width="0.8"/></g>
<g transform="translate(426.9,412.7) rotate(56.0)"><rect x="-3.7" y="-5.14" width="7.4" height="4.03" rx="2.2" fill="none" stroke="#2a2a2a" stroke-width="0.85"/><rect x="-3.3" y="0.40" width="6.6" height="4.84" rx="2.4" fill="none" stroke="#2a2a2a" stroke-width="0.9"/><circle cx="0" cy="2.82" r="1.1" fill="none" stroke="#2a2a2a" stroke-width="0.8"/></g>
<g transform="translate(430.8,417.9) rotate(50.8)"><rect x="-3.7" y="-4.96" width="7.4" height="3.88" rx="2.2" fill="none" stroke="#2a2a2a" stroke-width="0.85"/><rect x="-3.3" y="0.40" width="6.6" height="4.66" rx="2.4" fill="none" stroke="#2a2a2a" stroke-width="0.9"/><circle cx="0" cy="2.73" r="1.1" fill="none" stroke="#2a2a2a" stroke-width="0.8"/></g>
<g transform="translate(435.1,422.9) rotate(48.1)"><rect x="-3.7" y="-4.87" width="7.4" height="3.80" rx="2.2" fill="none" stroke="#2a2a2a" stroke-width="0.85"/><rect x="-3.3" y="0.40" width="6.6" height="4.57" rx="2.4" fill="none" stroke="#2a2a2a" stroke-width="0.9"/><circle cx="0" cy="2.68" r="1.1" fill="none" stroke="#2a2a2a" stroke-width="0.8"/></g>
<g transform="translate(439.6,427.6) rotate(44.5)"><rect x="-3.7" y="-4.74" width="7.4" height="3.69" rx="2.2" fill="none" stroke="#2a2a2a" stroke-width="0.85"/><rect x="-3.3" y="0.40" width="6.6" height="4.44" rx="2.4" fill="none" stroke="#2a2a2a" stroke-width="0.9"/><circle cx="0" cy="2.62" r="1.1" fill="none" stroke="#2a2a2a" stroke-width="0.8"/></g>
<g transform="translate(444.5,431.9) rotate(37.8)"><rect x="-3.7" y="-4.48" width="7.4" height="3.46" rx="2.2" fill="none" stroke="#2a2a2a" stroke-width="0.85"/><rect x="-3.3" y="0.40" width="6.6" height="4.18" rx="2.4" fill="none" stroke="#2a2a2a" stroke-width="0.9"/><circle cx="0" cy="2.49" r="1.1" fill="none" stroke="#2a2a2a" stroke-width="0.8"/></g>
<g transform="translate(449.8,435.7) rotate(34.0)"><rect x="-3.7" y="-4.32" width="7.4" height="3.33" rx="2.2" fill="none" stroke="#2a2a2a" stroke-width="0.85"/><rect x="-3.3" y="0.40" width="6.6" height="4.02" rx="2.4" fill="none" stroke="#2a2a2a" stroke-width="0.9"/><circle cx="0" cy="2.41" r="1.1" fill="none" stroke="#2a2a2a" stroke-width="0.8"/></g>
<g transform="translate(455.2,439.4) rotate(34.5)"><rect x="-3.7" y="-4.34" width="7.4" height="3.35" rx="2.2" fill="none" stroke="#2a2a2a" stroke-width="0.85"/><rect x="-3.3" y="0.40" width="6.6" height="4.04" rx="2.4" fill="none" stroke="#2a2a2a" stroke-width="0.9"/><circle cx="0" cy="2.42" r="1.1" fill="none" stroke="#2a2a2a" stroke-width="0.8"/></g>
<g transform="translate(460.6,443.0) rotate(33.3)"><rect x="-3.7" y="-4.29" width="7.4" height="3.31" rx="2.2" fill="none" stroke="#2a2a2a" stroke-width="0.85"/><rect x="-3.3" y="0.40" width="6.6" height="3.99" rx="2.4" fill="none" stroke="#2a2a2a" stroke-width="0.9"/><circle cx="0" cy="2.40" r="1.1" fill="none" stroke="#2a2a2a" stroke-width="0.8"/></g>
<g transform="translate(466.2,446.5) rotate(30.2)"><rect x="-3.7" y="-4.17" width="7.4" height="3.20" rx="2.2" fill="none" stroke="#2a2a2a" stroke-width="0.85"/><rect x="-3.3" y="0.40" width="6.6" height="3.87" rx="2.4" fill="none" stroke="#2a2a2a" stroke-width="0.9"/><circle cx="0" cy="2.33" r="1.1" fill="none" stroke="#2a2a2a" stroke-width="0.8"/></g>
<g transform="translate(471.9,449.6) rotate(25.4)"><rect x="-3.5" y="-4.07" width="7.0" height="8.13" rx="2.6" fill="none" stroke="#2a2a2a" stroke-width="0.9"/><circle cx="0" cy="0" r="1.25" fill="none" stroke="#2a2a2a" stroke-width="0.8"/></g>
<g transform="translate(478.0,452.2) rotate(21.0)"><rect x="-3.5" y="-3.88" width="7.0" height="7.77" rx="2.6" fill="none" stroke="#2a2a2a" stroke-width="0.9"/><circle cx="0" cy="0" r="1.25" fill="none" stroke="#2a2a2a" stroke-width="0.8"/></g>
<g transform="translate(484.1,454.3) rotate(17.1)"><rect x="-3.5" y="-3.73" width="7.0" height="7.46" rx="2.6" fill="none" stroke="#2a2a2a" stroke-width="0.9"/><circle cx="0" cy="0" r="1.25" fill="none" stroke="#2a2a2a" stroke-width="0.8"/></g>
<g transform="translate(490.4,456.2) rotate(15.5)"><rect x="-3.5" y="-3.67" width="7.0" height="7.33" rx="2.6" fill="none" stroke="#2a2a2a" stroke-width="0.9"/><circle cx="0" cy="0" r="1.25" fill="none" stroke="#2a2a2a" stroke-width="0.8"/></g>
<g transform="translate(496.7,457.8) rotate(14.6)"><rect x="-3.5" y="-3.63" width="7.0" height="7.27" rx="2.6" fill="none" stroke="#2a2a2a" stroke-width="0.9"/><circle cx="0" cy="0" r="1.25" fill="none" stroke="#2a2a2a" stroke-width="0.8"/></g>
<g transform="translate(503.1,459.5) rotate(14.5)"><rect x="-3.5" y="-3.63" width="7.0" height="7.26" rx="2.6" fill="none" stroke="#2a2a2a" stroke-width="0.9"/><circle cx="0" cy="0" r="1.25" fill="none" stroke="#2a2a2a" stroke-width="0.8"/></g>
<g transform="translate(509.4,461.0) rotate(12.3)"><rect x="-3.5" y="-3.55" width="7.0" height="7.10" rx="2.6" fill="none" stroke="#2a2a2a" stroke-width="0.9"/><circle cx="0" cy="0" r="1.25" fill="none" stroke="#2a2a2a" stroke-width="0.8"/></g>
<g transform="translate(515.8,462.3) rotate(10.0)"><rect x="-3.5" y="-3.47" width="7.0" height="6.93" rx="2.6" fill="none" stroke="#2a2a2a" stroke-width="0.9"/><circle cx="0" cy="0" r="1.25" fill="none" stroke="#2a2a2a" stroke-width="0.8"/></g>
<g transform="translate(522.3,463.5) rotate(12.6)"><rect x="-3.5" y="-3.56" width="7.0" height="7.12" rx="2.6" fill="none" stroke="#2a2a2a" stroke-width="0.9"/><circle cx="0" cy="0" r="1.25" fill="none" stroke="#2a2a2a" stroke-width="0.8"/></g>
<g transform="translate(528.5,465.5) rotate(22.9)"><rect x="-3.5" y="-3.96" width="7.0" height="7.92" rx="2.6" fill="none" stroke="#2a2a2a" stroke-width="0.9"/><circle cx="0" cy="0" r="1.25" fill="none" stroke="#2a2a2a" stroke-width="0.8"/></g>
<g transform="translate(533.9,469.1) rotate(46.7)"><rect x="-3.7" y="-4.82" width="7.4" height="3.76" rx="2.2" fill="none" stroke="#2a2a2a" stroke-width="0.85"/><rect x="-3.3" y="0.40" width="6.6" height="4.52" rx="2.4" fill="none" stroke="#2a2a2a" stroke-width="0.9"/><circle cx="0" cy="2.66" r="1.1" fill="none" stroke="#2a2a2a" stroke-width="0.8"/></g>
<g transform="translate(536.8,474.8) rotate(81.3)"><rect x="-3.7" y="-5.66" width="7.4" height="4.47" rx="2.2" fill="none" stroke="#2a2a2a" stroke-width="0.85"/><rect x="-3.3" y="0.40" width="6.6" height="5.36" rx="2.4" fill="none" stroke="#2a2a2a" stroke-width="0.9"/><circle cx="0" cy="3.08" r="1.1" fill="none" stroke="#2a2a2a" stroke-width="0.8"/></g>
<g transform="translate(536.0,481.2) rotate(109.3)"><rect x="-3.7" y="-5.51" width="7.4" height="4.35" rx="2.2" fill="none" stroke="#2a2a2a" stroke-width="0.85"/><rect x="-3.3" y="0.40" width="6.6" height="5.21" rx="2.4" fill="none" stroke="#2a2a2a" stroke-width="0.9"/><circle cx="0" cy="3.01" r="1.1" fill="none" stroke="#2a2a2a" stroke-width="0.8"/></g>
<g transform="translate(533.3,487.2) rotate(119.0)"><rect x="-3.7" y="-5.28" width="7.4" height="4.15" rx="2.2" fill="none" stroke="#2a2a2a" stroke-width="0.85"/><rect x="-3.3" y="0.40" width="6.6" height="4.98" rx="2.4" fill="none" stroke="#2a2a2a" stroke-width="0.9"/><circle cx="0" cy="2.89" r="1.1" fill="none" stroke="#2a2a2a" stroke-width="0.8"/></g>
<g transform="translate(529.8,492.7) rotate(128.4)"><rect x="-3.7" y="-5.00" width="7.4" height="3.91" rx="2.2" fill="none" stroke="#2a2a2a" stroke-width="0.85"/><rect x="-3.3" y="0.40" width="6.6" height="4.70" rx="2.4" fill="none" stroke="#2a2a2a" stroke-width="0.9"/><circle cx="0" cy="2.75" r="1.1" fill="none" stroke="#2a2a2a" stroke-width="0.8"/></g>
<g transform="translate(525.8,497.9) rotate(129.6)"><rect x="-3.7" y="-4.95" width="7.4" height="3.87" rx="2.2" fill="none" stroke="#2a2a2a" stroke-width="0.85"/><rect x="-3.3" y="0.40" width="6.6" height="4.65" rx="2.4" fill="none" stroke="#2a2a2a" stroke-width="0.9"/><circle cx="0" cy="2.73" r="1.1" fill="none" stroke="#2a2a2a" stroke-width="0.8"/></g>
<g transform="translate(520.5,501.5) rotate(162.1)"><rect x="-3.5" y="-3.76" width="7.0" height="7.52" rx="2.6" fill="none" stroke="#2a2a2a" stroke-width="0.9"/><circle cx="0" cy="0" r="1.25" fill="none" stroke="#2a2a2a" stroke-width="0.8"/></g>
<g transform="translate(514.0,501.8) rotate(-174.2)"><rect x="-3.5" y="-3.33" width="7.0" height="6.67" rx="2.6" fill="none" stroke="#2a2a2a" stroke-width="0.9"/><circle cx="0" cy="0" r="1.25" fill="none" stroke="#2a2a2a" stroke-width="0.8"/></g>
<g transform="translate(507.6,500.6) rotate(-166.8)"><rect x="-3.5" y="-3.58" width="7.0" height="7.16" rx="2.6" fill="none" stroke="#2a2a2a" stroke-width="0.9"/><circle cx="0" cy="0" r="1.25" fill="none" stroke="#2a2a2a" stroke-width="0.8"/></g>
<g transform="translate(501.3,499.0) rotate(-164.6)"><rect x="-3.5" y="-3.66" width="7.0" height="7.33" rx="2.6" fill="none" stroke="#2a2a2a" stroke-width="0.9"/><circle cx="0" cy="0" r="1.25" fill="none" stroke="#2a2a2a" stroke-width="0.8"/></g>
<g transform="translate(495.0,497.3) rotate(-165.0)"><rect x="-3.5" y="-3.65" width="7.0" height="7.29" rx="2.6" fill="none" stroke="#2a2a2a" stroke-width="0.9"/><circle cx="0" cy="0" r="1.25" fill="none" stroke="#2a2a2a" stroke-width="0.8"/></g>
<g transform="translate(488.6,495.7) rotate(-166.8)"><rect x="-3.5" y="-3.58" width="7.0" height="7.16" rx="2.6" fill="none" stroke="#2a2a2a" stroke-width="0.9"/><circle cx="0" cy="0" r="1.25" fill="none" stroke="#2a2a2a" stroke-width="0.8"/></g>
<g transform="translate(482.3,494.1) rotate(-166.1)"><rect x="-3.5" y="-3.61" width="7.0" height="7.22" rx="2.6" fill="none" stroke="#2a2a2a" stroke-width="0.9"/><circle cx="0" cy="0" r="1.25" fill="none" stroke="#2a2a2a" stroke-width="0.8"/></g>
<g transform="translate(475.9,492.5) rotate(-165.8)"><rect x="-3.5" y="-3.62" width="7.0" height="7.24" rx="2.6" fill="none" stroke="#2a2a2a" stroke-width="0.9"/><circle cx="0" cy="0" r="1.25" fill="none" stroke="#2a2a2a" stroke-width="0.8"/></g>
<g transform="translate(469.6,490.9) rotate(-165.7)"><rect x="-3.5" y="-3.62" width="7.0" height="7.25" rx="2.6" fill="none" stroke="#2a2a2a" stroke-width="0.9"/><circle cx="0" cy="0" r="1.25" fill="none" stroke="#2a2a2a" stroke-width="0.8"/></g>
<g transform="translate(463.3,489.3) rotate(-165.8)"><rect x="-3.5" y="-3.62" width="7.0" height="7.24" rx="2.6" fill="none" stroke="#2a2a2a" stroke-width="0.9"/><circle cx="0" cy="0" r="1.25" fill="none" stroke="#2a2a2a" stroke-width="0.8"/></g>
<g transform="translate(456.9,487.7) rotate(-165.7)"><rect x="-3.5" y="-3.62" width="7.0" height="7.24" rx="2.6" fill="none" stroke="#2a2a2a" stroke-width="0.9"/><circle cx="0" cy="0" r="1.25" fill="none" stroke="#2a2a2a" stroke-width="0.8"/></g>
<g transform="translate(450.6,486.1) rotate(-165.5)"><rect x="-3.5" y="-3.63" width="7.0" height="7.26" rx="2.6" fill="none" stroke="#2a2a2a" stroke-width="0.9"/><circle cx="0" cy="0" r="1.25" fill="none" stroke="#2a2a2a" stroke-width="0.8"/></g>
<g transform="translate(444.3,484.5) rotate(-165.7)"><rect x="-3.5" y="-3.62" width="7.0" height="7.25" rx="2.6" fill="none" stroke="#2a2a2a" stroke-width="0.9"/><circle cx="0" cy="0" r="1.25" fill="none" stroke="#2a2a2a" stroke-width="0.8"/></g>
<g transform="translate(437.9,482.9) rotate(-166.1)"><rect x="-3.5" y="-3.61" width="7.0" height="7.21" rx="2.6" fill="none" stroke="#2a2a2a" stroke-width="0.9"/><circle cx="0" cy="0" r="1.25" fill="none" stroke="#2a2a2a" stroke-width="0.8"/></g>
<g transform="translate(431.6,481.4) rotate(-167.2)"><rect x="-3.5" y="-3.57" width="7.0" height="7.14" rx="2.6" fill="none" stroke="#2a2a2a" stroke-width="0.9"/><circle cx="0" cy="0" r="1.25" fill="none" stroke="#2a2a2a" stroke-width="0.8"/></g>
<g transform="translate(425.2,479.9) rotate(-167.5)"><rect x="-3.5" y="-3.55" width="7.0" height="7.11" rx="2.6" fill="none" stroke="#2a2a2a" stroke-width="0.9"/><circle cx="0" cy="0" r="1.25" fill="none" stroke="#2a2a2a" stroke-width="0.8"/></g>
<g transform="translate(418.8,478.6) rotate(-168.2)"><rect x="-3.5" y="-3.53" width="7.0" height="7.06" rx="2.6" fill="none" stroke="#2a2a2a" stroke-width="0.9"/><circle cx="0" cy="0" r="1.25" fill="none" stroke="#2a2a2a" stroke-width="0.8"/></g>
<g transform="translate(412.4,477.3) rotate(-169.1)"><rect x="-3.5" y="-3.50" width="7.0" height="7.00" rx="2.6" fill="none" stroke="#2a2a2a" stroke-width="0.9"/><circle cx="0" cy="0" r="1.25" fill="none" stroke="#2a2a2a" stroke-width="0.8"/></g>
<g transform="translate(405.9,476.1) rotate(-169.7)"><rect x="-3.5" y="-3.48" width="7.0" height="6.95" rx="2.6" fill="none" stroke="#2a2a2a" stroke-width="0.9"/><circle cx="0" cy="0" r="1.25" fill="none" stroke="#2a2a2a" stroke-width="0.8"/></g>
<g transform="translate(399.5,474.9) rotate(-170.2)"><rect x="-3.5" y="-3.46" width="7.0" height="6.92" rx="2.6" fill="none" stroke="#2a2a2a" stroke-width="0.9"/><circle cx="0" cy="0" r="1.25" fill="none" stroke="#2a2a2a" stroke-width="0.8"/></g>
<g transform="translate(393.1,473.8) rotate(-170.6)"><rect x="-3.5" y="-3.45" width="7.0" height="6.89" rx="2.6" fill="none" stroke="#2a2a2a" stroke-width="0.9"/><circle cx="0" cy="0" r="1.25" fill="none" stroke="#2a2a2a" stroke-width="0.8"/></g>
<g transform="translate(386.6,472.8) rotate(-170.8)"><rect x="-3.5" y="-3.44" width="7.0" height="6.88" rx="2.6" fill="none" stroke="#2a2a2a" stroke-width="0.9"/><circle cx="0" cy="0" r="1.25" fill="none" stroke="#2a2a2a" stroke-width="0.8"/></g>
<g transform="translate(380.2,471.7) rotate(-171.0)"><rect x="-3.5" y="-3.43" width="7.0" height="6.87" rx="2.6" fill="none" stroke="#2a2a2a" stroke-width="0.9"/><circle cx="0" cy="0" r="1.25" fill="none" stroke="#2a2a2a" stroke-width="0.8"/></g>
<g transform="translate(373.7,470.7) rotate(-171.1)"><rect x="-3.5" y="-3.43" width="7.0" height="6.86" rx="2.6" fill="none" stroke="#2a2a2a" stroke-width="0.9"/><circle cx="0" cy="0" r="1.25" fill="none" stroke="#2a2a2a" stroke-width="0.8"/></g>
<g transform="translate(367.2,469.7) rotate(-171.1)"><rect x="-3.5" y="-3.43" width="7.0" height="6.86" rx="2.6" fill="none" stroke="#2a2a2a" stroke-width="0.9"/><circle cx="0" cy="0" r="1.25" fill="none" stroke="#2a2a2a" stroke-width="0.8"/></g>
<g transform="translate(360.8,468.7) rotate(-171.1)"><rect x="-3.5" y="-3.43" width="7.0" height="6.86" rx="2.6" fill="none" stroke="#2a2a2a" stroke-width="0.9"/><circle cx="0" cy="0" r="1.25" fill="none" stroke="#2a2a2a" stroke-width="0.8"/></g>
<g transform="translate(354.3,467.7) rotate(-171.1)"><rect x="-3.5" y="-3.43" width="7.0" height="6.86" rx="2.6" fill="none" stroke="#2a2a2a" stroke-width="0.9"/><circle cx="0" cy="0" r="1.25" fill="none" stroke="#2a2a2a" stroke-width="0.8"/></g>
<g transform="translate(347.9,466.7) rotate(-171.3)"><rect x="-3.5" y="-3.42" width="7.0" height="6.85" rx="2.6" fill="none" stroke="#2a2a2a" stroke-width="0.9"/><circle cx="0" cy="0" r="1.25" fill="none" stroke="#2a2a2a" stroke-width="0.8"/></g>
<g transform="translate(341.4,465.7) rotate(-172.4)"><rect x="-3.5" y="-3.39" width="7.0" height="6.77" rx="2.6" fill="none" stroke="#2a2a2a" stroke-width="0.9"/><circle cx="0" cy="0" r="1.25" fill="none" stroke="#2a2a2a" stroke-width="0.8"/></g>
<g transform="translate(334.9,464.9) rotate(-172.7)"><rect x="-3.5" y="-3.38" width="7.0" height="6.76" rx="2.6" fill="none" stroke="#2a2a2a" stroke-width="0.9"/><circle cx="0" cy="0" r="1.25" fill="none" stroke="#2a2a2a" stroke-width="0.8"/></g>
<g transform="translate(328.4,464.1) rotate(-172.2)"><rect x="-3.5" y="-3.39" width="7.0" height="6.79" rx="2.6" fill="none" stroke="#2a2a2a" stroke-width="0.9"/><circle cx="0" cy="0" r="1.25" fill="none" stroke="#2a2a2a" stroke-width="0.8"/></g>
<g transform="translate(321.9,463.1) rotate(-171.2)"><rect x="-3.5" y="-3.43" width="7.0" height="6.86" rx="2.6" fill="none" stroke="#2a2a2a" stroke-width="0.9"/><circle cx="0" cy="0" r="1.25" fill="none" stroke="#2a2a2a" stroke-width="0.8"/></g>
<g transform="translate(315.5,461.9) rotate(-167.9)"><rect x="-3.5" y="-3.54" width="7.0" height="7.08" rx="2.6" fill="none" stroke="#2a2a2a" stroke-width="0.9"/><circle cx="0" cy="0" r="1.25" fill="none" stroke="#2a2a2a" stroke-width="0.8"/></g>
<g transform="translate(309.3,460.0) rotate(-157.8)"><rect x="-3.5" y="-3.93" width="7.0" height="7.87" rx="2.6" fill="none" stroke="#2a2a2a" stroke-width="0.9"/><circle cx="0" cy="0" r="1.25" fill="none" stroke="#2a2a2a" stroke-width="0.8"/></g>
<g transform="translate(304.3,456.1) rotate(-114.5)"><rect x="-3.7" y="-5.40" width="7.4" height="4.25" rx="2.2" fill="none" stroke="#2a2a2a" stroke-width="0.85"/><rect x="-3.3" y="0.40" width="6.6" height="5.10" rx="2.4" fill="none" stroke="#2a2a2a" stroke-width="0.9"/><circle cx="0" cy="2.95" r="1.1" fill="none" stroke="#2a2a2a" stroke-width="0.8"/></g>
<g transform="translate(302.5,449.8) rotate(-101.3)"><rect x="-3.7" y="-5.63" width="7.4" height="4.45" rx="2.2" fill="none" stroke="#2a2a2a" stroke-width="0.85"/><rect x="-3.3" y="0.40" width="6.6" height="5.33" rx="2.4" fill="none" stroke="#2a2a2a" stroke-width="0.9"/><circle cx="0" cy="3.07" r="1.1" fill="none" stroke="#2a2a2a" stroke-width="0.8"/></g>
<g transform="translate(301.6,443.4) rotate(-92.3)"><rect x="-3.7" y="-5.70" width="7.4" height="4.50" rx="2.2" fill="none" stroke="#2a2a2a" stroke-width="0.85"/><rect x="-3.3" y="0.40" width="6.6" height="5.40" rx="2.4" fill="none" stroke="#2a2a2a" stroke-width="0.9"/><circle cx="0" cy="3.10" r="1.1" fill="none" stroke="#2a2a2a" stroke-width="0.8"/></g>
<g transform="translate(301.8,436.8) rotate(-84.8)"><rect x="-3.7" y="-5.69" width="7.4" height="4.49" rx="2.2" fill="none" stroke="#2a2a2a" stroke-width="0.85"/><rect x="-3.3" y="0.40" width="6.6" height="5.39" rx="2.4" fill="none" stroke="#2a2a2a" stroke-width="0.9"/><circle cx="0" cy="3.09" r="1.1" fill="none" stroke="#2a2a2a" stroke-width="0.8"/></g>
<g transform="translate(302.9,430.4) rotate(-76.5)"><rect x="-3.7" y="-5.61" width="7.4" height="4.43" rx="2.2" fill="none" stroke="#2a2a2a" stroke-width="0.85"/><rect x="-3.3" y="0.40" width="6.6" height="5.31" rx="2.4" fill="none" stroke="#2a2a2a" stroke-width="0.9"/><circle cx="0" cy="3.05" r="1.1" fill="none" stroke="#2a2a2a" stroke-width="0.8"/></g>
<g transform="translate(304.9,424.2) rotate(-69.0)"><rect x="-3.7" y="-5.48" width="7.4" height="4.32" rx="2.2" fill="none" stroke="#2a2a2a" stroke-width="0.85"/><rect x="-3.3" y="0.40" width="6.6" height="5.18" rx="2.4" fill="none" stroke="#2a2a2a" stroke-width="0.9"/><circle cx="0" cy="2.99" r="1.1" fill="none" stroke="#2a2a2a" stroke-width="0.8"/></g>
<g transform="translate(307.4,418.1) rotate(-65.8)"><rect x="-3.7" y="-5.41" width="7.4" height="4.26" rx="2.2" fill="none" stroke="#2a2a2a" stroke-width="0.85"/><rect x="-3.3" y="0.40" width="6.6" height="5.11" rx="2.4" fill="none" stroke="#2a2a2a" stroke-width="0.9"/><circle cx="0" cy="2.95" r="1.1" fill="none" stroke="#2a2a2a" stroke-width="0.8"/></g>
<g transform="translate(310.2,412.2) rotate(-63.8)"><rect x="-3.7" y="-5.36" width="7.4" height="4.21" rx="2.2" fill="none" stroke="#2a2a2a" stroke-width="0.85"/><rect x="-3.3" y="0.40" width="6.6" height="5.06" rx="2.4" fill="none" stroke="#2a2a2a" stroke-width="0.9"/><circle cx="0" cy="2.93" r="1.1" fill="none" stroke="#2a2a2a" stroke-width="0.8"/></g>
<g transform="translate(313.2,406.4) rotate(-62.8)"><rect x="-3.7" y="-5.33" width="7.4" height="4.19" rx="2.2" fill="none" stroke="#2a2a2a" stroke-width="0.85"/><rect x="-3.3" y="0.40" width="6.6" height="5.03" rx="2.4" fill="none" stroke="#2a2a2a" stroke-width="0.9"/><circle cx="0" cy="2.92" r="1.1" fill="none" stroke="#2a2a2a" stroke-width="0.8"/></g>
<g transform="translate(316.2,400.6) rotate(-62.6)"><rect x="-3.7" y="-5.33" width="7.4" height="4.19" rx="2.2" fill="none" stroke="#2a2a2a" stroke-width="0.85"/><rect x="-3.3" y="0.40" width="6.6" height="5.03" rx="2.4" fill="none" stroke="#2a2a2a" stroke-width="0.9"/><circle cx="0" cy="2.91" r="1.1" fill="none" stroke="#2a2a2a" stroke-width="0.8"/></g>
<g transform="translate(319.2,394.8) rotate(-61.9)"><rect x="-3.7" y="-5.31" width="7.4" height="4.17" rx="2.2" fill="none" stroke="#2a2a2a" stroke-width="0.85"/><rect x="-3.3" y="0.40" width="6.6" height="5.01" rx="2.4" fill="none" stroke="#2a2a2a" stroke-width="0.9"/><circle cx="0" cy="2.90" r="1.1" fill="none" stroke="#2a2a2a" stroke-width="0.8"/></g>
<g transform="translate(322.4,389.1) rotate(-60.8)"><rect x="-3.7" y="-5.28" width="7.4" height="4.15" rx="2.2" fill="none" stroke="#2a2a2a" stroke-width="0.85"/><rect x="-3.3" y="0.40" width="6.6" height="4.98" rx="2.4" fill="none" stroke="#2a2a2a" stroke-width="0.9"/><circle cx="0" cy="2.89" r="1.1" fill="none" stroke="#2a2a2a" stroke-width="0.8"/></g>
<g transform="translate(325.6,383.4) rotate(-59.3)"><rect x="-3.7" y="-5.24" width="7.4" height="4.11" rx="2.2" fill="none" stroke="#2a2a2a" stroke-width="0.85"/><rect x="-3.3" y="0.40" width="6.6" height="4.94" rx="2.4" fill="none" stroke="#2a2a2a" stroke-width="0.9"/><circle cx="0" cy="2.87" r="1.1" fill="none" stroke="#2a2a2a" stroke-width="0.8"/></g>
<g transform="translate(329.0,377.8) rotate(-58.1)"><rect x="-3.7" y="-5.20" width="7.4" height="4.08" rx="2.2" fill="none" stroke="#2a2a2a" stroke-width="0.85"/><rect x="-3.3" y="0.40" width="6.6" height="4.90" rx="2.4" fill="none" stroke="#2a2a2a" stroke-width="0.9"/><circle cx="0" cy="2.85" r="1.1" fill="none" stroke="#2a2a2a" stroke-width="0.8"/></g>
<g transform="translate(332.5,372.3) rotate(-57.4)"><rect x="-3.7" y="-5.18" width="7.4" height="4.06" rx="2.2" fill="none" stroke="#2a2a2a" stroke-width="0.85"/><rect x="-3.3" y="0.40" width="6.6" height="4.88" rx="2.4" fill="none" stroke="#2a2a2a" stroke-width="0.9"/><circle cx="0" cy="2.84" r="1.1" fill="none" stroke="#2a2a2a" stroke-width="0.8"/></g>
<g transform="translate(336.1,366.8) rotate(-56.2)"><rect x="-3.7" y="-5.14" width="7.4" height="4.03" rx="2.2" fill="none" stroke="#2a2a2a" stroke-width="0.85"/><rect x="-3.3" y="0.40" width="6.6" height="4.84" rx="2.4" fill="none" stroke="#2a2a2a" stroke-width="0.9"/><circle cx="0" cy="2.82" r="1.1" fill="none" stroke="#2a2a2a" stroke-width="0.8"/></g>
<g transform="translate(339.8,361.4) rotate(-55.5)"><rect x="-3.7" y="-5.12" width="7.4" height="4.01" rx="2.2" fill="none" stroke="#2a2a2a" stroke-width="0.85"/><rect x="-3.3" y="0.40" width="6.6" height="4.82" rx="2.4" fill="none" stroke="#2a2a2a" stroke-width="0.9"/><circle cx="0" cy="2.81" r="1.1" fill="none" stroke="#2a2a2a" stroke-width="0.8"/></g>
<g transform="translate(343.5,356.1) rotate(-54.7)"><rect x="-3.7" y="-5.10" width="7.4" height="3.99" rx="2.2" fill="none" stroke="#2a2a2a" stroke-width="0.85"/><rect x="-3.3" y="0.40" width="6.6" height="4.80" rx="2.4" fill="none" stroke="#2a2a2a" stroke-width="0.9"/><circle cx="0" cy="2.80" r="1.1" fill="none" stroke="#2a2a2a" stroke-width="0.8"/></g>
<g transform="translate(347.3,350.7) rotate(-54.3)"><rect x="-3.7" y="-5.08" width="7.4" height="3.98" rx="2.2" fill="none" stroke="#2a2a2a" stroke-width="0.85"/><rect x="-3.3" y="0.40" width="6.6" height="4.78" rx="2.4" fill="none" stroke="#2a2a2a" stroke-width="0.9"/><circle cx="0" cy="2.79" r="1.1" fill="none" stroke="#2a2a2a" stroke-width="0.8"/></g>
<g transform="translate(351.2,345.4) rotate(-53.8)"><rect x="-3.7" y="-5.07" width="7.4" height="3.97" rx="2.2" fill="none" stroke="#2a2a2a" stroke-width="0.85"/><rect x="-3.3" y="0.40" width="6.6" height="4.77" rx="2.4" fill="none" stroke="#2a2a2a" stroke-width="0.9"/><circle cx="0" cy="2.78" r="1.1" fill="none" stroke="#2a2a2a" stroke-width="0.8"/></g>
<g transform="translate(355.1,340.2) rotate(-53.1)"><rect x="-3.7" y="-5.04" width="7.4" height="3.95" rx="2.2" fill="none" stroke="#2a2a2a" stroke-width="0.85"/><rect x="-3.3" y="0.40" width="6.6" height="4.74" rx="2.4" fill="none" stroke="#2a2a2a" stroke-width="0.9"/><circle cx="0" cy="2.77" r="1.1" fill="none" stroke="#2a2a2a" stroke-width="0.8"/></g>
<g transform="translate(359.0,335.0) rotate(-52.2)"><rect x="-3.7" y="-5.01" width="7.4" height="3.92" rx="2.2" fill="none" stroke="#2a2a2a" stroke-width="0.85"/><rect x="-3.3" y="0.40" width="6.6" height="4.71" rx="2.4" fill="none" stroke="#2a2a2a" stroke-width="0.9"/><circle cx="0" cy="2.76" r="1.1" fill="none" stroke="#2a2a2a" stroke-width="0.8"/></g>
<g transform="translate(363.0,329.8) rotate(-51.3)"><rect x="-3.7" y="-4.98" width="7.4" height="3.90" rx="2.2" fill="none" stroke="#2a2a2a" stroke-width="0.85"/><rect x="-3.3" y="0.40" width="6.6" height="4.68" rx="2.4" fill="none" stroke="#2a2a2a" stroke-width="0.9"/><circle cx="0" cy="2.74" r="1.1" fill="none" stroke="#2a2a2a" stroke-width="0.8"/></g>
<g transform="translate(367.2,324.8) rotate(-50.1)"><rect x="-3.7" y="-4.94" width="7.4" height="3.86" rx="2.2" fill="none" stroke="#2a2a2a" stroke-width="0.85"/><rect x="-3.3" y="0.40" width="6.6" height="4.64" rx="2.4" fill="none" stroke="#2a2a2a" stroke-width="0.9"/><circle cx="0" cy="2.72" r="1.1" fill="none" stroke="#2a2a2a" stroke-width="0.8"/></g>
<g transform="translate(371.4,319.8) rotate(-47.9)"><rect x="-3.7" y="-4.86" width="7.4" height="3.79" rx="2.2" fill="none" stroke="#2a2a2a" stroke-width="0.85"/><rect x="-3.3" y="0.40" width="6.6" height="4.56" rx="2.4" fill="none" stroke="#2a2a2a" stroke-width="0.9"/><circle cx="0" cy="2.68" r="1.1" fill="none" stroke="#2a2a2a" stroke-width="0.8"/></g>
<g transform="translate(375.9,315.0) rotate(-45.0)"><rect x="-3.7" y="-4.76" width="7.4" height="3.70" rx="2.2" fill="none" stroke="#2a2a2a" stroke-width="0.85"/><rect x="-3.3" y="0.40" width="6.6" height="4.46" rx="2.4" fill="none" stroke="#2a2a2a" stroke-width="0.9"/><circle cx="0" cy="2.63" r="1.1" fill="none" stroke="#2a2a2a" stroke-width="0.8"/></g>
<g transform="translate(380.6,310.5) rotate(-43.2)"><rect x="-3.7" y="-4.69" width="7.4" height="3.65" rx="2.2" fill="none" stroke="#2a2a2a" stroke-width="0.85"/><rect x="-3.3" y="0.40" width="6.6" height="4.39" rx="2.4" fill="none" stroke="#2a2a2a" stroke-width="0.9"/><circle cx="0" cy="2.60" r="1.1" fill="none" stroke="#2a2a2a" stroke-width="0.8"/></g>
<g transform="translate(385.5,306.1) rotate(-38.8)"><rect x="-3.7" y="-4.51" width="7.4" height="3.50" rx="2.2" fill="none" stroke="#2a2a2a" stroke-width="0.85"/><rect x="-3.3" y="0.40" width="6.6" height="4.21" rx="2.4" fill="none" stroke="#2a2a2a" stroke-width="0.9"/><circle cx="0" cy="2.51" r="1.1" fill="none" stroke="#2a2a2a" stroke-width="0.8"/></g>
<g transform="translate(390.9,302.5) rotate(-26.0)"><rect x="-3.5" y="-4.09" width="7.0" height="8.18" rx="2.6" fill="none" stroke="#2a2a2a" stroke-width="0.9"/><circle cx="0" cy="0" r="1.25" fill="none" stroke="#2a2a2a" stroke-width="0.8"/></g>
<path d="M267.2,486.8 L266.7,486.4 L265.6,485.7 L264.9,485.0 L265.9,484.5 L269.6,484.4 L276.9,484.8 L286.9,485.6 L298.6,486.6 L310.7,487.8 L322.0,489.0 L332.1,490.1 L341.6,491.0 L351.5,492.2 L362.4,493.9 L375.2,496.4 L391.5,500.2 L410.8,505.1 L430.6,510.4 L448.3,515.4 L461.6,519.2 L469.3,521.7 L473.2,523.3 L474.7,524.5 L475.5,525.6 L477.0,527.0 L479.3,528.7 L481.3,530.4 L483.0,532.1 L484.6,534.0 L486.0,536.0 L487.3,538.3 L488.5,540.9 L489.5,543.5 L490.2,545.9 L490.4,548.0 L490.0,549.7 L488.9,551.1 L487.6,552.3 L486.4,553.3 L485.6,554.0 L476.0,552.0 L468.8,548.0 L463.0,538.0 L459.2,532.4 L440.0,523.0 L425.6,515.6 L389.6,507.5 L368.0,506.0 L366.0,512.5 L350.0,511.0 L348.8,502.0 L334.4,500.5 L296.0,498.8 L281.6,494.0 L267.2,486.8 Z" fill="#fff" stroke="#2a2a2a" stroke-width="1.05" />
<path d="M269.0,487.8 L281.6,493.0 L375.2,500.2 L461.6,523.0 L478.0,532.0 L484.0,541.0" fill="none" stroke="#2a2a2a" stroke-width="1.0" />
<path d="M270.0,485.6 L322.0,490.2 L375.2,497.8 L461.6,520.8" fill="none" stroke="#2a2a2a" stroke-width="1.4" />
<path d="M296.0,494.5 L315.0,495.5 L315.0,499.5 L297.0,498.5 Z" fill="none" stroke="#2a2a2a" stroke-width="0.9" />
<path d="M315.0,495.5 L333.0,497.0 L334.4,504.5 L316.0,503.5 Z" fill="none" stroke="#2a2a2a" stroke-width="0.9" />
<path d="M349.0,501.0 L362.0,502.0 L368.0,507.0 L366.0,513.0 L351.0,511.0 Z" fill="none" stroke="#2a2a2a" stroke-width="0.9" />
<path d="M352.0,503.0 L364.0,511.0" fill="none" stroke="#2a2a2a" stroke-width="0.8" />
<path d="M392.0,508.5 L414.0,511.5 L418.4,516.0 L416.0,522.8 L394.0,519.0 Z" fill="none" stroke="#2a2a2a" stroke-width="0.95" />
<path d="M396.0,511.0 L412.0,513.5 L413.0,519.0 L397.0,516.5 Z" fill="none" stroke="#2a2a2a" stroke-width="0.8" />
<path d="M380.0,502.0 L381.0,507.0" fill="none" stroke="#2a2a2a" stroke-width="0.9" />
<path d="M425.6,511.0 L426.5,515.6" fill="none" stroke="#2a2a2a" stroke-width="0.9" />
<path d="M440.0,516.0 L441.0,523.0" fill="none" stroke="#2a2a2a" stroke-width="0.9" />
<path d="M459.5,525.0 L470.0,530.0 L481.0,540.0 L486.0,550.0 L479.0,551.5 L468.0,545.0 L461.0,534.0 Z" fill="none" stroke="#2a2a2a" stroke-width="0.95" />
<path d="M449.6,303.2 L449.4,304.6 L449.2,306.5 L449.0,308.8 L448.7,311.3 L448.3,313.8 L448.0,316.0 L447.6,318.0 L447.2,319.9 L446.7,321.7 L446.2,323.7 L445.8,325.7 L445.6,328.0 L445.5,330.5 L445.4,333.3 L445.5,336.2 L445.6,339.2 L445.8,342.1 L446.0,345.0 L446.3,347.8 L446.8,350.6 L447.2,353.4 L447.8,356.1 L448.4,358.9 L449.0,361.6 L449.6,364.2 L450.2,366.8 L450.9,369.4 L451.6,372.0 L452.5,374.6 L453.5,377.5 L454.7,380.6 L455.9,383.8 L457.3,387.2 L458.9,390.6 L460.6,393.9 L462.5,397.0 L464.6,400.0 L466.8,402.8 L469.2,405.6 L471.7,408.3 L474.5,411.0 L477.5,413.5 L480.7,416.0 L484.2,418.4 L487.8,420.7 L491.7,422.9 L495.7,425.0 L500.0,427.0 L504.6,428.8 L509.4,430.5 L514.5,432.1 L519.7,433.5 L524.9,434.8 L530.0,436.0 L535.1,437.1 L540.4,438.0 L545.8,438.8 L550.9,439.5 L555.7,440.0 L560.0,440.5 L563.9,440.8 L567.6,441.0 L570.9,441.0 L573.8,441.0 L576.2,441.0 L578.0,441.0 L575.0,433.0 L574.9,431.4 L574.8,429.2 L574.7,426.5 L574.5,423.8 L574.1,421.4 L573.5,419.5 L572.6,418.2 L571.5,417.3 L570.2,416.7 L568.8,416.1 L567.4,415.6 L566.0,415.0 L564.8,414.2 L563.8,413.3 L562.7,412.4 L561.4,411.6 L559.6,411.1 L557.0,411.0 L553.4,411.4 L548.8,412.3 L543.7,413.4 L538.6,414.6 L533.8,415.7 L530.0,416.5 L527.2,417.2 L525.2,417.9 L523.6,418.4 L522.1,418.8 L520.3,418.7 L518.0,418.0 L515.0,416.7 L511.6,414.7 L508.0,412.4 L504.2,409.8 L500.5,407.1 L497.0,404.5 L493.5,401.9 L489.9,399.3 L486.4,396.5 L483.1,393.7 L480.0,390.9 L477.5,388.0 L475.5,385.0 L473.8,381.8 L472.6,378.5 L471.5,375.3 L470.7,372.5 L470.0,370.0 L469.6,368.3 L469.5,367.2 L469.6,366.3 L469.7,365.4 L469.8,363.9 L469.6,361.6 L469.1,358.2 L468.5,353.9 L467.8,349.2 L467.1,344.2 L466.5,339.4 L466.0,335.0 L465.7,330.8 L465.6,326.5 L465.6,322.2 L465.6,318.4 L465.6,315.2 L465.6,312.8 L468.8,307.6 L456.8,300.8 Z" fill="#fff" stroke="#2a2a2a" stroke-width="1" />
<path d="M449.6,303.2 L462.4,312.4 L468.8,307.6" fill="none" stroke="#2a2a2a" stroke-width="1" />
<path d="M462.4,312.4 L462.2,314.4 L461.8,317.1 L461.5,320.3 L461.1,324.0 L460.9,327.9 L460.8,332.0 L460.9,336.4 L461.1,341.4 L461.4,346.6 L461.8,351.8 L462.3,356.9 L463.0,361.6 L463.7,365.9 L464.5,369.9 L465.4,373.7 L466.5,377.5 L468.0,381.2 L470.0,385.0 L472.5,389.0 L475.5,393.0 L478.9,397.1 L482.5,401.0 L486.2,404.7 L490.0,408.0 L493.8,410.9 L497.8,413.5 L501.9,415.9 L506.1,418.0 L510.5,420.1 L515.0,422.0 L519.7,423.9 L524.6,425.6 L529.7,427.2 L534.8,428.6 L539.9,429.9 L545.0,431.0 L550.3,431.9 L556.1,432.6 L561.9,433.1 L567.2,433.4 L571.7,433.7 L575.0,434.0" fill="none" stroke="#2a2a2a" stroke-width="0.9" />
<path d="M456.8,325.6 L456.5,327.7 L456.1,330.7 L455.6,334.3 L455.2,338.0 L455.0,341.7 L455.0,345.0 L455.3,347.9 L455.9,350.5 L456.6,353.1 L457.5,355.7 L458.3,358.5 L459.2,361.6 L459.9,365.1 L460.6,368.9 L461.3,372.9 L462.2,377.0 L463.4,381.0 L465.0,385.0 L467.1,389.0 L469.6,393.0 L472.4,397.1 L475.5,401.0 L478.7,404.7 L482.0,408.0 L485.4,410.9 L489.0,413.5 L492.8,415.8 L496.7,418.0 L500.8,420.0 L505.0,422.0 L509.4,423.9 L514.0,425.7 L518.8,427.3 L523.6,428.9 L528.3,430.3 L533.0,431.5 L537.9,432.6 L543.1,433.5 L548.2,434.3 L553.0,435.0 L557.1,435.6 L560.0,436.0" fill="none" stroke="#2a2a2a" stroke-width="0.9" />
<path d="M452.0,330.0 L451.9,331.6 L451.6,333.9 L451.4,336.5 L451.1,339.4 L451.0,342.3 L451.0,345.0 L451.1,347.6 L451.3,350.1 L451.6,352.8 L452.0,355.4 L452.5,358.1 L453.0,361.0 L453.6,364.0 L454.2,367.1 L454.9,370.2 L455.7,373.5 L456.7,376.7 L458.0,380.0 L459.5,383.3 L461.2,386.7 L463.1,390.2 L465.1,393.6 L467.5,396.9 L470.0,400.0 L472.8,402.9 L475.9,405.8 L479.2,408.5 L482.7,411.1 L486.3,413.6 L490.0,416.0 L494.2,418.4 L498.9,420.7 L503.8,423.0 L508.3,425.0 L512.2,426.7 L515.0,428.0" fill="none" stroke="#2a2a2a" stroke-width="0.8" />
<rect x="474.75" y="382.0" width="10" height="9" rx="2.5" transform="rotate(45 479.75 386.5)" fill="#fff" stroke="#2a2a2a" stroke-width="0.9"/>
<rect x="485.25" y="386.5" width="10" height="9" rx="2.5" transform="rotate(45 490.25 391.0)" fill="#fff" stroke="#2a2a2a" stroke-width="0.9"/>
<rect x="491.25" y="400.75" width="10" height="9" rx="2.5" transform="rotate(45 496.25 405.25)" fill="#fff" stroke="#2a2a2a" stroke-width="0.9"/>
<rect x="504.75" y="411.25" width="10" height="9" rx="2.5" transform="rotate(45 509.75 415.75)" fill="#fff" stroke="#2a2a2a" stroke-width="0.9"/>
<path d="M542.0,421.0 L552.0,423.0 L552.0,431.0 L546.0,432.0 L546.0,437.0" fill="none" stroke="#2a2a2a" stroke-width="0.9" />
<path d="M555.0,437.0 L556.0,421.0 L566.0,419.0 L572.0,424.0 L572.0,436.0 L566.0,439.0" fill="none" stroke="#2a2a2a" stroke-width="1" />
<ellipse cx="565.5" cy="429.5" rx="3.8" ry="5" fill="#fff" stroke="#2a2a2a" stroke-width="1"/>
<path d="M468.0,312.0 L467.0,322.0 L470.0,330.0 L472.0,327.0 L471.0,316.0" fill="none" stroke="#2a2a2a" stroke-width="0.8" />
<g transform="translate(589.5,441) rotate(29.4)"><path d="M0,-4 L45,-4 A2.5,4 0 0 1 45,4 L0,4 A2.5,4 0 0 1 0,-4 Z" fill="#fff" stroke="#2a2a2a" stroke-width="1"/><path d="M45,-4 A2.5,4 0 0 0 45,4" fill="none" stroke="#2a2a2a" stroke-width="0.9"/></g>
<path d="M474.0,336.5 L474.0,335.6 L474.1,334.7 L474.6,334.0 L475.9,333.8 L478.0,334.2 L481.4,335.5 L485.8,337.5 L490.8,339.9 L496.0,342.6 L501.0,345.2 L506.0,347.9 L511.2,350.9 L516.4,353.9 L521.1,356.9 L525.0,359.5 L528.2,361.9 L530.8,364.2 L532.9,366.3 L534.3,368.1 L535.0,369.5 L534.8,370.4 L533.7,370.9 L532.0,371.1 L530.1,371.1 L528.0,371.0 L525.8,370.8 L523.3,370.4 L520.6,369.8 L517.8,369.0 L515.0,368.0 L512.1,366.8 L509.1,365.3 L506.1,363.6 L503.0,361.8 L500.0,360.0 L496.9,358.1 L493.6,356.0 L490.4,354.0 L487.5,351.9 L485.0,350.0 L483.0,348.2 L481.5,346.5 L480.2,344.9 L479.1,343.4 L478.0,342.0 L476.9,340.7 L475.8,339.5 L474.9,338.3 L474.2,337.4 Z" fill="#fff" stroke="#2a2a2a" stroke-width="1.2" />
<path d="M478.0,337.5 L481.0,338.9 L485.1,340.8 L490.0,343.0 L495.1,345.5 L500.0,348.0 L504.9,350.7 L510.2,353.7 L515.5,356.8 L520.2,359.6 L524.0,362.0 L526.8,363.9 L528.7,365.5 L530.1,366.7 L531.2,367.7 L532.0,368.5" fill="none" stroke="#2a2a2a" stroke-width="1.0" />
<path d="M489.0,345.0 L491.4,345.8 L495.0,347.2 L499.1,349.1 L503.0,351.0 L506.8,353.0 L510.7,355.1 L514.3,357.2 L517.0,359.0 L518.9,360.5 L520.3,361.8 L520.8,362.7 L520.0,363.0 L517.5,362.7 L513.6,361.9 L509.1,360.6 L505.0,359.0 L501.1,356.8 L497.2,354.0 L493.6,351.2 L491.0,349.0 L489.3,347.3 L488.2,346.0 L488.1,345.2 Z" fill="none" stroke="#2a2a2a" stroke-width="1.1" />
<path d="M492.0,348.0 L494.4,349.0 L497.9,350.4 L501.7,352.0 L505.0,353.5 L507.9,355.1 L510.8,356.8 L513.3,358.4 L515.0,359.5" fill="none" stroke="#2a2a2a" stroke-width="0.9" />
<path d="M481.0,340.0 L487.0,346.0" fill="none" stroke="#2a2a2a" stroke-width="1.6" />
<path d="M522.0,364.0 L529.0,369.0" fill="none" stroke="#2a2a2a" stroke-width="1.6" />
<g transform="translate(539.5,288) rotate(116.6)"><path d="M0,-11.5 L58,-11.5 A6.5,11.5 0 0 1 58,11.5 L0,11.5 A6.5,11.5 0 0 1 0,-11.5 Z" fill="#fff" stroke="#2a2a2a" stroke-width="1"/><path d="M58,-11.5 A6.5,11.5 0 0 0 58,11.5" fill="none" stroke="#2a2a2a" stroke-width="0.9"/></g>
<g transform="translate(516,273.5) rotate(29)"><path d="M0,-4.5 L60,-4.5 A4.5,4.5 0 0 1 60,4.5 L0,4.5 A4.5,4.5 0 0 1 0,-4.5 Z" fill="#fff" stroke="#2a2a2a" stroke-width="1"/><path d="M2,-1.5 L58,-1.5" stroke="#2a2a2a" stroke-width="0.8"/><path d="M2,2 L10,2 M50,2 L58,2" stroke="#2a2a2a" stroke-width="0.8"/><path d="M20,-4.5 C24,-9 38,-9 42,-4.5" fill="#fff" stroke="#2a2a2a" stroke-width="1"/></g>
<path d="M518.0,299.0 L527.0,291.0 L546.0,301.0 L546.0,306.0 L538.0,316.0 L519.0,306.0 Z" fill="#fff" stroke="#2a2a2a" stroke-width="1" />
<path d="M525.5,295.0 L537.0,300.0 L537.0,309.0 L526.0,304.0 Z" fill="none" stroke="#2a2a2a" stroke-width="0.9" />
<path d="M537.0,300.0 L546.0,304.0" fill="none" stroke="#2a2a2a" stroke-width="0.9" />
<path d="M537.0,309.0 L538.0,316.0" fill="none" stroke="#2a2a2a" stroke-width="0.9" />
<path d="M519.0,306.0 L517.0,309.0" fill="none" stroke="#2a2a2a" stroke-width="0.9" />
<path d="M272.5,783.6 L284.2,764.7 L287.5,770.6 L306.3,758.2 L309.0,757.6 L310.2,773.8 L289.4,785.5 L286.8,792.7 Z" fill="#fff" stroke="#2a2a2a" stroke-width="1.1" />
<path d="M274.5,785.0 L285.5,767.0" fill="none" stroke="#2a2a2a" stroke-width="0.9" />
<path d="M287.5,770.6 L289.4,785.5" fill="none" stroke="#2a2a2a" stroke-width="0.8" />
<path d="M306.3,758.2 L308.6,761.0 L309.5,773.5" fill="none" stroke="#2a2a2a" stroke-width="0.9" />
<text x="0" y="0" font-size="10.5" font-weight="bold" font-style="italic" fill="#1a1a1a" text-anchor="middle" transform="translate(298.5,779.5) rotate(-27)">FWD</text>
<text x="0" y="0" font-size="10" letter-spacing="0.6" fill="#262626" transform="translate(253.5,809.5) scale(1.16,1)">1RC1300-N040</text>
</svg></body></html>
